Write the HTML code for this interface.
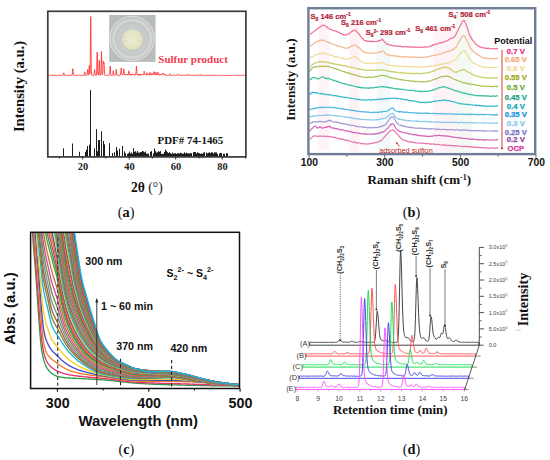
<!DOCTYPE html>
<html><head><meta charset="utf-8"><title>Figure</title>
<style>html,body{margin:0;padding:0;background:#fff;width:550px;height:460px;overflow:hidden;font-family:"Liberation Sans", sans-serif;}svg{display:block}</style>
</head><body>
<svg width="550" height="460" viewBox="0 0 550 460">
<path d="M48.3,75 48.5,75.3 48.7,75.3 48.9,75.2 49.1,75.1 49.3,75.3 49.5,75.4 49.7,75.2 49.9,75.2 50.1,75.1 50.3,75 50.5,75.1 50.7,75.2 50.9,75 51.1,75.3 51.3,75.1 51.5,75.1 51.7,75 51.9,75.4 52.1,75.3 52.3,75.4 52.5,75.3 52.7,75 52.9,75.1 53.1,75.2 53.3,75 53.5,75.4 53.7,75.1 53.9,75 54.1,75.4 54.3,75 54.5,75.4 54.7,75.2 54.9,75.2 55.1,75.1 55.3,75.2 55.5,75 55.7,75 55.9,75.4 56.1,75.1 56.3,75.3 56.5,75.1 56.7,75.4 56.9,75.4 57.1,75.3 57.3,75.3 57.5,75.2 57.7,75.3 57.9,75 58.1,75.2 58.3,75.4 58.5,75.1 58.7,75.4 58.9,75.4 59.1,75.2 59.3,75.1 59.5,75.2 59.7,75.1 59.9,75.4 60.1,75.1 60.3,75 60.5,75 60.7,75.3 60.9,75.4 61.1,75.2 61.3,75.2 61.5,75.2 61.7,75.3 61.9,75.1 62.1,75.3 62.3,75.2 62.5,75.3 62.7,75 62.9,75 63.1,75 63.3,75 63.5,73.8 63.7,72.9 63.9,72.8 64.1,73.7 64.3,74.5 64.5,75.3 64.7,75.3 64.9,75.1 65.1,75.3 65.3,75.3 65.5,75.4 65.7,75.4 65.9,75.2 66.1,75.4 66.3,75.4 66.5,75.2 66.7,75.4 66.9,75.2 67.1,75.1 67.3,75.1 67.5,75.4 67.7,75 67.9,75 68.1,75.4 68.3,75.3 68.5,75.2 68.7,75.4 68.9,75 69.1,75.1 69.3,75.1 69.5,75.2 69.7,75 69.9,75 70.1,75.1 70.3,75.4 70.5,75.4 70.7,75.3 70.9,75.2 71.1,75.1 71.3,75.4 71.5,75.2 71.7,75.3 71.9,74.9 72.1,74.8 72.3,74.1 72.5,71.6 72.7,68.9 72.9,68.7 73.1,71.4 73.3,74 73.5,75.1 73.7,75.1 73.9,75.2 74.1,75.1 74.3,75.3 74.5,75 74.7,75.3 74.9,75.4 75.1,75 75.3,75.2 75.5,75.3 75.7,75.4 75.9,75.2 76.1,75.1 76.3,75.2 76.5,75.4 76.7,75.4 76.9,75 77.1,75 77.3,75 77.5,75 77.7,75.2 77.9,75 78.1,75.4 78.3,75.3 78.5,75 78.7,75.2 78.9,75.1 79.1,75.2 79.3,75.1 79.5,75 79.7,75 79.9,75.1 80.1,75.3 80.3,75.2 80.5,75 80.7,75.3 80.9,75.4 81.1,75.3 81.3,75.3 81.5,75 81.7,75.2 81.9,75 82.1,75.3 82.3,75 82.5,75.3 82.7,75.1 82.9,75.3 83.1,75.1 83.3,75 83.5,75.1 83.7,75.1 83.9,75.4 84.1,74.8 84.3,74 84.5,72.6 84.7,71.9 84.9,72.3 85.1,74.1 85.3,74.9 85.5,75.3 85.7,75.4 85.9,75.1 86.1,75.3 86.3,75.2 86.5,75.2 86.7,75 86.9,75.2 87.1,74.4 87.3,71.9 87.5,69.5 87.7,69.8 87.9,71.8 88.1,73.9 88.3,74.8 88.5,75.2 88.7,74.5 88.9,72 89.1,68.1 89.3,65.5 89.5,68.1 89.7,72 89.9,73.7 90.1,70.2 90.3,55.8 90.5,30.7 90.7,16.5 90.9,30.8 91.1,55.8 91.3,70.5 91.5,74.7 91.7,75.3 91.9,75.2 92.1,75.1 92.3,75.1 92.5,75.2 92.7,75.3 92.9,75.4 93.1,75 93.3,75.2 93.5,75.2 93.7,75.3 93.9,75.2 94.1,74.3 94.3,72 94.5,69.7 94.7,69.7 94.9,72.2 95.1,74.2 95.3,75.1 95.5,75.1 95.7,75.4 95.9,75.1 96.1,75.3 96.3,75.3 96.5,74.6 96.7,71.1 96.9,61.8 97.1,52.2 97.3,52.2 97.5,62 97.7,70.7 97.9,74.4 98.1,74.9 98.3,75.1 98.5,75.2 98.7,74.1 98.9,70.2 99.1,63.6 99.3,60.4 99.5,63.9 99.7,70.1 99.9,73.9 100.1,75.1 100.3,75.3 100.5,75.1 100.7,75.1 100.9,73.2 101.1,67.3 101.3,57.6 101.5,51.5 101.7,57.5 101.9,67.3 102.1,73.3 102.3,74.8 102.5,75 102.7,74.3 102.9,70.7 103.1,64.9 103.3,61.3 103.5,62.6 103.7,63.9 103.9,62.4 104.1,63.3 104.3,68.3 104.5,73.2 104.7,74.5 104.9,75.3 105.1,75.4 105.3,75.3 105.5,75 105.7,75.2 105.9,75 106.1,75.3 106.3,75.3 106.5,75.1 106.7,75 106.9,75.2 107.1,75 107.3,75.1 107.5,75.2 107.7,75.4 107.9,75.1 108.1,75 108.3,75.3 108.5,75.4 108.7,75.2 108.9,75 109.1,75 109.3,75.1 109.5,74.9 109.7,73.3 109.9,70 110.1,66 110.3,66.1 110.5,70 110.7,73.2 110.9,74.9 111.1,75 111.3,75.4 111.5,75.3 111.7,75.3 111.9,75 112.1,75 112.3,75.4 112.5,75.2 112.7,74.9 112.9,73.7 113.1,71.9 113.3,70.6 113.5,71.7 113.7,73.6 113.9,74.7 114.1,75.2 114.3,75.4 114.5,75 114.7,75 114.9,75.2 115.1,75.3 115.3,75 115.5,75 115.7,74.5 115.9,73 116.1,70.6 116.3,69.3 116.5,70.7 116.7,73 116.9,74.5 117.1,75.3 117.3,75.2 117.5,75.2 117.7,75.3 117.9,75.3 118.1,75.2 118.3,75 118.5,75.4 118.7,75.1 118.9,75 119.1,75.1 119.3,75.2 119.5,75.3 119.7,75 119.9,75.3 120.1,75 120.3,74.5 120.5,74.5 120.7,73.1 120.9,71.4 121.1,68.4 121.3,68.1 121.5,71.1 121.7,73.5 121.9,74.4 122.1,74.7 122.3,74.1 122.5,74.3 122.7,74.1 122.9,74.4 123.1,74.2 123.3,74 123.5,71.8 123.7,68.8 123.9,69.4 124.1,71.3 124.3,74.2 124.5,74.9 124.7,74.1 124.9,74.3 125.1,75.1 125.3,74.6 125.5,74.5 125.7,74.7 125.9,74.6 126.1,74.6 126.3,74.5 126.5,75.1 126.7,74.8 126.9,74.6 127.1,74.3 127.3,74.7 127.5,74.3 127.7,74.7 127.9,75.2 128.1,74.3 128.3,74.5 128.5,73.3 128.7,71.8 128.9,70.8 129.1,71.6 129.3,73.1 129.5,74.6 129.7,74.2 129.9,74.4 130.1,74.2 130.3,75.3 130.5,74.5 130.7,74.2 130.9,74.4 131.1,74.9 131.3,74.6 131.5,75.1 131.7,75 131.9,74.9 132.1,74.9 132.3,74.3 132.5,75 132.7,74.7 132.9,74.2 133.1,74.8 133.3,74.2 133.5,74.5 133.7,74.9 133.9,74.4 134.1,74.8 134.3,75 134.5,75.3 134.7,74.8 134.9,74.5 135.1,75.2 135.3,75 135.5,75 135.7,74.8 135.9,74.1 136.1,71.6 136.3,68.7 136.5,66 136.7,68.2 136.9,72.3 137.1,74.1 137.3,74.6 137.5,75.1 137.7,74.5 137.9,74.8 138.1,75.3 138.3,74.8 138.5,75 138.7,75.3 138.9,74.3 139.1,74.8 139.3,74.1 139.5,74 139.7,74.6 139.9,75.1 140.1,74.5 140.3,74.9 140.5,75.3 140.7,75 140.9,74.3 141.1,75.2 141.3,75 141.5,74.8 141.7,74.7 141.9,75 142.1,74.7 142.3,74.6 142.5,74.9 142.7,74.9 142.9,74.9 143.1,75 143.3,75 143.5,74.1 143.7,73.8 143.9,72.5 144.1,71.2 144.3,71.6 144.5,72.6 144.7,74.1 144.9,74.7 145.1,74.5 145.3,74.3 145.5,74.7 145.7,74.6 145.9,74.1 146.1,74.7 146.3,75.2 146.5,74.2 146.7,73.7 146.9,72.9 147.1,72.7 147.3,73.4 147.5,74 147.7,74.4 147.9,74.2 148.1,74.8 148.3,75 148.5,74.6 148.7,75 148.9,74.5 149.1,75.3 149.3,75.1 149.5,74.5 149.7,73.1 149.9,72.4 150.1,72.9 150.3,73.1 150.5,73.9 150.7,74.4 150.9,74.4 151.1,75.2 151.3,74.1 151.5,74.1 151.7,74 151.9,73.5 152.1,73.1 152.3,73.8 152.5,73.8 152.7,74.4 152.9,74.4 153.1,74.7 153.3,74.2 153.5,73.5 153.7,73.2 153.9,71.9 154.1,71.7 154.3,73 154.5,74.2 154.7,74.6 154.9,74.4 155.1,74 155.3,74.9 155.5,74.1 155.7,73.1 155.9,72.2 156.1,73 156.3,73.5 156.5,74.8 156.7,75 156.9,74.6 157.1,74.6 157.3,74.3 157.5,74.8 157.7,73.1 157.9,72.3 158.1,72.2 158.3,73.4 158.5,74.7 158.7,74.3 158.9,75 159.1,75.2 159.3,74.8 159.5,74.7 159.7,75.1 159.9,75.2 160.1,74.8 160.3,74.7 160.5,74.3 160.7,74.8 160.9,74.6 161.1,74.5 161.3,74.8 161.5,74.7 161.7,75.1 161.9,74.3 162.1,74.3 162.3,74.2 162.5,74 162.7,73.6 162.9,73 163.1,72.9 163.3,74.1 163.5,73.8 163.7,74.4 163.9,74.8 164.1,74.3 164.3,75.1 164.5,74.7 164.7,74.6 164.9,74.4 165.1,75.2 165.3,75 165.5,75.1 165.7,75.1 165.9,75 166.1,75.3 166.3,75.4 166.5,75.4 166.7,75.3 166.9,75.4 167.1,75.2 167.3,75.2 167.5,75.4 167.7,75 167.9,75.1 168.1,75.1 168.3,75.1 168.5,75.2 168.7,75 168.9,75.3 169.1,75.4 169.3,75 169.5,74.8 169.7,74.3 169.9,73.9 170.1,73.7 170.3,74.5 170.5,74.8 170.7,75.2 170.9,75.3 171.1,75.3 171.3,75 171.5,75.4 171.7,75.4 171.9,75.2 172.1,75.4 172.3,75.3 172.5,75 172.7,75.1 172.9,75.4 173.1,75.2 173.3,75 173.5,75 173.7,75 173.9,75.2 174.1,75.3 174.3,75.2 174.5,75.2 174.7,75.4 174.9,75.1 175.1,75.3 175.3,75.1 175.5,75.2 175.7,75 175.9,75 176.1,75.1 176.3,75 176.5,75.1 176.7,75.3 176.9,75.2 177.1,75.3 177.3,75.1 177.5,74.8 177.7,74.7 177.9,74 178.1,74.2 178.3,74.8 178.5,75 178.7,75 178.9,75.1 179.1,75.2 179.3,75.1 179.5,75 179.7,75.1 179.9,75.3 180.1,75.4 180.3,75.3 180.5,75.4 180.7,75.4 180.9,75.2 181.1,75.3 181.3,75 181.5,75.3 181.7,75.3 181.9,75.1 182.1,75.2 182.3,75.1 182.5,75.3 182.7,75.2 182.9,75.3 183.1,75.4 183.3,75.3 183.5,75.1 183.7,75.1 183.9,75.4 184.1,75.4 184.3,75 184.5,75.1 184.7,75.3 184.9,75.3 185.1,75.1 185.3,75.2 185.5,75.4 185.7,75 185.9,75.1 186.1,75.3 186.3,75.4 186.5,75.4 186.7,75.2 186.9,75.3 187.1,75.4 187.3,75.1 187.5,74.9 187.7,74.5 187.9,74.4 188.1,74.1 188.3,74.7 188.5,75.2 188.7,75 188.9,75.3 189.1,75.2 189.3,75.4 189.5,75.2 189.7,75.2 189.9,75.4 190.1,75.3 190.3,75 190.5,75.4 190.7,75.1 190.9,75.4 191.1,75.4 191.3,75.2 191.5,75.2 191.7,75.1 191.9,75.1 192.1,75.1 192.3,75 192.5,75.3 192.7,75 192.9,75.2 193.1,75.2 193.3,75.3 193.5,75.2 193.7,75.4 193.9,75.1 194.1,75 194.3,75.2 194.5,75.1 194.7,75.4 194.9,75.4 195.1,75.3 195.3,75.4 195.5,75.1 195.7,75.2 195.9,75.1 196.1,75.1 196.3,75.1 196.5,75.2 196.7,75.3 196.9,75 197.1,75.2 197.3,75 197.5,75.4 197.7,75.2 197.9,75.2 198.1,75.1 198.3,75.3 198.5,75.3 198.7,75.4 198.9,75.2 199.1,75.1 199.3,75.2 199.5,74.8 199.7,74.9 199.9,74.4 200.1,74.6 200.3,74.6 200.5,75.1 200.7,75 200.9,75 201.1,75.1 201.3,75.4 201.5,75.1 201.7,75.2 201.9,75.3 202.1,75.4 202.3,75.1 202.5,75.3 202.7,75.3 202.9,75.3 203.1,75.1 203.3,75.2 203.5,75.3 203.7,75.1 203.9,75.2 204.1,75.3 204.3,75.4 204.5,75.1 204.7,75.3 204.9,75.1 205.1,75 205.3,75.2 205.5,75.3 205.7,75.3 205.9,75.4 206.1,75 206.3,75.2 206.5,75.2 206.7,75.1 206.9,75.4 207.1,75 207.3,75.1 207.5,75 207.7,75.3 207.9,75.3 208.1,75.1 208.3,75.4 208.5,75.3 208.7,75.1 208.9,75.4 209.1,75.4 209.3,75.1 209.5,75.4 209.7,75 209.9,75.1 210.1,75.2 210.3,75.4 210.5,75.1 210.7,75.1 210.9,75.1 211.1,75.4 211.3,75 211.5,75.4 211.7,75.1 211.9,75.2 212.1,75.4 212.3,75.1 212.5,75.2 212.7,75.3 212.9,75.2 213.1,75.2 213.3,75.3 213.5,75.1 213.7,75 213.9,75 214.1,75.3 214.3,75.2 214.5,75.3 214.7,75 214.9,75.3 215.1,75.2 215.3,75.2 215.5,75.4 215.7,75.2 215.9,75.2 216.1,75.3 216.3,75 216.5,75.4 216.7,75.2 216.9,75 217.1,75.2 217.3,75.4 217.5,75.4 217.7,75.2 217.9,75.1 218.1,75.4 218.3,75.1 218.5,75 218.7,75.1 218.9,75.2 219.1,75.3 219.3,75 219.5,75.1 219.7,75.3 219.9,75.1 220.1,75 220.3,75.3 220.5,75.2 220.7,75.3 220.9,75.2 221.1,75.4 221.3,75.2 221.5,75.4 221.7,75.4 221.9,75.3 222.1,75.2 222.3,75.3 222.5,75.1 222.7,75 222.9,75.4 223.1,75.4 223.3,75.3 223.5,75.4 223.7,75.2 223.9,75.4 224.1,75.2 224.3,75.4 224.5,75 224.7,75.1 224.9,75.2 225.1,75.4 225.3,75.2 225.5,75.3 225.7,75.1 225.9,75.3 226.1,75.3 226.3,75.3 226.5,75 226.7,75.3 226.9,75 227.1,75.1 227.3,75 227.5,75.3 227.7,75 227.9,75.3 228.1,75 228.3,75.1 228.5,75.3 228.7,75.4 228.9,75 229.1,75.3 229.3,75.1 229.5,75.3 229.7,75 229.9,75 230.1,75 230.3,75.4 230.5,75.2 230.7,75.3 230.9,75 231.1,75.3 231.3,75.4 231.5,75 231.7,75.3 231.9,75.4 232.1,75.4 232.3,75.2 232.5,75.3 232.7,75.1 232.9,75.3 233.1,75.1 233.3,75.3 233.5,75.3 233.7,75.4 233.9,75.3 234.1,75 234.3,75 234.5,75.1 234.7,75.1 234.9,75.3 235.1,75.1 235.3,75.2 235.5,75.2 235.7,75.1 235.9,75.3 236.1,75.2 236.3,75.4 236.5,75 236.7,75.4 236.9,75.3 237.1,75.2 237.3,75 237.5,75.3 237.7,75.4 237.9,75.1 238.1,75.3 238.3,75.2 238.5,75 238.7,75.4 238.9,75.1 239.1,75.2 239.3,75.3 239.5,75.4 239.7,75.4 239.9,75.1 240.1,75.4 240.3,75 240.5,75.2 240.7,75.2 240.9,75.4 241.1,75.3 241.3,75.3 241.5,75.4 241.7,75.1 241.9,75.2 242.1,75 242.3,75.1 242.5,75 242.7,75.3 242.9,75 243.1,75.4 243.3,75.3 243.5,75.2 243.7,75 243.9,75.2 244.1,75.2 244.3,75 244.5,75.4 244.7,75.1 244.9,75.2 245.1,75.1 245.3,75.1 245.5,75.1" fill="none" stroke="#ff3535" stroke-width="0.9"/>
<path d="M63.5,156.6V148.3M72.5,156.6V143.5M79.5,156.6V151.8M85.5,156.6V151.8M86.5,156.6V149.6M87.5,156.6V146M89.5,156.6V144.7M90.5,156.6V90.1M94.5,156.6V148.3M96.5,156.6V129.2M97.5,156.6V151.3M98.5,156.6V140M99.5,156.6V140M101.5,156.6V131.3M103.5,156.6V140.9M104.5,156.6V144.3M109.5,156.6V143.1M112.5,156.6V153M114.5,156.6V152.2M116.5,156.6V147M117.5,156.6V150.4M119.5,156.6V148.7M122.5,156.6V146M124.5,156.6V151.3M125.5,156.6V153.29M127.5,156.6V153.96M128.5,156.6V153.3M129.5,156.6V151.49M130.5,156.6V153.55M131.5,156.6V152.43M132.5,156.6V153.81M133.5,156.6V148.07M134.5,156.6V151.84M135.5,156.6V151.24M136.5,156.6V152.67M137.5,156.6V150.95M138.5,156.6V152.69M139.5,156.6V152.48M140.5,156.6V152.24M141.5,156.6V151.95M142.5,156.6V151.03M143.5,156.6V151.42M144.5,156.6V152.29M145.5,156.6V151.51M146.5,156.6V153.81M147.5,156.6V153.73M148.5,156.6V153.55M150.5,156.6V151.84M151.5,156.6V151.06M153.5,156.6V153.41M154.5,156.6V148.49M155.5,156.6V151.12M156.5,156.6V152.62M157.5,156.6V152.21M158.5,156.6V151.18M159.5,156.6V151.84M160.5,156.6V151.07M161.5,156.6V153.97M162.5,156.6V153.94M163.5,156.6V153.82M164.5,156.6V151.96M165.5,156.6V149.57M166.5,156.6V151.11M167.5,156.6V152.22M168.5,156.6V153.06M169.5,156.6V152.21M170.5,156.6V153.25M171.5,156.6V153.95M172.5,156.6V152.53M173.5,156.6V153.55M174.5,156.6V153.52M175.5,156.6V153.13M176.5,156.6V153.8M177.5,156.6V153.33M178.5,156.6V153.12M179.5,156.6V153.66M180.5,156.6V152.7M181.5,156.6V153.1M182.5,156.6V153.76M183.5,156.6V153.62M184.5,156.6V152.32M185.5,156.6V153.44M186.5,156.6V152.72M187.5,156.6V153.31M188.5,156.6V153.42M189.5,156.6V153.46M190.5,156.6V153.17M191.5,156.6V153.18M193.5,156.6V152.11M194.5,156.6V152.03M195.5,156.6V152.1M196.5,156.6V153.56M197.5,156.6V152.33M198.5,156.6V152.96M199.5,156.6V153.32M200.5,156.6V153.86M201.5,156.6V153.43M202.5,156.6V153.91M203.5,156.6V152.61M204.5,156.6V152.21M206.5,156.6V152.51M207.5,156.6V153.4M208.5,156.6V152.95M209.5,156.6V152.12M210.5,156.6V153.32M211.5,156.6V152.28M212.5,156.6V152.44M213.5,156.6V153.61M214.5,156.6V152.37M215.5,156.6V152.42M216.5,156.6V152.39M217.5,156.6V153.98M219.5,156.6V153.46M220.5,156.6V152.95M221.5,156.6V153.05M223.5,156.6V153.75M224.5,156.6V153.86M226.5,156.6V153M227.5,156.6V153.37" stroke="#111" stroke-width="0.95" fill="none"/>
<rect x="47.8" y="11.3" width="198.1" height="145.6" fill="none" stroke="#3a3a3a" stroke-width="1.7"/>
<line x1="59.45" y1="156.9" x2="59.45" y2="158.5" stroke="#2a2a2a" stroke-width="1"/>
<line x1="82.7" y1="156.9" x2="82.7" y2="159.5" stroke="#2a2a2a" stroke-width="1"/>
<line x1="105.95" y1="156.9" x2="105.95" y2="158.5" stroke="#2a2a2a" stroke-width="1"/>
<line x1="129.2" y1="156.9" x2="129.2" y2="159.5" stroke="#2a2a2a" stroke-width="1"/>
<line x1="152.45" y1="156.9" x2="152.45" y2="158.5" stroke="#2a2a2a" stroke-width="1"/>
<line x1="175.7" y1="156.9" x2="175.7" y2="159.5" stroke="#2a2a2a" stroke-width="1"/>
<line x1="198.95" y1="156.9" x2="198.95" y2="158.5" stroke="#2a2a2a" stroke-width="1"/>
<line x1="222.2" y1="156.9" x2="222.2" y2="159.5" stroke="#2a2a2a" stroke-width="1"/>
<line x1="245.45" y1="156.9" x2="245.45" y2="158.5" stroke="#2a2a2a" stroke-width="1"/>
<text x="83" y="170.3" font-family='"Liberation Serif", serif' font-size="10.4" font-weight="bold" fill="#222" text-anchor="middle" >20</text>
<text x="129.5" y="170.3" font-family='"Liberation Serif", serif' font-size="10.4" font-weight="bold" fill="#222" text-anchor="middle" >40</text>
<text x="176" y="170.3" font-family='"Liberation Serif", serif' font-size="10.4" font-weight="bold" fill="#222" text-anchor="middle" >60</text>
<text x="222.5" y="170.3" font-family='"Liberation Serif", serif' font-size="10.4" font-weight="bold" fill="#222" text-anchor="middle" >80</text>
<g><rect x="109.2" y="14.9" width="46.3" height="47" fill="#b8bcbb"/><circle cx="132.1" cy="38.5" r="22.2" fill="#c2c6c4" stroke="#dcdedc" stroke-width="1.1"/><circle cx="132.2" cy="38.8" r="18.6" fill="none" stroke="#d2d5d3" stroke-width="3"/><circle cx="132.3" cy="39.2" r="15.8" fill="#c7cbc9"/><circle cx="132.4" cy="39.5" r="10.2" fill="#dfdfbd"/><g stroke="#ececd2" stroke-width="1.1"><line x1="132.4" y1="39.5" x2="141.7" y2="39.5"/><line x1="132.4" y1="39.5" x2="141.14" y2="42.68"/><line x1="132.4" y1="39.5" x2="139.52" y2="45.48"/><line x1="132.4" y1="39.5" x2="137.05" y2="47.55"/><line x1="132.4" y1="39.5" x2="134.01" y2="48.66"/><line x1="132.4" y1="39.5" x2="130.79" y2="48.66"/><line x1="132.4" y1="39.5" x2="127.75" y2="47.55"/><line x1="132.4" y1="39.5" x2="125.28" y2="45.48"/><line x1="132.4" y1="39.5" x2="123.66" y2="42.68"/><line x1="132.4" y1="39.5" x2="123.1" y2="39.5"/><line x1="132.4" y1="39.5" x2="123.66" y2="36.32"/><line x1="132.4" y1="39.5" x2="125.28" y2="33.52"/><line x1="132.4" y1="39.5" x2="127.75" y2="31.45"/><line x1="132.4" y1="39.5" x2="130.79" y2="30.34"/><line x1="132.4" y1="39.5" x2="134.01" y2="30.34"/><line x1="132.4" y1="39.5" x2="137.05" y2="31.45"/><line x1="132.4" y1="39.5" x2="139.52" y2="33.52"/><line x1="132.4" y1="39.5" x2="141.14" y2="36.32"/></g><circle cx="132.4" cy="39.5" r="2" fill="#e8e8c8"/></g>
<text x="158.3" y="62.7" font-family='"Liberation Serif", serif' font-size="11" font-weight="bold" fill="#f4404f" text-anchor="start" >Sulfur product</text>
<text x="157.6" y="143.5" font-family='"Liberation Serif", serif' font-size="10.9" font-weight="bold" fill="#111" text-anchor="start" >PDF# 74-1465</text>
<text x="0" y="0" font-family='"Liberation Serif", serif' font-size="14.6" font-weight="bold" fill="#111" text-anchor="middle" transform="translate(24.4,86.5) rotate(-90)">Intensity (a.u.)</text>
<text x="131" y="191.5" font-family='"Liberation Serif", serif' font-size="13.6" font-weight="normal" fill="#111" text-anchor="start" ><tspan font-weight="bold">2&#952;</tspan> (&#176;)</text>
<text x="126.2" y="216.7" font-family='"Liberation Serif", serif' font-size="14.3" font-weight="normal" fill="#111" text-anchor="middle" >(<tspan font-weight="bold">a</tspan>)</text>
<rect x="318.5" y="20" width="11" height="130" fill="#fef3f6"/>
<rect x="349.5" y="24" width="10" height="128" fill="#fef2f5"/>
<rect x="376.5" y="32" width="13.5" height="118" fill="#f3f9fa"/>
<rect x="433.5" y="28" width="22.5" height="124" fill="#fef4f7"/>
<rect x="456" y="14" width="16.5" height="138" fill="#f4f9f3"/>
<path d="M310,34.5 310.4,34.3 310.8,34.2 311.3,33.5 311.9,33 312.6,32.6 313.2,31.8 313.9,31.5 314.6,31.1 315.3,30.7 316,29.7 316.6,29.4 317.2,28.8 317.8,28.8 318.5,28.2 319.1,27.2 319.8,27.3 320.4,26.9 321.1,26.3 321.7,25.9 322.4,25.4 323,25.2 323.6,25.5 324.3,25.3 324.9,25.7 325.5,26 326.1,26.2 326.8,27 327.4,27.4 328,28.1 328.7,28.3 329.3,28.8 330,29 330.6,29.4 331.2,29.5 331.8,29.6 332.4,30.3 333,30.5 333.7,30.7 334.3,30.8 335,30.7 335.6,30.9 336.2,31.2 336.8,31.2 337.4,32 338,31.9 338.7,32.5 339.4,32.5 340,33.3 340.7,33.5 341.4,33.3 342,33.8 342.6,34.6 343.3,34.5 343.9,35.1 344.4,34.8 345,34.7 345.7,35.1 346.4,35.1 347,34.5 347.7,34.1 348.2,33.9 348.8,34 349.4,33.5 350,32.7 350.7,32.4 351.4,31.8 352,31.3 352.7,31.3 353.3,30.4 353.9,30.4 354.5,30.2 355.2,30.1 355.8,30.9 356.4,31 357.1,32.2 358,32.7 358.5,33.5 359,34 359.6,34.7 360.2,36 360.8,36.7 361.4,37.1 362.1,38.3 362.8,38.6 363.5,39.4 364.2,40.3 365,40.6 365.6,40.5 366.1,41.3 366.8,40.9 367.4,41.1 368.1,41.6 368.8,41.3 369.4,41.4 370.1,41.2 370.8,41.3 371.5,41.6 372.1,41.4 372.8,41.6 373.4,41.4 374,41.5 374.5,41.8 375,41.5 375.9,41.5 376.7,41.7 377.3,41.1 378,40.9 378.5,41.3 379,41 379.5,40.5 380,40.3 380.8,40.3 381.5,39.9 382,39 382.6,39.5 383.3,40.3 384,41.4 385,42.4 385.5,42.6 386,42.9 386.5,43.9 387,43.7 387.6,44.3 388.3,44.3 389.1,45 390,45.1 390.5,45 390.9,45 391.4,45.5 391.8,45.2 392.3,45.4 392.7,45.7 393.2,46 393.8,46 394.3,45.8 394.9,46.3 395.6,45.9 396.3,45.9 397.1,46.1 398,46.3 399,46.1 400,46.3 400.4,46.4 400.9,46.6 401.4,46.3 401.9,46.5 402.4,46.9 403,47 403.6,46.8 404.2,46.8 404.8,46.8 405.4,46.5 406,46.5 406.7,46.5 407.3,47.1 408,47 408.7,47.2 409.4,46.6 410.1,47 410.8,46.9 411.4,47.1 412.1,46.9 412.9,47.4 413.6,46.7 414.2,47.1 414.9,47.2 415.6,47.3 416.3,47.2 417,47.2 417.7,47.3 418.3,47.4 419,47 419.6,47.2 420.2,47.4 420.8,47.4 421.4,47 422,47.3 422.6,47.3 423.1,47.1 423.6,47.1 424.1,47 424.6,47.1 425,47.1 426,46.6 427,46.9 427.8,47.1 428.6,46.9 429.2,46.6 429.8,46.2 430.4,46.3 430.9,46 431.4,45.7 431.9,45.8 432.4,45.1 432.9,45.4 433.3,44.7 433.9,44.9 434.4,44.7 435,44.3 435.6,44.5 436.3,44.1 436.9,44 437.6,44.1 438.3,43.4 439,43 439.6,43.1 440.3,43.1 441,42.6 441.6,42.4 442.2,42.7 442.9,42.3 443.4,42 444,42.1 444.5,41.6 445,41.6 445.9,41 446.6,40.8 447.2,40.8 447.8,40.5 448.3,40.2 448.9,39.6 449.4,39.4 450,38.9 450.6,38.4 451.3,38.4 451.9,38.4 452.6,38.1 453.2,37.7 453.8,37.4 454.4,36.5 455,35.8 455.7,34.9 456.4,33.5 457,32.1 457.7,30.7 458.3,29.4 459,28 459.6,26.7 460.3,25.7 461,24.4 461.7,22.7 462.4,21.4 463.1,20.6 463.7,20.9 464.5,20.6 465.1,22.2 465.8,23.6 466.4,25.2 467,27.2 467.6,28.3 468.1,30.3 468.7,32.4 469.3,34 470,36.2 470.5,36.8 471.1,37.7 471.7,38.6 472.4,39.9 473,40.6 473.7,41.6 474.4,42.4 475,43.2 475.6,44 476.1,44.4 476.7,44.6 477.2,45.3 477.8,45.6 478.4,45.9 479.1,46.6 480,47.1 480.5,46.9 481,47.2 481.6,47.3 482.2,47.7 482.8,47.7 483.5,47.9 484.1,48.1 484.8,47.9 485.5,48.3 486.2,48.4 486.9,47.9 487.5,48.6 488.2,48.5 488.8,48.1 489.4,48.4 490,48.6 490.7,48.8 491.4,48.5 492.1,48.7 492.9,48.9 493.6,48.8 494.3,48.9 495,48.6 495.6,48.7 496.2,48.3 496.7,48.7 497.2,48.7 497.7,48.6 498,48.7" fill="none" stroke="#f2709e" stroke-width="1.2" stroke-linejoin="round"/>
<path d="M310,45.8 310.4,46 310.8,45.8 311.3,45.4 311.9,44.6 312.6,44.3 313.2,43.5 313.9,43.5 314.6,43 315.3,42.2 316,41.7 316.6,41.7 317.2,41.5 317.8,41.4 318.5,41 319.1,40.4 319.8,40.8 320.4,40.1 321.1,40.5 321.7,40 322.4,40.1 323,40.4 323.6,40 324.2,40.2 324.7,40.6 325.2,40.9 325.7,41.3 326.3,41.5 326.9,41.9 327.5,41.9 328.2,42.6 329.1,42.4 330,42.8 330.5,43.2 331,43.2 331.5,43.7 332.1,43.8 332.6,44 333.3,44.4 333.9,44.5 334.6,44.5 335.2,44.8 335.9,45.4 336.6,45.7 337.3,45.4 338,46.1 338.7,46.4 339.3,46.3 340,46.6 340.7,46.6 341.3,47 341.9,47.2 342.5,47.4 343.1,47.2 343.6,48 344.1,47.8 344.6,47.8 345,48.2 346.1,48.2 347,48.2 347.6,48.3 348.2,47.6 348.6,47.8 349,47.4 349.5,47.5 350,47.3 350.7,46.5 351.4,46.3 352,45.6 352.7,45.5 353.3,45.4 353.9,45.2 354.5,44.8 355.2,44.8 355.8,45 356.4,45.8 357.1,46.6 358,46.7 358.5,47.6 359,47.5 359.6,48.2 360.2,48.8 360.8,49.7 361.4,50 362.1,50.6 362.8,51.4 363.5,51.5 364.2,52.3 365,52.2 365.5,52.7 366.1,52.6 366.7,52.7 367.3,53 368,53.1 368.6,53.1 369.3,53.1 369.9,53.2 370.6,53 371.3,53 371.9,53.3 372.6,53.2 373.2,53.1 373.8,53.3 374.4,53.1 375,53.2 375.7,52.7 376.4,53 377.1,52.9 377.7,52.8 378.4,52.2 379.1,52 379.7,52.2 380.3,51.5 380.9,51.9 381.5,51.7 382,51.1 382.5,51.1 383,51.5 383.8,51.4 384.3,51.8 384.7,52.9 385.1,53.3 385.9,54.2 387,54.2 387.4,54.6 387.8,54.9 388.3,54.5 388.7,54.8 389.2,55.2 389.7,55.5 390.2,55.6 390.8,55.1 391.3,55.5 391.9,55.8 392.5,55.7 393.1,55.9 393.8,55.7 394.4,55.7 395.1,55.8 395.9,55.8 396.6,56.3 397.4,56.3 398.3,56.4 399.1,56.2 400,56.3 400.5,56.3 401,56.8 401.5,56.9 402,56.9 402.5,56.4 403.1,56.4 403.6,57.1 404.2,56.7 404.8,57 405.4,56.7 406,56.9 406.6,56.9 407.2,56.9 407.8,57 408.5,56.7 409.1,57.2 409.8,57.3 410.4,56.9 411.1,57.1 411.7,57.3 412.4,57.1 413.1,57 413.7,57 414.4,57.2 415,56.9 415.7,57.5 416.4,57.5 417,57.4 417.7,57.5 418.3,57.4 419,57.2 419.6,57.3 420.3,57.3 420.9,57.6 421.5,57.4 422.1,57 422.7,57.4 423.3,57.3 423.9,57.3 424.4,57.3 425,56.9 425.7,57.2 426.4,57.1 427,56.9 427.7,56.9 428.4,56.8 429.1,56.4 429.7,56.5 430.4,55.9 431.1,56 431.7,56 432.4,55.5 433.1,55.6 433.7,55.6 434.4,55.5 435,55.1 435.6,55.4 436.2,55 436.9,54.7 437.5,54.7 438.1,54.5 438.7,54.3 439.3,54 439.8,54.3 440.4,53.9 441,53.8 441.5,53.6 442,53.6 442.6,52.8 443.1,53.1 443.6,53 444.1,52.5 444.5,52.5 445,52.1 445.9,51.9 446.8,51.8 447.6,51.3 448.3,51.2 449,51.4 449.7,50.9 450.3,50.7 450.9,50.7 451.5,50.2 452.1,50.3 452.6,49.7 453.1,49.6 453.6,48.7 454.1,48.8 454.5,48.6 455,47.7 455.9,47.4 456.6,45.9 457.3,45.1 457.9,43.8 458.4,42.9 459,41.9 459.5,40.5 460,40.3 460.7,38.9 461.3,37.9 462,37 462.5,36.1 463.1,35.6 463.7,35.7 464.4,36 465,36.7 465.6,38.3 466.2,39.4 467,40.7 467.5,41.8 468.1,42.7 468.6,44 469.2,45.6 469.8,46.6 470.5,48.2 471.2,49.2 472,49.7 472.5,50.9 473.1,51.4 473.7,51.4 474.3,52.5 475,52.6 475.7,53.2 476.3,54 477,53.9 477.7,54.5 478.3,55.2 478.9,55.5 479.5,55.6 480,56.3 480.7,56.7 481.3,57 481.7,57 482.2,57.6 482.7,57.7 483.3,57.8 484,57.8 485,58.3 485.5,58.1 486,58.4 486.6,58.6 487.2,58.4 487.8,58.3 488.5,58.6 489.2,58.5 490,58.7 490.7,58.6 491.4,58.9 492.2,58.9 492.9,58.7 493.6,58.3 494.3,58.3 495,58.8 495.6,58.7 496.2,58.6 496.8,58.4 497.2,58.3 497.7,58.6 498,58.5" fill="none" stroke="#f6b890" stroke-width="1.2" stroke-linejoin="round"/>
<path d="M310,57.9 310.4,57.7 310.8,57.6 311.3,56.9 311.9,56.7 312.6,56.8 313.2,56.5 313.9,56.1 314.6,55.2 315.3,54.9 316,54.8 316.6,54.7 317.2,54.6 317.8,54.1 318.5,54.1 319.1,53.6 319.8,53.4 320.4,53.7 321.1,53.4 321.7,53.4 322.4,53.1 323,53.2 323.6,53 324.2,53.2 324.7,53.5 325.2,53.7 325.7,53.4 326.3,53.6 326.9,54.2 327.5,54.3 328.2,54.7 329.1,54.5 330,54.9 330.5,55 331,55.5 331.5,55.3 332.1,55.7 332.6,56.1 333.3,55.8 333.9,56.1 334.6,56.4 335.2,56.8 335.9,56.6 336.6,56.8 337.3,56.8 338,57.5 338.7,57.1 339.3,57.3 340,57.8 340.7,58 341.3,58.3 341.9,58.2 342.5,58.6 343.1,58.3 343.6,58.5 344.1,58.9 344.6,58.6 345,58.9 346.1,59.3 347,59.4 347.6,59.1 348.2,58.9 348.6,58.9 349,59 349.5,58.6 350,58.2 350.7,58.4 351.4,58 352,57.8 352.7,57.4 353.3,57.1 353.9,56.5 354.5,56.7 355.2,56.6 355.8,57 356.4,57.6 357.1,58.6 358,59.3 358.5,59.1 359,59.6 359.4,60 360,60.4 360.5,60.9 361.1,61.3 361.7,61.6 362.4,62.2 363.2,62.7 364,62.8 365,63.2 365.5,63.1 366,62.9 366.5,63.4 367.1,63.5 367.7,63.1 368.3,63 369,63.3 369.6,63.3 370.3,63.4 371,63.6 371.7,63.4 372.4,63.5 373.1,63 373.8,63.3 374.5,63.4 375.2,62.9 375.8,62.9 376.4,63.3 377.1,63.4 377.6,62.8 378.2,63.2 378.7,62.8 379.2,63.2 379.6,63.1 380,62.8 381.4,62.7 382,62.9 382.3,62.6 382.5,62.6 383,62.4 383.5,62.6 383.9,63.3 384.4,63.5 385,63.8 385.8,64.2 387,64.7 387.4,64.7 387.8,65 388.3,64.7 388.7,65.1 389.2,65.1 389.7,65.3 390.2,65.4 390.8,65.5 391.3,65.6 391.9,65.8 392.5,65.6 393.1,65.7 393.8,65.9 394.4,66 395.1,65.8 395.9,65.9 396.6,65.8 397.4,66.3 398.3,66.5 399.1,66.2 400,66.1 400.5,66.1 401,66.3 401.5,66.2 402,66.7 402.5,66.1 403.1,66.3 403.6,66.2 404.2,66.6 404.8,66.7 405.4,66.4 406,66.3 406.6,66.6 407.2,66.7 407.8,67 408.5,66.4 409.1,66.5 409.8,66.5 410.4,66.6 411.1,66.6 411.7,67 412.4,66.9 413.1,66.6 413.7,66.6 414.4,66.7 415,66.6 415.7,67.1 416.4,66.8 417,66.9 417.7,67.1 418.3,66.9 419,66.7 419.6,67.2 420.3,67.2 420.9,66.7 421.5,66.9 422.1,67.1 422.7,66.8 423.3,66.6 423.9,66.4 424.4,67 425,66.9 425.7,66.6 426.4,66.6 427,66.6 427.7,66.3 428.4,66.8 429.1,66.5 429.7,66.1 430.4,65.8 431.1,66.1 431.7,65.9 432.4,66.1 433.1,66 433.7,65.8 434.4,65.4 435,65.3 435.6,65.3 436.2,65.1 436.9,65.4 437.5,65.1 438.1,65 438.7,65.2 439.3,64.6 439.8,64.6 440.4,64.2 441,64.6 441.5,63.9 442,64.4 442.6,64.3 443.1,64.2 443.6,63.5 444.1,63.5 444.5,63.8 445,63.2 445.9,63.3 446.8,63.1 447.6,63.2 448.3,62.8 449,62.8 449.7,62.2 450.3,62.3 450.9,61.9 451.5,62 452.1,61.2 452.6,61.5 453.1,60.9 453.6,60.8 454.1,60.6 454.5,60 455,60.2 455.9,59.2 456.6,58.5 457.3,57.5 457.9,56.9 458.4,56.2 459,55.5 459.5,54.6 460,54.1 460.7,52.9 461.3,52.2 462,51.5 462.5,51.2 463.1,50.7 463.7,50.5 464.4,50.4 465,51.4 465.6,52.7 466.2,53.6 467,55 467.5,55.8 468.1,56.3 468.6,57.9 469.2,58.7 469.8,59.3 470.5,60.5 471.2,61.1 472,61.9 472.5,62.4 473.1,62.7 473.7,63.1 474.3,63.5 475,64 475.7,64 476.3,64.3 477,64.9 477.7,64.9 478.3,65.6 478.9,65.6 479.5,65.9 480,65.9 480.7,66.5 481.3,66.3 481.7,66.5 482.2,66.7 482.7,67.2 483.3,67.3 484,67.1 485,67.3 485.5,67.7 486,67.5 486.6,67.2 487.2,67.3 487.8,67.3 488.5,67.3 489.2,67.5 490,67.2 490.7,67.8 491.4,67.5 492.2,67.5 492.9,67.6 493.6,67.7 494.3,67.7 495,67.4 495.6,67.4 496.2,67.4 496.8,67.2 497.2,67.4 497.7,67.6 498,67.8" fill="none" stroke="#f1dc98" stroke-width="1.2" stroke-linejoin="round"/>
<path d="M310,67.2 310.4,66.8 310.8,66.3 311.4,65.3 312,65 312.7,64.4 313.4,64 314.2,63.1 315,62.9 315.5,62.8 316,62.8 316.6,62.7 317.1,62.4 317.7,61.9 318.3,62.2 318.9,62.2 319.5,61.8 320.1,61.6 320.8,61.7 321.5,61.4 322.2,61.8 323,62 323.5,61.7 324,61.9 324.6,62.1 325.1,61.7 325.6,62.3 326.2,62.2 326.8,62 327.4,62 328,62.3 328.6,62.6 329.2,62.9 329.8,62.7 330.4,63.3 331.1,63 331.7,63.3 332.3,63.2 333,63.9 333.7,63.5 334.3,64.1 335,64 335.5,64.1 336.1,64.3 336.7,64.2 337.2,64.7 337.8,64.9 338.4,64.9 339,64.9 339.6,64.6 340.2,65.3 340.8,65 341.4,65.5 342,65.2 342.6,65.6 343.2,65.9 343.9,65.5 344.5,65.9 345.1,65.7 345.7,65.8 346.3,66 347,66.7 347.6,66.8 348.2,66.7 348.8,66.6 349.4,67 350,67.2 350.6,67 351.2,67.3 351.8,67.6 352.4,67.2 353,67.4 353.5,67.8 354.1,67.7 354.7,68 355.3,68.2 355.9,68.1 356.4,68.5 357,68.4 357.6,68.8 358.2,68.8 358.8,69.1 359.4,68.8 360,69.4 360.6,69.1 361.2,69.8 361.8,69.6 362.4,69.7 363.1,69.7 363.7,69.9 364.3,70.1 365,70.2 365.6,70.2 366.1,70.1 366.7,70.5 367.3,70.4 367.8,70.4 368.4,70.1 369,70.1 369.6,70.2 370.2,70.5 370.8,70.2 371.4,70.2 372,70.1 372.6,70.4 373.3,70 373.9,69.8 374.5,70.3 375.1,70.4 375.7,70.2 376.3,70.1 377,70.2 377.6,69.9 378.2,70.1 378.8,69.7 379.4,69.8 380,70 380.6,70.1 381.2,70 381.8,69.8 382.4,70.3 383,70.2 383.6,70.1 384.2,70.2 384.8,70.3 385.4,70.3 386,70.2 386.6,70.9 387.1,71.1 387.7,70.9 388.3,71.2 388.8,71 389.4,71.4 389.9,71.1 390.5,71.5 391.1,71.5 391.6,71.9 392.2,71.4 392.8,72 393.4,71.7 394,72.1 394.6,72.5 395.2,71.9 395.8,72.2 396.5,72.3 397.2,72.4 397.8,72.3 398.5,73 399.3,73 400,72.7 400.5,72.7 401.1,72.9 401.6,72.6 402.2,72.6 402.7,73.3 403.3,72.9 403.9,73.1 404.5,73.4 405.1,73.5 405.8,73.1 406.4,73 407,73.1 407.7,73.6 408.3,73.6 409,73.1 409.6,73.6 410.3,73.3 411,73.4 411.6,73.2 412.3,73.7 413,73.8 413.6,73.3 414.3,73.6 414.9,73.3 415.6,73.8 416.2,73.2 416.9,73.2 417.5,73.7 418.2,73.4 418.8,73.8 419.4,73.8 420,73.6 420.6,73.2 421.2,73.6 421.8,73.7 422.4,73.4 422.9,73.1 423.5,73.1 424,73.2 424.5,73.4 425,73 425.8,72.9 426.6,72.8 427.3,73 428.1,72.9 428.8,72.4 429.5,72.5 430.2,72.4 430.8,72 431.5,71.5 432.1,71.4 432.7,71.6 433.3,71.2 433.9,70.7 434.5,70.7 435.1,70.1 435.6,70.5 436.1,69.9 436.7,69.7 437.2,69.5 437.7,69 438.2,69.2 438.6,68.8 439.1,68.6 439.6,68.8 440,68.2 440.9,68.1 441.7,68.2 442.5,67.6 443.1,67.4 443.7,67.5 444.2,67.1 444.7,67.5 445.2,67.5 445.8,66.9 446.4,67.2 447,67.6 447.6,67.5 448.2,68.2 448.8,68.2 449.5,68.4 450.1,69.1 450.8,69.6 451.5,69.9 452.1,70.5 452.7,71 453.3,71.2 453.9,71.6 454.5,72.1 455,72.1 455.8,72.1 456.5,72.4 457.2,71.6 457.8,71.8 458.4,71 458.9,71 459.5,70.5 460,70.5 460.7,70.5 461.3,70.3 461.9,70.1 462.5,69.5 463.1,69.6 463.7,69.5 464.3,69.9 464.8,70.1 465.4,70.1 465.9,70.8 466.6,71.3 467.2,71.6 468,72.3 468.5,72.1 469.1,72.3 469.6,72.6 470.2,73.2 470.8,73.5 471.5,73.9 472.1,74.1 472.8,74.8 473.5,74.6 474.2,75.5 475,75.5 475.5,75.7 476.1,76.1 476.6,75.9 477.2,76 477.8,76.2 478.4,76.2 479,76.6 479.6,76.9 480.3,77 480.9,77 481.6,77.3 482.2,77.1 482.9,77.7 483.6,77.4 484.3,77.5 485,77.6 485.6,78 486.2,78.1 486.8,78.1 487.5,77.7 488.2,77.9 488.9,77.9 489.6,77.8 490.3,78.4 491,77.7 491.8,78 492.5,78.2 493.2,78.4 493.9,77.8 494.5,78 495.1,78.2 495.7,77.7 496.3,77.8 496.8,78.3 497.3,77.7 497.7,77.9 498,77.9" fill="none" stroke="#c9cf6a" stroke-width="1.2" stroke-linejoin="round"/>
<path d="M310,71.4 310.3,70.6 310.7,69.7 311.2,69.4 312,68.4 313,67.7 313.4,67.1 313.9,67 314.4,67.1 315,66.7 315.6,66.8 316.2,67 316.9,66.5 317.5,66.5 318.2,66.8 318.9,66.5 319.5,66.1 320.2,66.3 320.8,66.4 321.4,66 322,66.2 322.6,66.4 323.2,66.5 323.8,66.3 324.3,66.5 324.8,66.2 325.4,66.2 325.9,66.5 326.5,66.2 327.1,66.6 327.7,66.3 328.4,66.5 329.2,66.6 330,67 330.5,66.9 330.9,67 331.4,67.2 332,67.5 332.5,67.6 333,67.9 333.6,68.4 334.1,68.4 334.7,68.7 335.3,68.5 335.8,68.8 336.4,68.8 337.1,69.5 337.7,69.4 338.3,69.6 338.9,69.7 339.6,70 340.2,70.3 340.9,70.6 341.6,71.2 342.2,71.3 342.9,71.2 343.6,71.5 344.3,71.5 345,72.3 345.5,72.1 346.1,72.5 346.6,72.7 347.2,73 347.8,72.5 348.4,72.9 348.9,73.2 349.5,73.1 350.1,73.9 350.8,73.7 351.4,74.2 352,74.3 352.6,74.1 353.2,74.6 353.9,74.7 354.5,74.7 355.1,75 355.8,75.5 356.4,75.3 357,75.6 357.7,75.9 358.3,76.1 358.9,76 359.6,76.6 360.2,76.4 360.8,76.9 361.4,77 362,76.7 362.6,76.9 363.2,77 363.8,77.4 364.4,77.3 365,77.3 365.6,77.7 366.3,77.3 366.9,77.3 367.6,77.4 368.2,77.3 368.9,77.1 369.6,77.1 370.2,77.4 370.9,77.3 371.6,77.4 372.2,77.4 372.9,76.9 373.5,77 374.2,77.1 374.8,76.5 375.4,76.7 376.1,76.6 376.7,76.7 377.3,76.6 377.9,76 378.5,76.2 379,75.7 379.6,75.9 380.1,75.8 380.7,75.5 381.2,75.6 381.7,75.5 382.1,75.6 382.6,75.5 383,75.4 384,75.6 384.9,75.7 385.6,75.6 386.2,76.1 386.8,76 387.2,76.1 387.7,76.5 388.2,76.8 388.7,76.9 389.3,77.4 390,77.6 390.5,77.7 391,77.9 391.5,77.5 391.9,77.9 392.4,78 392.9,77.9 393.4,78.3 393.9,78.2 394.4,78.6 395,78.8 395.7,78.8 396.4,78.9 397.2,78.9 398,78.9 399,79.3 400,79.8 400.4,79.6 400.9,79.4 401.4,79.8 401.9,79.5 402.4,79.8 402.9,80 403.4,80.3 404,79.9 404.6,80.2 405.2,80.5 405.8,80.5 406.4,80.5 407,80.5 407.6,80.5 408.3,80.6 408.9,80.5 409.6,81 410.2,81.1 410.9,80.9 411.5,81.3 412.2,80.8 412.9,80.9 413.6,81.3 414.2,81.2 414.9,81.3 415.6,81.8 416.3,81.3 416.9,81.3 417.6,81.4 418.3,81.8 418.9,81.5 419.6,81.4 420.2,81.8 420.8,81.7 421.5,81.6 422.1,81.8 422.7,81.9 423.3,81.8 423.9,81.8 424.4,81.8 425,81.9 425.7,82 426.4,81.4 427,81.3 427.7,81.6 428.4,81.1 429.1,81.2 429.7,81 430.4,80.8 431.1,80.8 431.7,80.5 432.4,79.9 433.1,80 433.7,79.7 434.4,79.5 435,79.1 435.6,78.8 436.2,78.9 436.9,78.6 437.5,78.1 438.1,77.9 438.7,77.8 439.3,77.4 439.8,77.5 440.4,77 441,76.8 441.5,76.6 442,76.5 442.6,76.8 443.1,76.2 443.6,76.4 444.1,76.5 444.5,76.2 445,76 445.9,76.4 446.7,76.4 447.5,76 448.2,76.2 448.9,76.6 449.5,77 450.1,76.9 450.6,77.4 451.2,77.4 451.7,78 452.2,78 452.7,78.3 453.3,78.9 453.8,79.3 454.4,79.5 455,79.5 455.6,79.7 456.2,80.1 456.7,80.2 457.3,80.6 457.8,80.8 458.3,80.5 458.8,80.9 459.4,81.4 459.9,81.3 460.5,81.5 461.1,81.6 461.8,82.2 462.5,82.7 463.3,82.9 464.1,82.5 465,83.1 465.5,83 466,83.3 466.5,83.2 467,83.7 467.6,83.9 468.1,83.3 468.7,83.9 469.3,83.6 469.9,83.7 470.5,84 471.2,84.4 471.8,84.7 472.5,84.2 473.1,84.5 473.8,84.4 474.5,84.8 475.1,84.9 475.8,84.9 476.5,85 477.2,85.4 477.8,85.6 478.5,85.3 479.1,85.5 479.8,85.7 480.4,85.9 481,86.1 481.7,85.8 482.3,86.1 482.8,86.1 483.4,86.3 484,85.9 484.5,86 485,86 485.8,86.7 486.6,86.3 487.3,86.5 488.1,86.3 488.9,86.4 489.6,86.3 490.3,86.6 491,86.4 491.7,86.7 492.4,86.5 493.1,86.4 493.7,86.6 494.3,86.5 494.9,86.4 495.4,86.2 496,86.2 496.4,86.8 496.9,86.4 497.3,86.2 497.7,86.3 498,86.5" fill="none" stroke="#a9c45a" stroke-width="1.2" stroke-linejoin="round"/>
<path d="M310,80.3 310.4,79.4 310.9,79.3 311.5,78.4 312.2,77.8 313,77.7 313.5,77.4 314.1,77.2 314.8,77.8 315.4,78 316.1,78.2 316.8,78.2 317.4,78.8 318,78.8 318.7,78.7 319.4,78.1 320.1,78.1 320.7,77.7 321.3,77.1 322,76.9 322.7,77 323.3,77.2 324,77.4 324.7,77.9 325.3,78.5 326,78.4 326.5,78.6 326.9,78.2 327.3,78.3 327.9,78.9 328.7,78.3 330,79 330.4,79.3 330.8,79.5 331.3,79.6 331.7,79.5 332.2,79.9 332.7,80.1 333.3,80.3 333.8,80.6 334.4,80.2 335,81 335.6,80.9 336.2,81.3 336.8,81.2 337.5,81.9 338.1,81.5 338.8,82.1 339.4,82.1 340.1,82.5 340.8,82.7 341.5,83.1 342.2,83.4 342.9,83.3 343.6,83.7 344.3,83.7 345,83.8 345.5,84.4 346.1,84.2 346.6,84.1 347.2,84.5 347.8,84.9 348.4,84.7 348.9,85.2 349.5,85.2 350.1,85.4 350.8,85.2 351.4,85.3 352,85.5 352.6,85.8 353.2,86 353.9,85.8 354.5,86.3 355.1,86.4 355.8,86.5 356.4,86.8 357,87.2 357.7,86.8 358.3,87.4 358.9,87.1 359.6,87.5 360.2,87.1 360.8,87.9 361.4,87.6 362,88 362.6,87.6 363.2,87.8 363.8,88 364.4,87.7 365,87.8 365.6,88.2 366.3,88.4 366.9,87.9 367.5,87.8 368.2,88 368.8,88.4 369.5,87.7 370.1,88 370.7,87.8 371.4,87.9 372,87.6 372.6,87.8 373.3,87.9 373.9,87.8 374.5,87.6 375.1,87.4 375.7,87.4 376.3,87 376.9,87.4 377.5,87.2 378.1,87 378.7,87.1 379.3,86.8 379.8,86.8 380.4,86.6 380.9,86.8 381.5,86.8 382,86.7 382.5,86.4 383,86.8 383.7,86.7 384.4,86.8 385,86.9 385.5,87.1 386,86.7 386.5,87 386.9,87.4 387.4,87.3 387.8,87.1 388.2,87.5 388.7,87.8 389.2,87.5 389.7,87.9 390.3,87.5 390.9,88.2 391.5,88 392.3,87.9 393.1,88.5 394,88.5 395,88.8 395.4,88.8 395.9,88.8 396.3,88.7 396.8,89.1 397.3,88.5 397.9,89.1 398.4,89.1 398.9,88.8 399.5,89.3 400.1,89.1 400.7,89.2 401.3,89.5 401.9,89.2 402.5,89.3 403.1,89.6 403.8,89.3 404.4,89.7 405.1,90 405.8,89.9 406.4,89.8 407.1,90.2 407.8,90.4 408.4,90.4 409.1,90.3 409.8,90.6 410.5,90.7 411.2,90.3 411.9,90.5 412.5,90.4 413.2,90.4 413.9,90.7 414.6,91.1 415.2,91.2 415.9,90.7 416.5,90.9 417.2,91.1 417.8,91.4 418.4,91.3 419.1,91.6 419.7,91 420.3,91.7 420.9,91.2 421.4,91.5 422,91.7 422.5,91.6 423.1,91.3 423.6,91.6 424.1,91.5 424.5,91.2 425,91.4 425.9,91.3 426.7,91.5 427.6,91.2 428.4,91.3 429.1,91.2 429.9,90.7 430.6,90.5 431.3,90.8 431.9,90.4 432.6,90 433.2,89.8 433.8,90.1 434.3,89.7 434.9,89.3 435.4,89 436,89.3 436.5,88.9 436.9,88.7 437.4,88.3 437.9,88.1 438.3,88 438.8,87.6 439.2,87.8 439.6,87.5 440,87.7 441.1,87.2 441.8,87 442.4,86.9 442.8,87.1 443.2,86.6 443.6,86.9 444.2,86.7 445,87.1 445.5,87 446,87.5 446.5,87.3 447,87.8 447.6,87.9 448.2,88 448.8,88.5 449.4,88.4 450,88.9 450.7,89 451.3,89.2 452,89.2 452.7,89.7 453.5,89.9 454.2,90.2 455,90.8 455.5,90.5 456,90.9 456.6,91.1 457.1,91 457.7,91.2 458.3,91.2 458.8,91.9 459.4,91.7 460,92 460.6,92.1 461.3,92.6 461.9,92.8 462.5,92.8 463.1,92.9 463.8,92.8 464.4,93.5 465,93.1 465.7,93.5 466.3,93.6 466.9,94 467.5,94.1 468.2,94 468.8,94.5 469.4,94.7 470,94.2 470.6,94.7 471.2,94.7 471.8,94.7 472.4,94.9 473,94.9 473.6,95.2 474.3,95.2 474.9,95.5 475.5,95.6 476.1,95.7 476.7,95.3 477.3,95.7 477.9,95.6 478.5,95.7 479.1,96 479.7,95.4 480.3,95.7 480.9,95.7 481.5,95.9 482.1,95.6 482.7,96.2 483.3,95.7 483.9,95.8 484.4,95.7 485,95.9 485.7,96.2 486.4,95.8 487.1,95.8 487.8,96.2 488.5,96.2 489.2,96.3 490,95.9 490.7,96.3 491.4,96.3 492.1,96.3 492.8,95.8 493.4,96.1 494.1,95.7 494.7,96.3 495.3,96.4 495.8,96.3 496.4,95.7 496.8,95.9 497.3,96 497.7,96 498,95.7" fill="none" stroke="#3fc0a4" stroke-width="1.2" stroke-linejoin="round"/>
<path d="M310,95.2 310.3,94.1 310.8,93.2 312,92.3 312.4,92.6 312.8,92.3 313.2,92.3 313.6,92.6 314.1,92.5 314.6,92.9 315.2,92.6 315.8,92.8 316.5,92.6 317.2,92.9 318,93.2 319,93.4 320,93.5 320.4,93.8 320.9,93.3 321.3,93.9 321.8,93.5 322.3,94.2 322.8,93.9 323.4,93.9 323.9,94.1 324.5,94.4 325,94.6 325.6,94.3 326.2,94.1 326.8,94.3 327.4,94.8 328,94.9 328.6,94.9 329.3,94.6 329.9,95 330.5,94.8 331.2,94.9 331.9,95.1 332.5,95.7 333.2,95.6 333.9,95.8 334.5,95.4 335.2,95.7 335.9,95.6 336.6,95.8 337.3,95.8 337.9,96.5 338.6,96.2 339.3,96.4 340,96.6 340.6,96.9 341.1,97 341.7,96.8 342.2,96.8 342.8,97.2 343.4,97 343.9,97 344.5,97.4 345.1,97.2 345.7,97.3 346.3,97.5 346.9,97.6 347.5,97.7 348.1,97.8 348.7,97.9 349.3,97.8 349.9,98.4 350.5,98 351.1,98.4 351.7,98.5 352.3,98.5 352.9,98.5 353.5,98.5 354.2,98.8 354.8,98.9 355.4,99.1 356,99 356.7,99.4 357.3,99.3 357.9,99.1 358.6,99.4 359.2,99.9 359.9,99.3 360.5,99.8 361.1,100.1 361.8,99.7 362.4,99.9 363.1,99.8 363.7,99.8 364.4,100.1 365,100.1 365.6,99.9 366.2,100 366.8,100 367.4,100.2 368,99.7 368.6,99.7 369.2,99.8 369.8,99.8 370.5,100.1 371.1,99.9 371.7,100.1 372.4,99.8 373,99.6 373.7,99.9 374.3,99.4 375,100 375.6,99.8 376.3,99.4 376.9,99.3 377.6,99.6 378.2,99.6 378.9,99.4 379.5,98.9 380.1,99.4 380.8,98.8 381.4,99.1 382.1,99 382.7,99.2 383.3,99 384,98.5 384.6,99.1 385.2,98.9 385.8,98.7 386.4,98.3 387,98.7 387.6,98.4 388.2,98.6 388.7,98.8 389.3,98.7 389.9,98.1 390.4,98.5 391,98.3 391.5,98.5 392,98.2 392.5,98.3 393,98.3 393.8,98 394.6,98.2 395.3,98.5 396,98.1 396.7,98.2 397.4,98.8 398.1,98.7 398.7,98.7 399.3,98.5 400,98.5 400.6,98.8 401.2,99.3 401.7,99.1 402.3,99.5 402.9,99.1 403.4,99.3 404,99.5 404.5,99.8 405.1,99.4 405.6,100 406.1,99.9 406.7,99.6 407.2,100 407.8,100.1 408.3,100.4 408.9,100.6 409.4,100.4 410,100.6 410.6,100.5 411.3,100.9 411.9,100.5 412.5,101 413,100.7 413.6,101.1 414.2,101 414.8,101.2 415.3,101.2 415.9,101.4 416.5,101.7 417,101.7 417.6,101.8 418.2,102 418.7,102.3 419.3,102 419.9,102.2 420.5,102.2 421.1,102.7 421.7,102.3 422.3,102.6 423,102.3 423.6,102.3 424.3,102.7 425,102.6 425.5,102.3 426.1,102.2 426.6,102.7 427.2,102.3 427.8,102.5 428.4,102.2 429,102.3 429.6,102.2 430.2,102.4 430.9,102.2 431.5,101.8 432.1,101.7 432.8,101.5 433.4,101.7 434,101.2 434.7,101.2 435.3,101.5 436,100.8 436.6,101.1 437.2,101 437.9,100.8 438.5,100.6 439.1,100.4 439.8,100.9 440.4,100.6 441,100.6 441.6,100.1 442.2,100.5 442.8,100 443.4,100 443.9,100.2 444.5,100.3 445,99.9 445.7,100.4 446.3,100.3 447,100.6 447.6,100.7 448.2,100.6 448.7,100.5 449.3,101.1 449.8,101 450.4,100.9 450.9,101.4 451.4,101.5 451.9,101.3 452.5,101.5 453,101.5 453.5,102 454.1,102 454.6,102.2 455.2,102.3 455.8,102.4 456.4,102.8 457.1,102.8 457.8,103 458.5,103.1 459.2,103.4 460,103.8 460.5,103.3 461,103.9 461.5,104 462.1,103.9 462.7,103.9 463.2,104.1 463.8,104 464.4,104.2 465,104.4 465.7,104.4 466.3,104.1 466.9,104.1 467.6,104.7 468.3,104.4 468.9,104.8 469.6,104.5 470.3,104.7 470.9,104.7 471.6,105 472.3,105.2 473,105 473.6,105.1 474.3,105 475,105 475.7,105.6 476.3,105 477,105.7 477.6,105.5 478.3,105.2 478.9,105.8 479.5,105.3 480.1,105.7 480.7,105.4 481.3,106.1 481.9,105.6 482.5,106.1 483,105.6 483.5,106 484,105.6 484.5,105.6 485,106 485.9,106.4 486.8,106.2 487.6,106.4 488.4,106.4 489.2,106.2 490,105.9 490.7,106.2 491.4,106 492.1,106.2 492.7,106.1 493.4,106.1 494,105.9 494.5,106.3 495.1,106 495.6,106.1 496.1,105.8 496.5,106 496.9,106.1 497.3,106.3 497.7,106 498,105.7" fill="none" stroke="#3cb9cc" stroke-width="1.2" stroke-linejoin="round"/>
<path d="M310,109.9 309.9,109.5 310.1,109.3 312,109 312.3,109 312.7,108.9 313.1,108.8 313.5,108.7 313.9,108.7 314.3,108 314.7,108.3 315.2,108.3 315.7,108.3 316.2,108.1 316.7,108.1 317.2,108.2 317.8,107.5 318.4,107.8 318.9,108 319.5,107.3 320.2,107.3 320.8,107.8 321.5,107.8 322.1,107.1 322.8,107 323.6,107.6 324.3,107.4 325.1,107.3 325.8,107.3 326.6,107.5 327.4,107.5 328.3,107 329.1,107 330,107.6 330.5,107.8 330.9,107.7 331.4,107.4 331.9,107.4 332.5,107.5 333,107.3 333.5,107.9 334.1,107.6 334.6,107.9 335.2,107.9 335.8,107.9 336.4,108.2 337,108.1 337.6,108 338.2,108.6 338.8,108.2 339.5,108.2 340.1,108.4 340.7,108.6 341.4,108.9 342,108.7 342.7,108.8 343.4,109.1 344,109 344.7,109.3 345.4,109.2 346,109.7 346.7,109.3 347.4,109.5 348,109.6 348.7,109.7 349.4,110.1 350.1,110.2 350.7,110.4 351.4,110.3 352.1,110.1 352.7,110.6 353.4,110.4 354,110.5 354.7,110.7 355.3,111.2 356,110.8 356.6,110.9 357.2,111.4 357.8,111.5 358.4,111.2 359,111.1 359.6,111.6 360.2,111.7 360.8,111.5 361.4,111.8 361.9,111.6 362.5,111.6 363,111.9 363.5,112 364,111.9 364.5,112.2 365,111.7 365.8,112.1 366.6,112 367.4,111.9 368.2,112.5 369,112 369.7,112.1 370.5,112.5 371.2,112.6 371.9,112.6 372.6,112.2 373.2,112.6 373.9,112.1 374.6,112.5 375.2,112.6 375.8,112.1 376.4,112 377,112.4 377.6,112.5 378.2,112.3 378.7,112.5 379.3,112.1 379.8,112 380.3,111.8 380.9,111.8 381.4,112.3 381.9,111.6 382.3,111.6 382.8,111.7 383.3,111.4 383.7,111.5 384.2,111.4 384.6,111.3 385,111.5 386.1,111.3 387,111.1 387.8,110.9 388.5,110.3 389.1,110.2 389.6,109.2 390.1,108.9 390.5,108.5 391,108.3 391.4,108.4 391.9,108.4 392.4,108 393,107.9 393.4,108.2 393.6,108.8 393.8,109 394.1,109.9 394.6,110.5 395.4,110.7 396.4,111.2 398,111.7 398.4,111.5 398.7,111.4 399.1,112 399.5,112.1 399.9,111.4 400.3,112 400.7,111.8 401.1,111.6 401.5,111.7 401.9,111.8 402.4,112.2 402.8,111.9 403.3,111.8 403.7,112 404.2,112.5 404.7,112.3 405.2,112.4 405.7,112.3 406.2,112.2 406.7,112.1 407.3,112.3 407.8,112.2 408.4,112.4 409,112.7 409.6,112.5 410.2,112.6 410.8,112.8 411.4,112.6 412.1,112.7 412.8,113.1 413.5,112.9 414.2,112.8 414.9,112.9 415.6,112.9 416.4,112.8 417.1,113.3 417.9,112.8 418.8,113.4 419.6,113.3 420.4,113.4 421.3,112.9 422.2,113.2 423.1,113.6 424,113.1 425,113.1 425.4,113.5 425.9,113.1 426.4,113.4 426.8,113.1 427.3,113.7 427.8,113.2 428.3,113.1 428.8,113.6 429.3,113.3 429.9,113.5 430.4,113.5 431,113.8 431.5,113.5 432.1,113.4 432.7,113.2 433.2,113.5 433.8,113.4 434.4,113.6 435,113.7 435.6,113.6 436.3,113.3 436.9,113.6 437.5,113.6 438.1,113.8 438.8,114 439.4,113.5 440.1,113.7 440.7,113.4 441.4,114 442.1,113.6 442.7,114 443.4,114 444.1,113.6 444.7,114.1 445.4,113.8 446.1,113.8 446.8,113.9 447.5,114.2 448.2,113.9 448.9,113.9 449.6,113.8 450.3,114.2 451,114 451.7,113.9 452.4,113.8 453.1,113.8 453.8,114.2 454.5,114.2 455.2,114.4 455.9,114.3 456.6,114.2 457.3,114.3 458,114.2 458.7,114.3 459.4,114.3 460.1,113.9 460.7,114.4 461.4,114 462.1,114 462.8,114.5 463.5,113.9 464.2,114.2 464.8,114.1 465.5,114.4 466.2,114.3 466.8,114.5 467.5,114.6 468.1,114.4 468.8,114 469.4,114.4 470.1,114 470.7,114.7 471.3,114.6 471.9,114.2 472.5,114.1 473.1,114.5 473.7,114.6 474.3,114.7 474.9,114.5 475.5,114.2 476,114.6 476.6,114.1 477.2,114.7 477.7,114.6 478.2,114.7 478.8,114.7 479.3,114.5 479.8,114.8 480.3,114.6 480.8,114.5 481.2,114.4 481.7,114.4 482.1,114.2 482.6,114.3 483,114.8 483.4,114.4 483.8,114.7 484.2,114.8 484.6,114.7 485,114.6 486.6,114.5 488.1,114.5 489.4,114.5 490.6,114.8 491.6,114.9 492.5,115.1 493.3,114.6 494,115.1 494.5,115.1 495,114.6 495.5,115.1 495.8,114.9 496.1,115.1 496.4,115 496.6,114.7 496.8,114.6 497,114.8 497.2,114.8 497.5,114.5 497.7,115 498,114.8" fill="none" stroke="#52b8e2" stroke-width="1.2" stroke-linejoin="round"/>
<path d="M310,117.5 309.9,117.4 310.1,116.7 312,116.3 312.3,116.5 312.7,116.2 313.1,116.2 313.5,116 313.9,115.9 314.3,116.1 314.7,116.1 315.2,116.3 315.7,116.1 316.2,115.8 316.7,115.7 317.2,115.5 317.8,115.6 318.4,115.9 318.9,115.2 319.5,115.4 320.2,115.5 320.8,115.5 321.5,115.3 322.1,115.3 322.8,115.5 323.6,115.4 324.3,114.9 325.1,115.1 325.8,115.4 326.6,115.1 327.4,114.9 328.3,115.3 329.1,114.8 330,115 330.5,115.3 330.9,115.1 331.4,115.5 331.9,115.5 332.5,115.3 333,115.6 333.5,115.6 334.1,115.7 334.7,115.6 335.2,115.6 335.8,115.5 336.4,115.8 337,116.2 337.6,116.3 338.2,115.8 338.9,115.9 339.5,116.1 340.1,116.5 340.8,116.4 341.4,116.2 342.1,116.6 342.7,116.7 343.4,117 344.1,116.8 344.7,117.1 345.4,117.2 346.1,117.3 346.8,117 347.4,117.5 348.1,117.2 348.8,117.3 349.5,117.7 350.1,117.4 350.8,117.6 351.5,117.9 352.1,118.1 352.8,117.9 353.5,118.6 354.1,118.6 354.8,118.4 355.4,118.6 356,118.5 356.7,119.1 357.3,118.5 357.9,118.7 358.5,118.8 359.1,119.3 359.7,119.1 360.3,119.1 360.9,119.2 361.4,119.6 362,119.2 362.5,119.6 363,119.6 363.5,119.5 364,119.4 364.5,119.5 365,119.6 365.9,119.5 366.7,119.8 367.5,119.7 368.3,119.6 369.1,120 369.8,119.8 370.6,119.8 371.3,120.1 372,119.8 372.7,119.7 373.4,120.1 374,120.1 374.6,119.9 375.3,119.6 375.9,119.8 376.5,119.8 377,119.4 377.6,119.7 378.2,119.8 378.7,119.5 379.2,119.5 379.7,119.2 380.2,119.3 380.7,118.9 381.2,119.2 381.7,119 382.2,119.2 382.6,118.7 383.1,118.8 383.6,118.3 384,118.4 385,118.4 385.9,117.6 386.7,117.4 387.4,116.6 388.1,116.2 388.7,116.1 389.3,115 389.8,115 390.3,113.9 390.8,113.9 391.3,113.8 391.8,113.6 392.4,113.2 393,113.5 393.4,113.9 393.8,114.3 394.1,114.9 394.4,115.4 394.8,115.8 395.2,116.8 395.8,117.4 396.6,118 397.7,118.9 399,118.7 399.4,119.3 399.8,119.1 400.2,119.4 400.5,119.7 400.9,119.3 401.3,119.6 401.7,119.6 402.2,119.7 402.6,119.6 403,120 403.4,120.2 403.9,120.1 404.3,119.9 404.8,120.4 405.3,120.2 405.8,120 406.3,120.4 406.8,120.4 407.3,120.5 407.8,120.9 408.4,120.6 408.9,121 409.5,120.6 410.1,120.9 410.7,120.5 411.3,120.7 412,121.1 412.6,121.1 413.3,121.3 414,121 414.7,121 415.5,121.1 416.2,121.3 417,120.9 417.8,121.2 418.6,121.5 419.5,121.2 420.3,121.3 421.2,121.8 422.1,121.9 423.1,121.4 424,121.4 425,121.4 425.4,121.4 425.9,121.9 426.3,121.9 426.8,121.6 427.3,121.8 427.8,122 428.3,121.5 428.8,122.1 429.3,122.1 429.8,121.7 430.4,122.1 430.9,122.1 431.5,121.8 432,122.2 432.6,121.8 433.2,122 433.8,121.9 434.4,122 435,122.3 435.6,122.1 436.2,122.2 436.8,122.4 437.4,121.9 438.1,121.9 438.7,122.2 439.4,121.9 440,122.5 440.7,122.1 441.3,122.2 442,122.2 442.6,122.5 443.3,122.6 444,122.4 444.7,122.1 445.4,122.2 446,122.5 446.7,122.1 447.4,122.6 448.1,122.6 448.8,122.2 449.5,122.3 450.2,122.2 450.9,122.6 451.6,122.1 452.3,122.6 453,122.2 453.7,122.7 454.4,122.5 455.1,122.6 455.8,122.2 456.5,122.2 457.2,122.4 457.9,122.9 458.6,122.6 459.3,122.8 460,122.3 460.7,122.3 461.4,122.3 462.1,122.8 462.8,122.4 463.4,122.5 464.1,122.8 464.8,122.8 465.5,122.6 466.1,122.7 466.8,122.6 467.4,122.8 468.1,122.6 468.7,122.6 469.4,122.6 470,122.6 470.7,122.6 471.3,122.4 471.9,122.7 472.5,122.9 473.1,122.6 473.7,122.5 474.3,123.1 474.9,122.8 475.5,122.9 476,122.7 476.6,123.1 477.1,123 477.7,123 478.2,123 478.7,123 479.3,122.9 479.8,122.9 480.3,122.8 480.8,122.9 481.2,122.9 481.7,123 482.1,123 482.6,123.2 483,123.2 483.4,122.8 483.8,122.6 484.2,122.8 484.6,122.7 485,123.2 486.6,123.1 488.1,122.9 489.4,122.9 490.6,123.3 491.6,123.3 492.5,123.2 493.3,123.2 494,123.3 494.5,123.1 495,123 495.5,123.1 495.8,123.3 496.1,123.4 496.4,123.3 496.6,123.3 496.8,122.7 497,122.8 497.2,123.3 497.5,123 497.7,123 498,122.9" fill="none" stroke="#8ccbea" stroke-width="1.2" stroke-linejoin="round"/>
<path d="M310,123.8 310.3,123.2 310.8,123.1 312,122.1 312.4,122.7 312.9,121.9 313.5,121.9 314.1,122 314.8,122.1 315.5,121.6 316.2,121.9 316.9,122 317.6,121.6 318.2,121.8 318.9,121.6 319.5,121.6 320,121.3 320.8,121.5 321.5,121.9 322.1,121.8 322.7,121.6 323.3,121.9 323.8,122 324.4,121.9 325,122.1 325.6,122 326.2,121.3 326.9,121.2 327.5,121.2 328.1,120.7 328.8,120.3 329.4,120.6 330,120.3 330.5,120.7 330.7,120.5 330.8,120.3 330.9,120.9 331.3,120.8 332,121.5 333.2,121.8 335,122.2 335.4,121.8 335.7,121.8 336.2,122.4 336.6,122.1 337,122.2 337.5,122.2 338,122.4 338.5,122.7 339,123.2 339.6,122.8 340.2,122.9 340.7,123.4 341.3,123.1 341.9,123.5 342.5,123.6 343.2,124 343.8,123.5 344.5,124 345.1,124 345.8,124.4 346.4,124.2 347.1,124.6 347.8,124.4 348.5,124.7 349.2,125.2 349.9,124.8 350.6,125 351.3,125.6 352,125.5 352.7,125.2 353.4,125.5 354,125.6 354.7,125.8 355.4,126.3 356.1,126.3 356.8,126.6 357.4,126.5 358.1,126.6 358.7,126.5 359.4,126.8 360,126.8 360.6,126.6 361.2,127 361.8,127 362.4,127.1 362.9,126.9 363.5,126.9 364,127.6 364.5,127.3 365,127.3 365.8,127.2 366.6,127.6 367.3,127.9 368.1,127.4 368.8,127.6 369.5,127.7 370.2,127.9 370.9,127.8 371.6,127.5 372.2,127.5 372.8,127.9 373.5,127.4 374.1,127.9 374.7,127.3 375.3,127.4 375.9,127.5 376.4,127.7 377,127.5 377.5,127.5 378.1,127.5 378.6,127.3 379.1,126.8 379.6,127.2 380.1,126.6 380.6,126.5 381.1,126.3 381.6,126.1 382.1,126.6 382.5,126.1 383,125.7 383.9,125.3 384.7,125.3 385.5,124.5 386.2,124 386.8,122.6 387.5,121.9 388.1,121.2 388.6,120.3 389.2,119.5 389.7,118.8 390.2,118.5 390.8,117.6 391.3,117.2 391.8,117.1 392.4,116.9 393,116.8 393.6,117.4 394,117.9 394.4,118.5 394.8,119.3 395.2,119.9 395.7,121.2 396.2,121.8 396.9,122.8 397.7,123.4 398.8,124.7 400,125.1 400.4,125.1 400.8,125.3 401.2,125.7 401.6,125.3 402,125.6 402.4,125.9 402.8,125.8 403.2,126.1 403.7,126.4 404.1,125.9 404.5,126.2 405,126.3 405.4,126.7 405.9,126.8 406.4,126.8 406.9,127.1 407.4,126.7 407.9,126.9 408.4,127.3 408.9,127.3 409.5,126.9 410.1,127.6 410.7,127.5 411.3,127.7 411.9,127.4 412.5,127.6 413.2,128 413.9,128 414.6,127.8 415.3,128.1 416.1,128.3 416.8,128.2 417.6,128.2 418.5,128.4 419.3,127.9 420.2,128.2 421.1,128.4 422,128.1 423,128.7 424,128.2 425,128.7 425.4,128.5 425.9,128.5 426.3,128.8 426.8,128.5 427.3,128.7 427.8,129 428.2,129.1 428.8,128.7 429.3,128.8 429.8,129 430.3,128.7 430.9,129.2 431.4,128.8 432,129 432.6,128.9 433.1,128.7 433.7,128.7 434.3,128.8 434.9,129 435.5,129 436.1,129.6 436.7,129.3 437.4,129 438,129.4 438.6,129.1 439.3,129.3 439.9,129.5 440.6,129.7 441.2,129.7 441.9,129.4 442.6,129.4 443.2,129.4 443.9,129.4 444.6,129.7 445.3,129.6 446,129.7 446.7,129.4 447.3,129.9 448,130 448.7,129.5 449.4,129.8 450.1,129.5 450.8,129.5 451.5,129.8 452.2,129.6 452.9,130 453.6,129.9 454.3,130 455,130.3 455.8,129.7 456.5,129.7 457.2,129.7 457.9,130 458.6,130.3 459.2,130.2 459.9,130.1 460.6,130.4 461.3,130.1 462,129.9 462.7,130.3 463.4,129.9 464.1,130.1 464.7,129.9 465.4,130.1 466.1,130 466.7,130.4 467.4,130.1 468.1,130.4 468.7,130.6 469.4,130.3 470,130.2 470.6,130.6 471.2,130.6 471.9,130.8 472.5,130.5 473.1,130.6 473.7,130.8 474.3,130.7 474.9,130.9 475.4,130.5 476,130.8 476.6,130.7 477.1,130.6 477.7,130.3 478.2,130.7 478.7,130.5 479.3,130.8 479.8,130.7 480.3,130.8 480.7,130.5 481.2,130.5 481.7,130.9 482.1,130.9 482.6,131.2 483,131 483.4,130.7 483.8,130.8 484.2,130.9 484.6,131.1 485,130.8 486.6,131.2 488.1,131 489.4,131 490.6,131 491.6,131 492.5,131.4 493.3,130.8 494,131 494.5,130.8 495,131.2 495.5,130.8 495.8,130.8 496.1,131 496.4,131.1 496.6,131.2 496.8,131 497,130.9 497.2,130.9 497.5,131.3 497.7,130.8 498,130.7" fill="none" stroke="#a29bd4" stroke-width="1.2" stroke-linejoin="round"/>
<path d="M310,131.3 310.4,130.5 311,129.5 311.7,128.6 312.4,128.4 313,127.7 313.7,126.5 314.3,126.5 315,126.1 315.6,126.5 316.2,127 316.8,127.1 317.4,128.1 318,127.9 318.7,127.5 319.3,127.5 320,126.7 320.5,126.8 320.9,127.5 321.5,127.7 322.1,128.2 323,128.2 323.5,127.7 324.1,127.5 324.7,127.7 325.4,127.4 326.1,127.1 326.9,127.3 327.6,126.6 328.3,126.7 328.9,126.1 329.5,126.6 330,126.6 330.4,126.4 330.1,126.4 329.9,127 330.6,127.6 333,128.2 333.3,127.8 333.7,128.2 334.1,128 334.5,128.4 335,128.7 335.4,128.8 335.9,128.5 336.4,128.8 336.9,128.7 337.4,128.7 338,129.3 338.6,129.4 339.1,129.2 339.7,129.4 340.3,129.8 341,129.9 341.6,129.9 342.3,129.8 342.9,129.9 343.6,130.1 344.2,130.7 344.9,130.6 345.6,130.8 346.3,130.8 347,130.9 347.7,130.9 348.4,131.6 349.1,131.5 349.8,131.3 350.5,131.9 351.2,131.9 352,132.1 352.7,132.3 353.4,132.3 354.1,132.7 354.8,132.8 355.4,132.6 356.1,132.9 356.8,132.8 357.5,132.9 358.1,133 358.8,133.3 359.4,133.2 360,133.3 360.7,133.7 361.3,133.8 361.8,133.8 362.4,134 363,133.7 363.5,134 364,133.7 364.5,133.8 365,133.7 365.8,134.3 366.6,134.4 367.4,134 368.2,134.1 368.9,133.9 369.6,134 370.3,134.3 371,134.5 371.7,133.9 372.4,134 373,134.3 373.6,133.9 374.2,134.3 374.8,133.8 375.4,133.9 376,133.6 376.5,133.6 377.1,133.6 377.6,133.4 378.2,133.6 378.7,133 379.2,133.3 379.7,133.3 380.2,132.8 380.7,132.6 381.1,132.4 381.6,132.2 382.1,132.5 382.5,132.2 383,131.7 383.9,131.6 384.7,131.2 385.5,130.4 386.2,129.6 386.8,129.1 387.5,128.4 388.1,128.1 388.6,127 389.2,126.7 389.7,126 390.2,125.2 390.8,124.4 391.3,124.6 391.8,123.8 392.4,124 393,123.8 393.6,124.1 394,124.8 394.4,125.2 394.8,126.5 395.2,127 395.7,128.1 396.2,129 396.9,129.6 397.7,130.3 398.8,130.9 400,131.7 400.4,131.8 400.8,131.6 401.3,132 401.8,132 402.3,132.3 402.8,132.5 403.4,132.7 403.9,132.7 404.5,133 405.1,133.2 405.7,132.8 406.3,133 407,133.1 407.6,133.3 408.3,134 409,133.7 409.6,133.9 410.3,134 411,134.2 411.7,134.1 412.4,134.6 413.1,134.4 413.8,134.9 414.5,135 415.2,134.5 415.9,135 416.5,134.8 417.2,135.5 417.9,135 418.6,135.2 419.2,135.7 419.9,135.6 420.5,135.8 421.1,135.7 421.7,135.8 422.3,135.7 422.9,135.9 423.4,135.9 424,136.2 424.5,135.9 425,135.9 425.8,136.1 426.5,136.3 427.2,136.4 427.9,136 428.6,136.7 429.2,136.6 429.8,136.2 430.4,136 430.9,136.4 431.5,136.5 432,135.9 432.5,136.2 433.1,136.2 433.6,136.2 434.1,135.6 434.6,135.5 435.2,135.4 435.7,135.4 436.3,135.8 436.8,135.8 437.4,135.5 438,135.2 438.7,135.4 439.3,135.3 440,135.6 440.5,135.7 441.1,135.8 441.6,135.6 442.2,135.6 442.7,135.7 443.3,135.7 443.8,135.8 444.4,136 445,136.1 445.5,135.9 446.1,136.2 446.7,135.9 447.3,136 447.9,136.3 448.5,136.3 449.1,136.2 449.7,136.3 450.3,136.7 450.9,137.1 451.5,137.1 452.1,136.7 452.8,137 453.4,137.1 454,137.1 454.7,137.1 455.3,137.5 456,137.8 456.6,137.5 457.3,137.5 458,137.5 458.6,137.5 459.3,138.1 460,137.8 460.6,138.2 461.1,138.3 461.7,137.9 462.3,138 462.9,138.2 463.5,138.5 464.1,138.6 464.7,138.3 465.4,138.5 466,138.5 466.7,138.6 467.3,138.9 468,138.6 468.6,139 469.3,139.1 470,139 470.6,139.3 471.3,139.3 471.9,138.8 472.6,139.5 473.3,139 473.9,139.4 474.6,139 475.2,139.2 475.9,139.3 476.5,139.7 477.2,139.6 477.8,139.3 478.4,139.9 479,139.9 479.6,139.7 480.2,139.4 480.8,139.6 481.4,139.6 481.9,139.8 482.5,140.2 483,140 483.5,140.1 484,139.6 484.5,139.8 485,140.2 485.9,139.9 486.8,139.9 487.6,139.8 488.4,139.8 489.2,140.1 490,140.2 490.7,140.1 491.4,140.2 492.1,140 492.7,139.8 493.4,140.2 494,140 494.5,140.1 495.1,140 495.6,139.9 496.1,139.7 496.5,139.9 496.9,139.9 497.3,139.7 497.7,139.7 498,140" fill="none" stroke="#d266b4" stroke-width="1.2" stroke-linejoin="round"/>
<path d="M310,139.2 310.4,139.3 311,138.3 311.7,137.6 312.4,137 313,136.2 313.3,135.8 313.4,136.2 315,136 315.4,136 315.8,135.9 316.2,136.2 316.7,136 317.2,136.2 317.7,136.3 318.3,136.3 318.8,136.2 319.4,136.2 320.1,136 320.7,136.1 321.4,136.2 322,136.1 322.7,136.4 323.4,136.4 324.1,135.9 324.7,136.4 325.4,136.4 326.1,136.4 326.8,136.7 327.5,136.1 328.1,136.5 328.8,136.5 329.4,136.9 330,136.5 330.6,136.8 331.2,136.6 331.8,137.1 332.3,137.1 332.9,137.3 333.5,137.2 334.1,137.7 334.6,137.2 335.2,137.5 335.8,138 336.3,138.2 336.9,138.3 337.5,138.1 338.1,138.1 338.6,138.7 339.2,138.8 339.8,138.5 340.4,139.3 341.1,139.1 341.7,138.9 342.3,139.4 343,139.4 343.6,139.4 344.3,140.1 345,140.3 345.5,139.8 346.1,140.2 346.6,140.2 347.2,140.6 347.8,140.4 348.4,140.6 349,140.8 349.6,141 350.2,141.2 350.9,141.4 351.5,141.8 352.1,142 352.8,142.1 353.4,142.2 354,141.9 354.7,142.1 355.3,142.4 356,142.7 356.6,142.8 357.2,142.7 357.9,143.3 358.5,143 359.1,142.9 359.8,143 360.4,143.2 361,143.7 361.6,143.8 362.2,143.4 362.8,143.6 363.4,143.6 363.9,144 364.5,144.2 365,143.7 365.7,143.6 366.4,144.2 367.1,144.2 367.8,144 368.5,143.8 369.1,143.9 369.8,143.9 370.5,143.6 371.1,143.3 371.8,143.4 372.4,143.4 373.1,143 373.7,143.1 374.3,142.6 374.9,143 375.5,142.4 376,142.2 376.6,142.6 377.1,142.4 377.7,142.2 378.2,142 378.6,141.8 379.1,141.6 379.6,141.2 380,140.7 381,140.7 381.8,140.2 382.4,139.6 383,138.5 383.5,137.8 384,137.6 384.5,136.8 384.9,136.5 385.4,135.9 386,135 386.6,134.5 387.3,133.9 387.9,133.2 388.6,132.4 389.2,131.9 389.9,130.9 390.5,131 391.2,130.5 391.8,130.3 392.4,130 393,129.9 393.7,130.4 394.3,131 394.9,131.5 395.5,131.9 396.1,132.6 396.7,133.6 397.3,134.2 398,134.8 398.5,135.3 399,135.9 399.5,136.7 399.9,137.4 400.4,137.7 400.9,137.8 401.4,138.9 402.1,139.2 402.9,139.8 403.9,140.2 405,140.4 405.4,140.5 405.8,140.4 406.2,141 406.6,140.7 406.9,141.2 407.3,141.5 407.7,141.4 408.1,141.4 408.4,141.7 408.8,141.9 409.2,141.9 409.6,142.1 410.1,141.8 410.5,141.5 411,142 411.4,142.1 411.9,142.4 412.5,142.3 413,142.2 413.6,142 414.2,142.7 414.9,142.6 415.6,142.9 416.3,142.7 417.1,143 417.9,143 418.8,143.3 419.7,143 420.6,143.4 421.6,143.1 422.7,142.9 423.8,143.3 425,143.4 425.4,143.9 425.8,143.5 426.3,143.5 426.7,143.8 427.2,143.4 427.6,143.6 428.1,143.7 428.6,143.5 429.1,143.9 429.6,143.8 430.1,144.1 430.6,143.9 431.2,144.4 431.7,143.9 432.3,144.1 432.8,144 433.4,143.9 434,144.1 434.6,144.6 435.2,144.2 435.8,144.4 436.4,144.5 437,144.3 437.7,144.6 438.3,144.3 438.9,144.5 439.6,144.5 440.2,144.9 440.9,145 441.5,145 442.2,144.9 442.9,145.2 443.6,145.1 444.2,144.7 444.9,144.8 445.6,145.3 446.3,145.4 447,145.6 447.7,145.5 448.4,145.1 449.1,145.4 449.8,145.5 450.5,145.5 451.2,145.3 451.9,145.9 452.6,145.6 453.3,145.5 454,146.1 454.7,145.7 455.4,145.5 456.1,146 456.9,145.8 457.6,145.8 458.3,145.9 459,146.1 459.7,146 460.4,146.3 461.1,146.5 461.8,146.6 462.5,146.6 463.2,146.7 463.8,146.2 464.5,146.7 465.2,146.2 465.9,146.6 466.6,146.3 467.2,146.4 467.9,147 468.5,146.5 469.2,146.9 469.8,146.8 470.5,146.5 471.1,147.1 471.7,146.6 472.4,147.3 473,147.2 473.6,147.1 474.2,147.1 474.8,146.8 475.4,147.3 475.9,146.9 476.5,147.3 477.1,147.6 477.6,147.5 478.2,147.1 478.7,147.6 479.2,147.6 479.7,147.3 480.2,147.7 480.7,147.6 481.2,147.5 481.7,147.6 482.1,147.5 482.6,147.5 483,147.9 483.4,147.6 483.8,147.9 484.2,147.7 484.6,147.6 485,147.5 486.6,148.2 488.1,148.2 489.4,148.4 490.6,148.2 491.6,147.8 492.5,147.9 493.3,147.9 494,148.3 494.5,148.3 495,148.5 495.5,148 495.8,148 496.1,147.9 496.4,147.9 496.6,147.7 496.8,148.1 497,148 497.2,147.9 497.5,148.3 497.7,147.9 498,148.2" fill="none" stroke="#e778ae" stroke-width="1.2" stroke-linejoin="round"/>
<rect x="308.4" y="8.2" width="226.8" height="145.9" fill="none" stroke="#6f7d96" stroke-width="2.4"/>
<line x1="309" y1="155.1" x2="309" y2="157.6" stroke="#444" stroke-width="0.9"/>
<line x1="346.83" y1="155.1" x2="346.83" y2="156.6" stroke="#444" stroke-width="0.9"/>
<line x1="384.66" y1="155.1" x2="384.66" y2="157.6" stroke="#444" stroke-width="0.9"/>
<line x1="422.49" y1="155.1" x2="422.49" y2="156.6" stroke="#444" stroke-width="0.9"/>
<line x1="460.32" y1="155.1" x2="460.32" y2="157.6" stroke="#444" stroke-width="0.9"/>
<line x1="498.15" y1="155.1" x2="498.15" y2="156.6" stroke="#444" stroke-width="0.9"/>
<line x1="535.98" y1="155.1" x2="535.98" y2="157.6" stroke="#444" stroke-width="0.9"/>
<text x="309.3" y="166.4" font-family='"Liberation Sans", sans-serif' font-size="10.3" font-weight="bold" fill="#111" text-anchor="middle" >100</text>
<text x="384.96" y="166.4" font-family='"Liberation Sans", sans-serif' font-size="10.3" font-weight="bold" fill="#111" text-anchor="middle" >300</text>
<text x="460.62" y="166.4" font-family='"Liberation Sans", sans-serif' font-size="10.3" font-weight="bold" fill="#111" text-anchor="middle" >500</text>
<text x="536.28" y="166.4" font-family='"Liberation Sans", sans-serif' font-size="10.3" font-weight="bold" fill="#111" text-anchor="middle" >700</text>
<text x="419.3" y="184.2" font-family='"Liberation Serif", serif' font-size="13" font-weight="bold" fill="#111" text-anchor="middle" >Raman shift (cm<tspan font-size="8" dy="-4.5">-1</tspan><tspan dy="4.5">)</tspan></text>
<text x="0" y="0" font-family='"Liberation Serif", serif' font-size="13.2" font-weight="bold" fill="#111" text-anchor="middle" transform="translate(294.8,79.6) rotate(-90)">Intensity (a.u.)</text>
<text x="411.6" y="216.5" font-family='"Liberation Serif", serif' font-size="14.3" font-weight="normal" fill="#111" text-anchor="middle" >(<tspan font-weight="bold">b</tspan>)</text>
<text x="310.5" y="18.7" font-family='"Liberation Sans", sans-serif' font-size="7.6" font-weight="bold" fill="#b42338" text-anchor="start" stroke="#b42338" stroke-width="0.2">S<tspan font-size="5" dy="1.8">8</tspan><tspan dy="-1.8"> 146 cm</tspan><tspan font-size="5" dy="-3">-1</tspan></text>
<text x="341" y="25.3" font-family='"Liberation Sans", sans-serif' font-size="7.6" font-weight="bold" fill="#b42338" text-anchor="start" stroke="#b42338" stroke-width="0.2">S<tspan font-size="5" dy="1.8">8</tspan><tspan dy="-1.8"> 216 cm</tspan><tspan font-size="5" dy="-3">-1</tspan></text>
<text x="365.7" y="35.3" font-family='"Liberation Sans", sans-serif' font-size="7.6" font-weight="bold" fill="#b42338" text-anchor="start" stroke="#b42338" stroke-width="0.2">S<tspan font-size="5" dy="1.8">8</tspan><tspan font-size="5" dy="-4.6">2-</tspan><tspan dy="2.8"> 293 cm</tspan><tspan font-size="5" dy="-3">-1</tspan></text>
<text x="415.2" y="31.4" font-family='"Liberation Sans", sans-serif' font-size="7.6" font-weight="bold" fill="#b42338" text-anchor="start" stroke="#b42338" stroke-width="0.2">S<tspan font-size="5" dy="1.8">8</tspan><tspan dy="-1.8"> 461 cm</tspan><tspan font-size="5" dy="-3">-1</tspan></text>
<text x="448.5" y="17.2" font-family='"Liberation Sans", sans-serif' font-size="7.6" font-weight="bold" fill="#b42338" text-anchor="start" stroke="#b42338" stroke-width="0.2">S<tspan font-size="5" dy="1.8">4</tspan><tspan font-size="5" dy="-4.6">-</tspan><tspan dy="2.8"> 508 cm</tspan><tspan font-size="5" dy="-3">-1</tspan></text>
<text x="494.3" y="44.3" font-family='"Liberation Sans", sans-serif' font-size="9" font-weight="bold" fill="#111" text-anchor="start" >Potential</text>
<text x="515.8" y="53.7" font-family='"Liberation Sans", sans-serif' font-size="7.7" font-weight="bold" fill="#ee2d7c" text-anchor="middle" stroke="#ee2d7c" stroke-width="0.25">0.7 V</text>
<text x="515.8" y="62.1" font-family='"Liberation Sans", sans-serif' font-size="7.7" font-weight="bold" fill="#f6a878" text-anchor="middle" stroke="#f6a878" stroke-width="0.25">0.65 V</text>
<text x="515.8" y="71.3" font-family='"Liberation Sans", sans-serif' font-size="7.7" font-weight="bold" fill="#f0d88c" text-anchor="middle" stroke="#f0d88c" stroke-width="0.25">0.6 V</text>
<text x="515.8" y="80.4" font-family='"Liberation Sans", sans-serif' font-size="7.7" font-weight="bold" fill="#a3a823" text-anchor="middle" stroke="#a3a823" stroke-width="0.25">0.55 V</text>
<text x="515.8" y="90.4" font-family='"Liberation Sans", sans-serif' font-size="7.7" font-weight="bold" fill="#6fab2e" text-anchor="middle" stroke="#6fab2e" stroke-width="0.25">0.5 V</text>
<text x="515.8" y="100" font-family='"Liberation Sans", sans-serif' font-size="7.7" font-weight="bold" fill="#1fa585" text-anchor="middle" stroke="#1fa585" stroke-width="0.25">0.45 V</text>
<text x="515.8" y="108.7" font-family='"Liberation Sans", sans-serif' font-size="7.7" font-weight="bold" fill="#14a3b4" text-anchor="middle" stroke="#14a3b4" stroke-width="0.25">0.4 V</text>
<text x="515.8" y="117.4" font-family='"Liberation Sans", sans-serif' font-size="7.7" font-weight="bold" fill="#1296dc" text-anchor="middle" stroke="#1296dc" stroke-width="0.25">0.35 V</text>
<text x="515.8" y="125.7" font-family='"Liberation Sans", sans-serif' font-size="7.7" font-weight="bold" fill="#84c6ec" text-anchor="middle" stroke="#84c6ec" stroke-width="0.25">0.3 V</text>
<text x="515.8" y="134.6" font-family='"Liberation Sans", sans-serif' font-size="7.7" font-weight="bold" fill="#7474c4" text-anchor="middle" stroke="#7474c4" stroke-width="0.25">0.25 V</text>
<text x="515.8" y="142.2" font-family='"Liberation Sans", sans-serif' font-size="7.7" font-weight="bold" fill="#9a3ea4" text-anchor="middle" stroke="#9a3ea4" stroke-width="0.25">0.2 V</text>
<text x="515.8" y="150.5" font-family='"Liberation Sans", sans-serif' font-size="7.7" font-weight="bold" fill="#d8389a" text-anchor="middle" stroke="#d8389a" stroke-width="0.25">OCP</text>
<line x1="502" y1="49.6" x2="502" y2="148" stroke="#d2443f" stroke-width="1"/>
<circle cx="502" cy="148.3" r="1.1" fill="#c0302c"/>
<text x="379.2" y="153.4" font-family='"Liberation Sans", sans-serif' font-size="7.3" font-weight="normal" fill="#bf1820" text-anchor="start" >adsorbed sulfion</text>
<line x1="399.4" y1="146.6" x2="396.6" y2="142.9" stroke="#c42a2a" stroke-width="0.8"/><path d="M395.6,141.5 L398.3,143.2 L396.7,144.3 Z" fill="#c42a2a"/>
<defs><clipPath id="cc"><rect x="30.6" y="232.3" width="208.9" height="156.2"/></clipPath></defs>
<g clip-path="url(#cc)"><path d="M31,227.3 32.2,227.3 32.8,237.1 33.4,245.5 34,252.5 34.6,259.5 35.2,267.1 35.8,274.6 36.4,282.9 37,292.3 37.6,301.5 38.2,310.3 38.8,318.7 39.4,326.7 40,334.5 40.6,341 41.2,346.3 41.8,350.8 42.4,354.2 43,357 43.6,359.4 44.2,361.4 44.8,363.2 45.4,364.8 46,366.1 46.6,367.3 47.2,368.3 47.8,369.2 48.4,370 49,370.7 49.6,371.4 50.2,372 50.8,372.6 51.4,373.1 52,373.5 52.6,373.9 53.2,374.3 53.8,374.7 54.4,375 55,375.3 55.6,375.6 56.2,375.9 56.8,376.1 57.4,376.3 58,376.5 58.6,376.6 59.2,376.8 59.8,376.9 60.4,377 61,377.1 61.6,377.3 62.2,377.4 62.8,377.4 63.4,377.5 64,377.6 64.6,377.7 65.2,377.7 65.8,377.8 66.4,377.8 67,377.9 67.6,377.9 68.2,378 68.8,378 69.4,378 70,378.1 70.6,378.1 71.2,378.1 71.8,378.1 72.4,378.2 73,378.2 73.6,378.2 74.2,378.2 74.8,378.3 75.4,378.3 76,378.3 76.6,378.3 77.2,378.4 77.8,378.4 78.4,378.4 79,378.4 79.6,378.5 80.2,378.5 80.8,378.5 81.4,378.6 82,378.6 82.6,378.6 83.2,378.7 83.8,378.7 84.4,378.7 85,378.8 85.6,378.8 86.2,378.8 86.8,378.9 87.4,378.9 88,378.9 88.6,379 89.2,379 89.8,379 90.4,379.1 91,379.1 91.6,379.1 92.2,379.2 92.8,379.2 93.4,379.2 94,379.3 94.6,379.3 95.2,379.3 95.8,379.4 96.4,379.4 97,379.5 97.6,379.5 98.2,379.5 98.8,379.6 99.4,379.6 100,379.7 100.6,379.7 101.2,379.7 101.8,379.8 102.4,379.8 103,379.9 103.6,379.9 104.2,379.9 104.8,380 105.4,380 106,380.1 106.6,380.1 107.2,380.2 107.8,380.2 108.4,380.3 109,380.3 109.6,380.4 110.2,380.5 110.8,380.5 111.4,380.6 112,380.6 112.6,380.7 113.2,380.8 113.8,380.8 114.4,380.9 115,381 115.6,381 116.2,381.1 116.8,381.2 117.4,381.2 118,381.3 118.6,381.4 119.2,381.4 119.8,381.5 120.4,381.6 121,381.7 121.6,381.7 122.2,381.8 122.8,381.9 123.4,381.9 124,382 124.6,382.1 125.2,382.1 125.8,382.2 126.4,382.3 127,382.4 127.6,382.4 128.2,382.5 128.8,382.5 129.4,382.6 130,382.7 131.5,382.8 133,383 134.5,383.1 136,383.2 137.5,383.3 139,383.4 140.5,383.5 142,383.6 143.5,383.7 145,383.8 146.5,383.8 148,383.9 149.5,384 151,384 152.5,384.1 154,384.2 155.5,384.2 157,384.3 158.5,384.4 160,384.4 161.5,384.5 163,384.5 164.5,384.6 166,384.6 167.5,384.7 169,384.7 170.5,384.8 172,384.8 173.5,384.8 175,384.9 176.5,384.9 178,385 179.5,385 181,385 182.5,385.1 184,385.1 185.5,385.1 187,385.2 188.5,385.2 190,385.2 191.5,385.3 193,385.3 194.5,385.3 196,385.4 197.5,385.4 199,385.4 200.5,385.5 202,385.5 203.5,385.5 205,385.6 206.5,385.6 208,385.6 209.5,385.6 211,385.7 212.5,385.7 214,385.7 215.5,385.7 217,385.8 218.5,385.8 220,385.8 221.5,385.8 223,385.9 224.5,385.9 226,385.9 227.5,385.9 229,385.9 230.5,385.9 232,385.9 233.5,386 235,386 236.5,386 238,386 239.5,386 239.6,386" fill="none" stroke="#2e9e48" stroke-width="1.35"/><path d="M31,227.3 32.8,227.3 33.4,235 34,243.4 34.6,250.7 35.2,257.8 35.8,264.6 36.4,271.9 37,280.1 37.6,288.3 38.2,296.5 38.8,304.8 39.4,313.4 40,321.6 40.6,328.7 41.2,334.9 41.8,340.3 42.4,344.9 43,348.8 43.6,351.8 44.2,354.3 44.8,356.5 45.4,358.3 46,359.7 46.6,361 47.2,362.1 47.8,363.1 48.4,363.9 49,364.7 49.6,365.4 50.2,366.1 50.8,366.7 51.4,367.2 52,367.7 52.6,368.1 53.2,368.6 53.8,369 54.4,369.4 55,369.8 55.6,370.2 56.2,370.5 56.8,370.9 57.4,371.2 58,371.5 58.6,371.7 59.2,372 59.8,372.2 60.4,372.4 61,372.6 61.6,372.8 62.2,373 62.8,373.2 63.4,373.4 64,373.6 64.6,373.8 65.2,373.9 65.8,374.1 66.4,374.2 67,374.4 67.6,374.5 68.2,374.6 68.8,374.7 69.4,374.8 70,374.9 70.6,375 71.2,375.1 71.8,375.2 72.4,375.3 73,375.4 73.6,375.5 74.2,375.6 74.8,375.7 75.4,375.7 76,375.8 76.6,375.9 77.2,376 77.8,376 78.4,376.1 79,376.2 79.6,376.2 80.2,376.3 80.8,376.4 81.4,376.4 82,376.5 82.6,376.6 83.2,376.6 83.8,376.7 84.4,376.8 85,376.8 85.6,376.9 86.2,376.9 86.8,377 87.4,377 88,377.1 88.6,377.1 89.2,377.2 89.8,377.2 90.4,377.3 91,377.4 91.6,377.4 92.2,377.5 92.8,377.5 93.4,377.6 94,377.6 94.6,377.7 95.2,377.7 95.8,377.8 96.4,377.8 97,377.9 97.6,377.9 98.2,378 98.8,378 99.4,378.1 100,378.1 100.6,378.2 101.2,378.3 101.8,378.3 102.4,378.4 103,378.4 103.6,378.5 104.2,378.6 104.8,378.6 105.4,378.7 106,378.8 106.6,378.8 107.2,378.9 107.8,379 108.4,379 109,379.1 109.6,379.2 110.2,379.3 110.8,379.3 111.4,379.4 112,379.5 112.6,379.6 113.2,379.6 113.8,379.7 114.4,379.8 115,379.9 115.6,380 116.2,380 116.8,380.1 117.4,380.2 118,380.3 118.6,380.4 119.2,380.4 119.8,380.5 120.4,380.6 121,380.7 121.6,380.8 122.2,380.8 122.8,380.9 123.4,381 124,381.1 124.6,381.2 125.2,381.2 125.8,381.3 126.4,381.4 127,381.4 127.6,381.5 128.2,381.6 128.8,381.6 129.4,381.7 130,381.8 131.5,381.9 133,382.1 134.5,382.2 136,382.3 137.5,382.4 139,382.5 140.5,382.5 142,382.6 143.5,382.7 145,382.7 146.5,382.8 148,382.8 149.5,382.9 151,382.9 152.5,383 154,383 155.5,383.1 157,383.1 158.5,383.2 160,383.2 161.5,383.3 163,383.3 164.5,383.3 166,383.4 167.5,383.4 169,383.5 170.5,383.5 172,383.5 173.5,383.6 175,383.6 176.5,383.7 178,383.7 179.5,383.7 181,383.8 182.5,383.8 184,383.9 185.5,383.9 187,384 188.5,384 190,384.1 191.5,384.1 193,384.2 194.5,384.2 196,384.3 197.5,384.3 199,384.4 200.5,384.4 202,384.5 203.5,384.5 205,384.6 206.5,384.6 208,384.7 209.5,384.7 211,384.8 212.5,384.8 214,384.9 215.5,384.9 217,385 218.5,385 220,385.1 221.5,385.2 223,385.2 224.5,385.3 226,385.3 227.5,385.4 229,385.4 230.5,385.5 232,385.5 233.5,385.6 235,385.6 236.5,385.7 238,385.7 239.5,385.8 239.6,385.8" fill="none" stroke="#e2336e" stroke-width="1.35"/><path d="M31,227.3 33.4,227.3 34,233.5 34.6,241.3 35.2,247.8 35.8,253.7 36.4,259.7 37,266.4 37.6,273.1 38.2,280.2 38.8,288.2 39.4,297.1 40,305.4 40.6,313.2 41.2,320.3 41.8,326.7 42.4,332.9 43,338.3 43.6,342.2 44.2,345.2 44.8,347.8 45.4,349.9 46,351.4 46.6,352.7 47.2,353.8 47.8,354.8 48.4,355.6 49,356.4 49.6,357.1 50.2,357.7 50.8,358.3 51.4,358.8 52,359.3 52.6,359.8 53.2,360.2 53.8,360.7 54.4,361.1 55,361.5 55.6,362 56.2,362.5 56.8,363 57.4,363.4 58,363.9 58.6,364.3 59.2,364.8 59.8,365.2 60.4,365.6 61,366 61.6,366.3 62.2,366.7 62.8,367.1 63.4,367.5 64,367.8 64.6,368.2 65.2,368.5 65.8,368.8 66.4,369.1 67,369.4 67.6,369.7 68.2,369.9 68.8,370.2 69.4,370.4 70,370.6 70.6,370.8 71.2,371.1 71.8,371.3 72.4,371.5 73,371.7 73.6,371.8 74.2,372 74.8,372.2 75.4,372.4 76,372.5 76.6,372.7 77.2,372.9 77.8,373 78.4,373.1 79,373.3 79.6,373.4 80.2,373.5 80.8,373.6 81.4,373.8 82,373.9 82.6,374 83.2,374.1 83.8,374.2 84.4,374.3 85,374.4 85.6,374.4 86.2,374.5 86.8,374.6 87.4,374.7 88,374.8 88.6,374.9 89.2,375 89.8,375 90.4,375.1 91,375.2 91.6,375.3 92.2,375.3 92.8,375.4 93.4,375.5 94,375.6 94.6,375.6 95.2,375.7 95.8,375.8 96.4,375.9 97,375.9 97.6,376 98.2,376.1 98.8,376.2 99.4,376.2 100,376.3 100.6,376.4 101.2,376.5 101.8,376.6 102.4,376.6 103,376.7 103.6,376.8 104.2,376.9 104.8,377 105.4,377.1 106,377.2 106.6,377.3 107.2,377.4 107.8,377.4 108.4,377.5 109,377.6 109.6,377.7 110.2,377.8 110.8,377.9 111.4,378 112,378.1 112.6,378.2 113.2,378.3 113.8,378.4 114.4,378.5 115,378.6 115.6,378.7 116.2,378.8 116.8,378.9 117.4,379 118,379.1 118.6,379.2 119.2,379.3 119.8,379.4 120.4,379.4 121,379.5 121.6,379.6 122.2,379.7 122.8,379.8 123.4,379.9 124,380 124.6,380 125.2,380.1 125.8,380.2 126.4,380.3 127,380.3 127.6,380.4 128.2,380.5 128.8,380.5 129.4,380.6 130,380.7 131.5,380.8 133,380.9 134.5,381 136,381.1 137.5,381.2 139,381.2 140.5,381.2 142,381.2 143.5,381.2 145,381.3 146.5,381.3 148,381.3 149.5,381.3 151,381.3 152.5,381.3 154,381.3 155.5,381.3 157,381.3 158.5,381.3 160,381.4 161.5,381.4 163,381.4 164.5,381.4 166,381.4 167.5,381.4 169,381.4 170.5,381.4 172,381.4 173.5,381.4 175,381.5 176.5,381.5 178,381.5 179.5,381.5 181,381.6 182.5,381.6 184,381.7 185.5,381.7 187,381.8 188.5,381.8 190,381.9 191.5,381.9 193,382 194.5,382.1 196,382.2 197.5,382.2 199,382.3 200.5,382.4 202,382.5 203.5,382.6 205,382.7 206.5,382.8 208,382.9 209.5,383 211,383.1 212.5,383.2 214,383.3 215.5,383.4 217,383.5 218.5,383.6 220,383.8 221.5,383.9 223,384 224.5,384.1 226,384.3 227.5,384.4 229,384.5 230.5,384.7 232,384.8 233.5,384.9 235,385.1 236.5,385.2 238,385.4 239.5,385.5 239.6,385.5" fill="none" stroke="#ee7d22" stroke-width="1.35"/><path d="M31,227.3 34.6,227.3 35.2,233.1 35.8,240.2 36.4,247.2 37,254.3 37.6,261.1 38.2,267.9 38.8,275.4 39.4,283.5 40,291.3 40.6,298.8 41.2,306 41.8,312.8 42.4,319.4 43,325 43.6,329.2 44.2,332.5 44.8,335.3 45.4,337.7 46,339.5 46.6,341.1 47.2,342.5 47.8,343.7 48.4,344.9 49,346 49.6,347.1 50.2,348.2 50.8,349.1 51.4,349.9 52,350.6 52.6,351.3 53.2,351.9 53.8,352.4 54.4,353 55,353.6 55.6,354.2 56.2,354.8 56.8,355.4 57.4,356 58,356.5 58.6,357.1 59.2,357.7 59.8,358.3 60.4,358.8 61,359.4 61.6,359.9 62.2,360.4 62.8,361 63.4,361.5 64,362 64.6,362.5 65.2,362.9 65.8,363.4 66.4,363.8 67,364.3 67.6,364.6 68.2,365 68.8,365.4 69.4,365.7 70,366 70.6,366.4 71.2,366.7 71.8,367 72.4,367.3 73,367.6 73.6,367.9 74.2,368.1 74.8,368.4 75.4,368.7 76,368.9 76.6,369.2 77.2,369.4 77.8,369.6 78.4,369.8 79,370.1 79.6,370.3 80.2,370.5 80.8,370.7 81.4,370.8 82,371 82.6,371.2 83.2,371.4 83.8,371.6 84.4,371.7 85,371.9 85.6,372 86.2,372.2 86.8,372.3 87.4,372.5 88,372.6 88.6,372.8 89.2,372.9 89.8,373.1 90.4,373.2 91,373.4 91.6,373.5 92.2,373.7 92.8,373.8 93.4,373.9 94,374.1 94.6,374.2 95.2,374.3 95.8,374.5 96.4,374.6 97,374.7 97.6,374.8 98.2,374.9 98.8,375.1 99.4,375.2 100,375.3 100.6,375.4 101.2,375.5 101.8,375.6 102.4,375.7 103,375.8 103.6,375.9 104.2,376 104.8,376.1 105.4,376.2 106,376.3 106.6,376.4 107.2,376.5 107.8,376.6 108.4,376.7 109,376.8 109.6,376.9 110.2,377 110.8,377.1 111.4,377.2 112,377.3 112.6,377.4 113.2,377.5 113.8,377.6 114.4,377.7 115,377.8 115.6,377.9 116.2,378 116.8,378.1 117.4,378.2 118,378.3 118.6,378.4 119.2,378.5 119.8,378.6 120.4,378.7 121,378.8 121.6,378.9 122.2,379 122.8,379 123.4,379.1 124,379.2 124.6,379.3 125.2,379.4 125.8,379.4 126.4,379.5 127,379.6 127.6,379.6 128.2,379.7 128.8,379.8 129.4,379.8 130,379.9 131.5,380 133,380.1 134.5,380.2 136,380.3 137.5,380.4 139,380.4 140.5,380.4 142,380.4 143.5,380.4 145,380.4 146.5,380.4 148,380.3 149.5,380.3 151,380.3 152.5,380.3 154,380.3 155.5,380.3 157,380.3 158.5,380.2 160,380.2 161.5,380.2 163,380.2 164.5,380.2 166,380.2 167.5,380.2 169,380.2 170.5,380.2 172,380.2 173.5,380.2 175,380.2 176.5,380.3 178,380.3 179.5,380.4 181,380.5 182.5,380.6 184,380.7 185.5,380.8 187,380.9 188.5,381 190,381.1 191.5,381.2 193,381.4 194.5,381.5 196,381.6 197.5,381.8 199,381.9 200.5,382 202,382.1 203.5,382.2 205,382.3 206.5,382.5 208,382.6 209.5,382.7 211,382.9 212.5,383 214,383.1 215.5,383.3 217,383.4 218.5,383.5 220,383.7 221.5,383.8 223,383.9 224.5,384.1 226,384.2 227.5,384.3 229,384.5 230.5,384.6 232,384.8 233.5,384.9 235,385 236.5,385.2 238,385.3 239.5,385.5 239.6,385.5" fill="none" stroke="#4a4ac4" stroke-width="1.35"/><path d="M31,227.3 35.8,227.3 36.4,233.5 37,241.6 37.6,248.9 38.2,255.5 38.8,262.2 39.4,269.2 40,275.9 40.6,282.6 41.2,289.5 41.8,296.3 42.4,302.8 43,308.1 43.6,312.2 44.2,315.5 44.8,318.5 45.4,321.1 46,323.4 46.6,325.3 47.2,327.1 47.8,328.9 48.4,330.6 49,332.4 49.6,334.2 50.2,335.9 50.8,337.5 51.4,338.8 52,339.9 52.6,340.8 53.2,341.7 53.8,342.5 54.4,343.3 55,344 55.6,344.8 56.2,345.5 56.8,346.2 57.4,347 58,347.7 58.6,348.4 59.2,349.2 59.8,349.9 60.4,350.6 61,351.4 61.6,352.1 62.2,352.8 62.8,353.5 63.4,354.2 64,354.8 64.6,355.5 65.2,356.1 65.8,356.8 66.4,357.4 67,357.9 67.6,358.5 68.2,359 68.8,359.5 69.4,359.9 70,360.4 70.6,360.8 71.2,361.3 71.8,361.7 72.4,362.1 73,362.5 73.6,363 74.2,363.3 74.8,363.7 75.4,364.1 76,364.5 76.6,364.8 77.2,365.2 77.8,365.5 78.4,365.9 79,366.2 79.6,366.5 80.2,366.8 80.8,367.1 81.4,367.4 82,367.7 82.6,368 83.2,368.2 83.8,368.5 84.4,368.8 85,369 85.6,369.3 86.2,369.5 86.8,369.8 87.4,370 88,370.3 88.6,370.5 89.2,370.7 89.8,371 90.4,371.2 91,371.4 91.6,371.7 92.2,371.9 92.8,372.1 93.4,372.3 94,372.6 94.6,372.8 95.2,373 95.8,373.2 96.4,373.4 97,373.6 97.6,373.7 98.2,373.9 98.8,374.1 99.4,374.2 100,374.4 100.6,374.5 101.2,374.6 101.8,374.8 102.4,374.9 103,375 103.6,375.1 104.2,375.2 104.8,375.3 105.4,375.4 106,375.6 106.6,375.7 107.2,375.8 107.8,375.9 108.4,376 109,376.1 109.6,376.2 110.2,376.3 110.8,376.4 111.4,376.5 112,376.6 112.6,376.7 113.2,376.8 113.8,376.9 114.4,377.1 115,377.2 115.6,377.3 116.2,377.3 116.8,377.4 117.4,377.5 118,377.6 118.6,377.7 119.2,377.8 119.8,377.9 120.4,378 121,378.1 121.6,378.2 122.2,378.2 122.8,378.3 123.4,378.4 124,378.5 124.6,378.6 125.2,378.6 125.8,378.7 126.4,378.8 127,378.8 127.6,378.9 128.2,378.9 128.8,379 129.4,379.1 130,379.1 131.5,379.2 133,379.3 134.5,379.4 136,379.5 137.5,379.5 139,379.6 140.5,379.6 142,379.6 143.5,379.6 145,379.5 146.5,379.5 148,379.5 149.5,379.5 151,379.4 152.5,379.4 154,379.3 155.5,379.3 157,379.3 158.5,379.2 160,379.2 161.5,379.2 163,379.1 164.5,379.1 166,379.1 167.5,379.1 169,379.1 170.5,379.1 172,379.1 173.5,379.1 175,379.2 176.5,379.2 178,379.3 179.5,379.5 181,379.6 182.5,379.8 184,380 185.5,380.1 187,380.3 188.5,380.5 190,380.7 191.5,380.9 193,381.2 194.5,381.3 196,381.5 197.5,381.7 199,381.9 200.5,382 202,382.2 203.5,382.3 205,382.4 206.5,382.6 208,382.7 209.5,382.9 211,383 212.5,383.2 214,383.3 215.5,383.4 217,383.6 218.5,383.7 220,383.9 221.5,384 223,384.1 224.5,384.3 226,384.4 227.5,384.5 229,384.6 230.5,384.8 232,384.9 233.5,385 235,385.1 236.5,385.2 238,385.4 239.5,385.5 239.6,385.5" fill="none" stroke="#f4cf1e" stroke-width="1.35"/><path d="M31,227.3 36.4,227.3 37,227.7 37.6,235.4 38.2,241.9 38.8,247.5 39.4,252.9 40,258 40.6,263.5 41.2,269.6 41.8,276.2 42.4,282.2 43,286.6 43.6,290.2 44.2,293.3 44.8,296.2 45.4,299 46,301.6 46.6,304.1 47.2,306.5 47.8,308.9 48.4,311.5 49,314.2 49.6,317.1 50.2,319.8 50.8,322.3 51.4,324.4 52,326 52.6,327.3 53.2,328.6 53.8,329.7 54.4,330.8 55,331.7 55.6,332.7 56.2,333.5 56.8,334.4 57.4,335.3 58,336.2 58.6,337.2 59.2,338.1 59.8,339.1 60.4,340.1 61,341 61.6,342 62.2,342.9 62.8,343.8 63.4,344.7 64,345.6 64.6,346.5 65.2,347.4 65.8,348.2 66.4,349 67,349.8 67.6,350.5 68.2,351.3 68.8,351.9 69.4,352.6 70,353.2 70.6,353.8 71.2,354.4 71.8,355 72.4,355.6 73,356.2 73.6,356.8 74.2,357.3 74.8,357.9 75.4,358.4 76,358.9 76.6,359.4 77.2,359.9 77.8,360.4 78.4,360.9 79,361.4 79.6,361.9 80.2,362.3 80.8,362.8 81.4,363.2 82,363.6 82.6,364 83.2,364.4 83.8,364.8 84.4,365.2 85,365.6 85.6,366 86.2,366.4 86.8,366.7 87.4,367.1 88,367.4 88.6,367.8 89.2,368.2 89.8,368.5 90.4,368.9 91,369.2 91.6,369.6 92.2,369.9 92.8,370.2 93.4,370.6 94,370.9 94.6,371.2 95.2,371.5 95.8,371.8 96.4,372 97,372.3 97.6,372.6 98.2,372.8 98.8,373 99.4,373.2 100,373.4 100.6,373.6 101.2,373.7 101.8,373.9 102.4,374 103,374.1 103.6,374.3 104.2,374.4 104.8,374.5 105.4,374.6 106,374.7 106.6,374.9 107.2,375 107.8,375.1 108.4,375.2 109,375.3 109.6,375.5 110.2,375.6 110.8,375.7 111.4,375.8 112,375.9 112.6,376 113.2,376.1 113.8,376.2 114.4,376.3 115,376.4 115.6,376.5 116.2,376.6 116.8,376.7 117.4,376.8 118,376.9 118.6,377 119.2,377.1 119.8,377.1 120.4,377.2 121,377.3 121.6,377.4 122.2,377.5 122.8,377.5 123.4,377.6 124,377.7 124.6,377.7 125.2,377.8 125.8,377.9 126.4,377.9 127,378 127.6,378.1 128.2,378.1 128.8,378.2 129.4,378.2 130,378.3 131.5,378.4 133,378.5 134.5,378.5 136,378.6 137.5,378.6 139,378.7 140.5,378.7 142,378.6 143.5,378.6 145,378.6 146.5,378.6 148,378.5 149.5,378.4 151,378.4 152.5,378.3 154,378.3 155.5,378.2 157,378.1 158.5,378.1 160,378 161.5,377.9 163,377.9 164.5,377.8 166,377.8 167.5,377.8 169,377.7 170.5,377.7 172,377.7 173.5,377.8 175,377.9 176.5,378 178,378.2 179.5,378.4 181,378.6 182.5,378.9 184,379.2 185.5,379.5 187,379.7 188.5,380 190,380.3 191.5,380.6 193,380.9 194.5,381.2 196,381.4 197.5,381.7 199,381.9 200.5,382.1 202,382.2 203.5,382.4 205,382.5 206.5,382.7 208,382.9 209.5,383 211,383.2 212.5,383.3 214,383.5 215.5,383.6 217,383.8 218.5,383.9 220,384 221.5,384.2 223,384.3 224.5,384.4 226,384.6 227.5,384.7 229,384.8 230.5,384.9 232,385 233.5,385.1 235,385.2 236.5,385.3 238,385.4 239.5,385.5 239.6,385.5" fill="none" stroke="#16b4d6" stroke-width="1.35"/><path d="M31,227.3 37.6,227.3 38.2,232.5 38.8,238.1 39.4,243.3 40,248.3 40.6,253.6 41.2,259.6 41.8,266.1 42.4,271.9 43,276.2 43.6,279.8 44.2,282.9 44.8,285.9 45.4,288.8 46,291.5 46.6,294.1 47.2,296.7 47.8,299.3 48.4,302 49,305 49.6,308 50.2,311 50.8,313.7 51.4,316 52,317.7 52.6,319.3 53.2,320.7 53.8,321.9 54.4,323.1 55,324.2 55.6,325.3 56.2,326.3 56.8,327.4 57.4,328.4 58,329.5 58.6,330.7 59.2,331.9 59.8,333.1 60.4,334.3 61,335.5 61.6,336.6 62.2,337.8 62.8,338.9 63.4,340 64,341 64.6,342.1 65.2,343.1 65.8,344 66.4,344.9 67,345.8 67.6,346.7 68.2,347.5 68.8,348.3 69.4,349.1 70,349.8 70.6,350.5 71.2,351.2 71.8,351.9 72.4,352.6 73,353.2 73.6,353.9 74.2,354.5 74.8,355.1 75.4,355.7 76,356.3 76.6,356.9 77.2,357.4 77.8,358 78.4,358.5 79,359.1 79.6,359.6 80.2,360.1 80.8,360.6 81.4,361.1 82,361.6 82.6,362.1 83.2,362.5 83.8,363 84.4,363.4 85,363.9 85.6,364.3 86.2,364.7 86.8,365.1 87.4,365.5 88,365.9 88.6,366.3 89.2,366.7 89.8,367.1 90.4,367.5 91,367.8 91.6,368.2 92.2,368.6 92.8,368.9 93.4,369.3 94,369.6 94.6,369.9 95.2,370.3 95.8,370.6 96.4,370.9 97,371.2 97.6,371.4 98.2,371.7 98.8,371.9 99.4,372.2 100,372.4 100.6,372.5 101.2,372.7 101.8,372.9 102.4,373 103,373.2 103.6,373.3 104.2,373.4 104.8,373.6 105.4,373.7 106,373.8 106.6,374 107.2,374.1 107.8,374.2 108.4,374.4 109,374.5 109.6,374.6 110.2,374.7 110.8,374.8 111.4,375 112,375.1 112.6,375.2 113.2,375.3 113.8,375.4 114.4,375.5 115,375.6 115.6,375.7 116.2,375.8 116.8,375.9 117.4,376 118,376.1 118.6,376.2 119.2,376.3 119.8,376.4 120.4,376.5 121,376.6 121.6,376.7 122.2,376.8 122.8,376.9 123.4,376.9 124,377 124.6,377.1 125.2,377.2 125.8,377.2 126.4,377.3 127,377.4 127.6,377.4 128.2,377.5 128.8,377.6 129.4,377.6 130,377.7 131.5,377.8 133,377.9 134.5,378 136,378 137.5,378.1 139,378.1 140.5,378.1 142,378.1 143.5,378.1 145,378.1 146.5,378.1 148,378 149.5,378 151,377.9 152.5,377.9 154,377.8 155.5,377.7 157,377.7 158.5,377.6 160,377.5 161.5,377.5 163,377.4 164.5,377.4 166,377.4 167.5,377.3 169,377.3 170.5,377.3 172,377.3 173.5,377.4 175,377.5 176.5,377.7 178,377.9 179.5,378.1 181,378.3 182.5,378.6 184,378.9 185.5,379.2 187,379.5 188.5,379.8 190,380.1 191.5,380.5 193,380.8 194.5,381 196,381.3 197.5,381.6 199,381.8 200.5,381.9 202,382.1 203.5,382.3 205,382.5 206.5,382.6 208,382.8 209.5,383 211,383.1 212.5,383.3 214,383.4 215.5,383.6 217,383.7 218.5,383.9 220,384 221.5,384.2 223,384.3 224.5,384.4 226,384.5 227.5,384.7 229,384.8 230.5,384.9 232,385 233.5,385.1 235,385.2 236.5,385.3 238,385.4 239.5,385.5 239.6,385.5" fill="none" stroke="#8b7d3a" stroke-width="1.35"/><path d="M31,227.3 38.2,227.3 38.8,229.4 39.4,234.8 40,240 40.6,245.4 41.2,251.4 41.8,257.8 42.4,263.6 43,268 43.6,271.7 44.2,275 44.8,278.1 45.4,281.1 46,283.9 46.6,286.6 47.2,289.2 47.8,291.8 48.4,294.6 49,297.5 49.6,300.5 50.2,303.4 50.8,306.1 51.4,308.5 52,310.3 52.6,312 53.2,313.5 53.8,314.9 54.4,316.2 55,317.4 55.6,318.6 56.2,319.8 56.8,320.9 57.4,322.2 58,323.5 58.6,324.9 59.2,326.4 59.8,327.9 60.4,329.4 61,330.8 61.6,332.2 62.2,333.5 62.8,334.8 63.4,336 64,337.3 64.6,338.5 65.2,339.6 65.8,340.7 66.4,341.7 67,342.7 67.6,343.7 68.2,344.6 68.8,345.5 69.4,346.3 70,347.1 70.6,347.9 71.2,348.7 71.8,349.4 72.4,350.2 73,350.9 73.6,351.6 74.2,352.3 74.8,353 75.4,353.6 76,354.2 76.6,354.9 77.2,355.5 77.8,356.1 78.4,356.7 79,357.3 79.6,357.8 80.2,358.4 80.8,358.9 81.4,359.5 82,360 82.6,360.5 83.2,361 83.8,361.5 84.4,361.9 85,362.4 85.6,362.9 86.2,363.3 86.8,363.7 87.4,364.1 88,364.6 88.6,365 89.2,365.4 89.8,365.8 90.4,366.2 91,366.6 91.6,366.9 92.2,367.3 92.8,367.7 93.4,368 94,368.4 94.6,368.7 95.2,369.1 95.8,369.4 96.4,369.7 97,370 97.6,370.2 98.2,370.5 98.8,370.8 99.4,371 100,371.2 100.6,371.4 101.2,371.6 101.8,371.8 102.4,371.9 103,372.1 103.6,372.3 104.2,372.4 104.8,372.6 105.4,372.7 106,372.9 106.6,373 107.2,373.1 107.8,373.3 108.4,373.4 109,373.6 109.6,373.7 110.2,373.8 110.8,373.9 111.4,374.1 112,374.2 112.6,374.3 113.2,374.4 113.8,374.6 114.4,374.7 115,374.8 115.6,374.9 116.2,375 116.8,375.2 117.4,375.3 118,375.4 118.6,375.5 119.2,375.6 119.8,375.7 120.4,375.8 121,375.9 121.6,376 122.2,376.1 122.8,376.2 123.4,376.3 124,376.4 124.6,376.4 125.2,376.5 125.8,376.6 126.4,376.7 127,376.8 127.6,376.8 128.2,376.9 128.8,377 129.4,377 130,377.1 131.5,377.2 133,377.4 134.5,377.5 136,377.6 137.5,377.6 139,377.7 140.5,377.7 142,377.7 143.5,377.7 145,377.7 146.5,377.7 148,377.6 149.5,377.6 151,377.5 152.5,377.5 154,377.4 155.5,377.4 157,377.3 158.5,377.3 160,377.3 161.5,377.2 163,377.2 164.5,377.1 166,377.1 167.5,377.1 169,377.1 170.5,377.1 172,377.1 173.5,377.2 175,377.3 176.5,377.5 178,377.7 179.5,377.9 181,378.2 182.5,378.5 184,378.7 185.5,379 187,379.4 188.5,379.7 190,380 191.5,380.3 193,380.6 194.5,380.9 196,381.2 197.5,381.4 199,381.6 200.5,381.8 202,382 203.5,382.2 205,382.3 206.5,382.5 208,382.7 209.5,382.9 211,383 212.5,383.2 214,383.3 215.5,383.5 217,383.6 218.5,383.8 220,383.9 221.5,384.1 223,384.2 224.5,384.4 226,384.5 227.5,384.6 229,384.7 230.5,384.9 232,385 233.5,385.1 235,385.2 236.5,385.3 238,385.4 239.5,385.5 239.6,385.5" fill="none" stroke="#a0643a" stroke-width="1.35"/><path d="M31,227.3 39.4,227.3 40,231.2 40.6,236.7 41.2,242.7 41.8,249 42.4,254.7 43,259.2 43.6,263 44.2,266.4 44.8,269.7 45.4,272.8 46,275.7 46.6,278.4 47.2,281.1 47.8,283.7 48.4,286.4 49,289.3 49.6,292.3 50.2,295.1 50.8,297.8 51.4,300.1 52,302.1 52.6,303.9 53.2,305.5 53.8,307 54.4,308.4 55,309.8 55.6,311.1 56.2,312.5 56.8,313.9 57.4,315.3 58,316.8 58.6,318.6 59.2,320.4 59.8,322.3 60.4,324.1 61,325.7 61.6,327.3 62.2,328.9 62.8,330.4 63.4,331.8 64,333.2 64.6,334.6 65.2,335.9 65.8,337.1 66.4,338.2 67,339.3 67.6,340.4 68.2,341.4 68.8,342.4 69.4,343.3 70,344.3 70.6,345.1 71.2,346 71.8,346.8 72.4,347.6 73,348.4 73.6,349.2 74.2,349.9 74.8,350.7 75.4,351.4 76,352.1 76.6,352.7 77.2,353.4 77.8,354 78.4,354.7 79,355.3 79.6,355.9 80.2,356.5 80.8,357.1 81.4,357.7 82,358.2 82.6,358.8 83.2,359.3 83.8,359.9 84.4,360.4 85,360.9 85.6,361.3 86.2,361.8 86.8,362.3 87.4,362.7 88,363.1 88.6,363.6 89.2,364 89.8,364.4 90.4,364.8 91,365.2 91.6,365.6 92.2,366 92.8,366.3 93.4,366.7 94,367.1 94.6,367.4 95.2,367.7 95.8,368.1 96.4,368.4 97,368.7 97.6,369 98.2,369.3 98.8,369.5 99.4,369.8 100,370 100.6,370.2 101.2,370.4 101.8,370.6 102.4,370.8 103,371 103.6,371.1 104.2,371.3 104.8,371.5 105.4,371.6 106,371.8 106.6,371.9 107.2,372.1 107.8,372.3 108.4,372.4 109,372.6 109.6,372.7 110.2,372.8 110.8,373 111.4,373.1 112,373.3 112.6,373.4 113.2,373.5 113.8,373.7 114.4,373.8 115,373.9 115.6,374.1 116.2,374.2 116.8,374.3 117.4,374.4 118,374.5 118.6,374.7 119.2,374.8 119.8,374.9 120.4,375 121,375.1 121.6,375.2 122.2,375.3 122.8,375.4 123.4,375.5 124,375.6 124.6,375.7 125.2,375.8 125.8,375.9 126.4,376 127,376.1 127.6,376.2 128.2,376.3 128.8,376.4 129.4,376.4 130,376.5 131.5,376.7 133,376.8 134.5,376.9 136,377 137.5,377.1 139,377.2 140.5,377.2 142,377.2 143.5,377.2 145,377.2 146.5,377.2 148,377.2 149.5,377.2 151,377.2 152.5,377.1 154,377.1 155.5,377 157,377 158.5,377 160,376.9 161.5,376.9 163,376.9 164.5,376.9 166,376.9 167.5,376.9 169,376.9 170.5,376.9 172,376.9 173.5,377 175,377.2 176.5,377.3 178,377.5 179.5,377.8 181,378 182.5,378.3 184,378.6 185.5,378.9 187,379.2 188.5,379.5 190,379.8 191.5,380.1 193,380.5 194.5,380.7 196,381 197.5,381.3 199,381.5 200.5,381.7 202,381.9 203.5,382 205,382.2 206.5,382.4 208,382.6 209.5,382.7 211,382.9 212.5,383.1 214,383.2 215.5,383.4 217,383.6 218.5,383.7 220,383.9 221.5,384 223,384.2 224.5,384.3 226,384.4 227.5,384.6 229,384.7 230.5,384.8 232,384.9 233.5,385.1 235,385.2 236.5,385.3 238,385.4 239.5,385.5 239.6,385.5" fill="none" stroke="#7d8fa6" stroke-width="1.35"/><path d="M31,227.3 40,227.3 40.6,227.5 41.2,233.4 41.8,239.6 42.4,245.2 43,249.7 43.6,253.7 44.2,257.3 44.8,260.6 45.4,263.8 46,266.8 46.6,269.6 47.2,272.2 47.8,274.9 48.4,277.6 49,280.4 49.6,283.2 50.2,286 50.8,288.6 51.4,291 52,293 52.6,294.9 53.2,296.6 53.8,298.3 54.4,299.9 55,301.4 55.6,302.9 56.2,304.4 56.8,306 57.4,307.7 58,309.5 58.6,311.6 59.2,313.8 59.8,316 60.4,318.2 61,320.2 61.6,322 62.2,323.8 62.8,325.5 63.4,327.2 64,328.8 64.6,330.4 65.2,331.8 65.8,333.2 66.4,334.5 67,335.7 67.6,336.9 68.2,338 68.8,339.1 69.4,340.2 70,341.2 70.6,342.2 71.2,343.1 71.8,344 72.4,344.9 73,345.8 73.6,346.6 74.2,347.4 74.8,348.2 75.4,349 76,349.7 76.6,350.4 77.2,351.2 77.8,351.9 78.4,352.6 79,353.2 79.6,353.9 80.2,354.5 80.8,355.2 81.4,355.8 82,356.4 82.6,357 83.2,357.6 83.8,358.1 84.4,358.7 85,359.2 85.6,359.7 86.2,360.2 86.8,360.7 87.4,361.2 88,361.6 88.6,362.1 89.2,362.5 89.8,362.9 90.4,363.3 91,363.7 91.6,364.1 92.2,364.5 92.8,364.9 93.4,365.3 94,365.6 94.6,366 95.2,366.3 95.8,366.7 96.4,367 97,367.3 97.6,367.6 98.2,367.9 98.8,368.2 99.4,368.4 100,368.7 100.6,368.9 101.2,369.1 101.8,369.3 102.4,369.5 103,369.7 103.6,369.9 104.2,370.1 104.8,370.3 105.4,370.5 106,370.6 106.6,370.8 107.2,371 107.8,371.2 108.4,371.3 109,371.5 109.6,371.6 110.2,371.8 110.8,371.9 111.4,372.1 112,372.2 112.6,372.4 113.2,372.5 113.8,372.7 114.4,372.8 115,373 115.6,373.1 116.2,373.3 116.8,373.4 117.4,373.5 118,373.7 118.6,373.8 119.2,373.9 119.8,374.1 120.4,374.2 121,374.3 121.6,374.4 122.2,374.5 122.8,374.7 123.4,374.8 124,374.9 124.6,375 125.2,375.1 125.8,375.2 126.4,375.3 127,375.4 127.6,375.5 128.2,375.6 128.8,375.7 129.4,375.8 130,375.9 131.5,376.1 133,376.2 134.5,376.4 136,376.5 137.5,376.6 139,376.7 140.5,376.7 142,376.7 143.5,376.8 145,376.8 146.5,376.8 148,376.8 149.5,376.8 151,376.7 152.5,376.7 154,376.7 155.5,376.7 157,376.7 158.5,376.6 160,376.6 161.5,376.6 163,376.6 164.5,376.6 166,376.6 167.5,376.6 169,376.6 170.5,376.7 172,376.7 173.5,376.8 175,377 176.5,377.1 178,377.3 179.5,377.6 181,377.8 182.5,378.1 184,378.4 185.5,378.7 187,379 188.5,379.4 190,379.7 191.5,380 193,380.3 194.5,380.6 196,380.9 197.5,381.1 199,381.3 200.5,381.5 202,381.7 203.5,381.9 205,382.1 206.5,382.3 208,382.5 209.5,382.6 211,382.8 212.5,383 214,383.1 215.5,383.3 217,383.5 218.5,383.6 220,383.8 221.5,383.9 223,384.1 224.5,384.2 226,384.4 227.5,384.5 229,384.7 230.5,384.8 232,384.9 233.5,385 235,385.1 236.5,385.3 238,385.4 239.5,385.5 239.6,385.5" fill="none" stroke="#6f8f3a" stroke-width="1.35"/><path d="M31,227.3 41.2,227.3 41.8,229.5 42.4,234.9 43,239.6 43.6,243.7 44.2,247.4 44.8,250.9 45.4,254.1 46,257.2 46.6,260 47.2,262.7 47.8,265.3 48.4,267.9 49,270.6 49.6,273.3 50.2,275.9 50.8,278.5 51.4,280.8 52,282.9 52.6,284.9 53.2,286.8 53.8,288.6 54.4,290.3 55,292 55.6,293.7 56.2,295.5 56.8,297.3 57.4,299.2 58,301.4 58.6,303.8 59.2,306.5 59.8,309.2 60.4,311.8 61,314.1 61.6,316.3 62.2,318.3 62.8,320.3 63.4,322.2 64,324.1 64.6,325.8 65.2,327.5 65.8,329 66.4,330.4 67,331.8 67.6,333.1 68.2,334.4 68.8,335.6 69.4,336.8 70,337.9 70.6,339 71.2,340 71.8,341 72.4,342 73,343 73.6,343.9 74.2,344.7 74.8,345.6 75.4,346.4 76,347.2 76.6,348 77.2,348.8 77.8,349.5 78.4,350.3 79,351 79.6,351.7 80.2,352.4 80.8,353.1 81.4,353.8 82,354.4 82.6,355.1 83.2,355.7 83.8,356.3 84.4,356.9 85,357.4 85.6,358 86.2,358.5 86.8,359 87.4,359.5 88,360 88.6,360.5 89.2,360.9 89.8,361.4 90.4,361.8 91,362.2 91.6,362.6 92.2,363 92.8,363.4 93.4,363.8 94,364.1 94.6,364.5 95.2,364.8 95.8,365.2 96.4,365.5 97,365.8 97.6,366.1 98.2,366.4 98.8,366.7 99.4,367 100,367.3 100.6,367.5 101.2,367.7 101.8,368 102.4,368.2 103,368.4 103.6,368.6 104.2,368.8 104.8,369 105.4,369.2 106,369.4 106.6,369.6 107.2,369.8 107.8,370 108.4,370.1 109,370.3 109.6,370.5 110.2,370.7 110.8,370.8 111.4,371 112,371.1 112.6,371.3 113.2,371.5 113.8,371.6 114.4,371.8 115,371.9 115.6,372.1 116.2,372.3 116.8,372.4 117.4,372.6 118,372.7 118.6,372.9 119.2,373 119.8,373.1 120.4,373.3 121,373.4 121.6,373.6 122.2,373.7 122.8,373.8 123.4,374 124,374.1 124.6,374.2 125.2,374.3 125.8,374.4 126.4,374.6 127,374.7 127.6,374.8 128.2,374.9 128.8,375 129.4,375.1 130,375.2 131.5,375.4 133,375.6 134.5,375.8 136,375.9 137.5,376 139,376.1 140.5,376.2 142,376.2 143.5,376.3 145,376.3 146.5,376.3 148,376.3 149.5,376.3 151,376.3 152.5,376.3 154,376.3 155.5,376.3 157,376.3 158.5,376.3 160,376.3 161.5,376.3 163,376.3 164.5,376.3 166,376.3 167.5,376.4 169,376.4 170.5,376.5 172,376.5 173.5,376.6 175,376.8 176.5,376.9 178,377.2 179.5,377.4 181,377.7 182.5,377.9 184,378.2 185.5,378.6 187,378.9 188.5,379.2 190,379.5 191.5,379.8 193,380.1 194.5,380.4 196,380.7 197.5,381 199,381.2 200.5,381.4 202,381.6 203.5,381.8 205,382 206.5,382.1 208,382.3 209.5,382.5 211,382.7 212.5,382.9 214,383 215.5,383.2 217,383.4 218.5,383.6 220,383.7 221.5,383.9 223,384 224.5,384.2 226,384.3 227.5,384.5 229,384.6 230.5,384.7 232,384.9 233.5,385 235,385.1 236.5,385.2 238,385.4 239.5,385.5 239.6,385.5" fill="none" stroke="#d44aa6" stroke-width="1.35"/><path d="M31,227.3 42.4,227.3 43,228.6 43.6,232.9 44.2,236.8 44.8,240.4 45.4,243.7 46,246.8 46.6,249.7 47.2,252.4 47.8,254.9 48.4,257.5 49,260 49.6,262.5 50.2,264.9 50.8,267.3 51.4,269.6 52,271.7 52.6,273.9 53.2,275.9 53.8,277.9 54.4,279.8 55,281.7 55.6,283.6 56.2,285.5 56.8,287.6 57.4,289.9 58,292.4 58.6,295.3 59.2,298.5 59.8,301.7 60.4,304.8 61,307.5 61.6,310 62.2,312.4 62.8,314.7 63.4,316.9 64,318.9 64.6,320.9 65.2,322.8 65.8,324.5 66.4,326.1 67,327.6 67.6,329 68.2,330.4 68.8,331.8 69.4,333.1 70,334.3 70.6,335.5 71.2,336.7 71.8,337.8 72.4,338.9 73,339.9 73.6,340.9 74.2,341.9 74.8,342.8 75.4,343.7 76,344.5 76.6,345.4 77.2,346.2 77.8,347.1 78.4,347.9 79,348.7 79.6,349.4 80.2,350.2 80.8,350.9 81.4,351.6 82,352.3 82.6,353 83.2,353.7 83.8,354.3 84.4,355 85,355.6 85.6,356.2 86.2,356.7 86.8,357.3 87.4,357.8 88,358.3 88.6,358.8 89.2,359.3 89.8,359.7 90.4,360.1 91,360.5 91.6,361 92.2,361.4 92.8,361.7 93.4,362.1 94,362.5 94.6,362.9 95.2,363.2 95.8,363.6 96.4,363.9 97,364.2 97.6,364.5 98.2,364.8 98.8,365.1 99.4,365.4 100,365.7 100.6,366 101.2,366.2 101.8,366.5 102.4,366.7 103,367 103.6,367.2 104.2,367.4 104.8,367.7 105.4,367.9 106,368.1 106.6,368.3 107.2,368.5 107.8,368.7 108.4,368.9 109,369.1 109.6,369.3 110.2,369.4 110.8,369.6 111.4,369.8 112,370 112.6,370.1 113.2,370.3 113.8,370.5 114.4,370.7 115,370.8 115.6,371 116.2,371.2 116.8,371.4 117.4,371.5 118,371.7 118.6,371.8 119.2,372 119.8,372.2 120.4,372.3 121,372.5 121.6,372.6 122.2,372.8 122.8,372.9 123.4,373.1 124,373.2 124.6,373.4 125.2,373.5 125.8,373.6 126.4,373.8 127,373.9 127.6,374 128.2,374.1 128.8,374.2 129.4,374.3 130,374.5 131.5,374.7 133,374.9 134.5,375.1 136,375.3 137.5,375.5 139,375.6 140.5,375.6 142,375.7 143.5,375.7 145,375.8 146.5,375.8 148,375.8 149.5,375.9 151,375.9 152.5,375.9 154,375.9 155.5,375.9 157,375.9 158.5,376 160,376 161.5,376 163,376 164.5,376 166,376.1 167.5,376.1 169,376.2 170.5,376.2 172,376.3 173.5,376.4 175,376.6 176.5,376.8 178,377 179.5,377.2 181,377.5 182.5,377.8 184,378.1 185.5,378.4 187,378.7 188.5,379 190,379.3 191.5,379.7 193,380 194.5,380.3 196,380.5 197.5,380.8 199,381 200.5,381.2 202,381.4 203.5,381.6 205,381.8 206.5,382 208,382.2 209.5,382.4 211,382.6 212.5,382.8 214,382.9 215.5,383.1 217,383.3 218.5,383.5 220,383.6 221.5,383.8 223,384 224.5,384.1 226,384.3 227.5,384.4 229,384.6 230.5,384.7 232,384.8 233.5,385 235,385.1 236.5,385.2 238,385.3 239.5,385.5 239.6,385.5" fill="none" stroke="#c07a38" stroke-width="1.35"/><path d="M31,227.3 44.2,227.3 44.8,229.1 45.4,232.5 46,235.6 46.6,238.5 47.2,241.1 47.8,243.7 48.4,246.1 49,248.3 49.6,250.6 50.2,252.7 50.8,254.9 51.4,257.1 52,259.4 52.6,261.7 53.2,263.9 53.8,266 54.4,268.1 55,270.2 55.6,272.3 56.2,274.5 56.8,276.9 57.4,279.5 58,282.4 58.6,285.9 59.2,289.7 59.8,293.5 60.4,297.1 61,300.3 61.6,303.1 62.2,305.9 62.8,308.5 63.4,311 64,313.4 64.6,315.6 65.2,317.7 65.8,319.6 66.4,321.4 67,323 67.6,324.7 68.2,326.2 68.8,327.7 69.4,329.2 70,330.5 70.6,331.9 71.2,333.2 71.8,334.4 72.4,335.6 73,336.7 73.6,337.8 74.2,338.8 74.8,339.8 75.4,340.8 76,341.7 76.6,342.6 77.2,343.5 77.8,344.4 78.4,345.3 79,346.1 79.6,347 80.2,347.8 80.8,348.6 81.4,349.4 82,350.1 82.6,350.9 83.2,351.6 83.8,352.3 84.4,352.9 85,353.6 85.6,354.2 86.2,354.8 86.8,355.4 87.4,356 88,356.5 88.6,357 89.2,357.5 89.8,357.9 90.4,358.4 91,358.8 91.6,359.2 92.2,359.6 92.8,360 93.4,360.4 94,360.7 94.6,361.1 95.2,361.5 95.8,361.8 96.4,362.2 97,362.5 97.6,362.8 98.2,363.1 98.8,363.5 99.4,363.8 100,364.1 100.6,364.3 101.2,364.6 101.8,364.9 102.4,365.2 103,365.4 103.6,365.7 104.2,365.9 104.8,366.2 105.4,366.4 106,366.6 106.6,366.9 107.2,367.1 107.8,367.3 108.4,367.5 109,367.7 109.6,367.9 110.2,368.1 110.8,368.3 111.4,368.5 112,368.7 112.6,368.9 113.2,369.1 113.8,369.3 114.4,369.5 115,369.7 115.6,369.8 116.2,370 116.8,370.2 117.4,370.4 118,370.6 118.6,370.8 119.2,370.9 119.8,371.1 120.4,371.3 121,371.5 121.6,371.6 122.2,371.8 122.8,372 123.4,372.1 124,372.3 124.6,372.4 125.2,372.6 125.8,372.7 126.4,372.9 127,373 127.6,373.2 128.2,373.3 128.8,373.4 129.4,373.6 130,373.7 131.5,374 133,374.2 134.5,374.5 136,374.7 137.5,374.8 139,375 140.5,375.1 142,375.1 143.5,375.2 145,375.3 146.5,375.3 148,375.4 149.5,375.4 151,375.4 152.5,375.5 154,375.5 155.5,375.5 157,375.6 158.5,375.6 160,375.6 161.5,375.7 163,375.7 164.5,375.7 166,375.8 167.5,375.8 169,375.9 170.5,376 172,376.1 173.5,376.2 175,376.4 176.5,376.6 178,376.8 179.5,377 181,377.3 182.5,377.6 184,377.9 185.5,378.2 187,378.5 188.5,378.8 190,379.2 191.5,379.5 193,379.8 194.5,380.1 196,380.4 197.5,380.6 199,380.9 200.5,381.1 202,381.3 203.5,381.5 205,381.7 206.5,381.9 208,382.1 209.5,382.3 211,382.5 212.5,382.7 214,382.8 215.5,383 217,383.2 218.5,383.4 220,383.6 221.5,383.7 223,383.9 224.5,384.1 226,384.2 227.5,384.4 229,384.5 230.5,384.7 232,384.8 233.5,385 235,385.1 236.5,385.2 238,385.3 239.5,385.5 239.6,385.5" fill="none" stroke="#5a9a40" stroke-width="1.35"/><path d="M31,227.3 45.4,227.3 46,227.7 46.6,230.7 47.2,233.5 47.8,236.2 48.4,238.7 49,241.1 49.6,243.5 50.2,245.8 50.8,248.1 51.4,250.4 52,252.8 52.6,255.3 53.2,257.7 53.8,259.9 54.4,262.2 55,264.4 55.6,266.8 56.2,269.2 56.8,271.8 57.4,274.6 58,277.6 58.6,281.2 59.2,285.1 59.8,289.1 60.4,292.8 61,296.1 61.6,299.1 62.2,302 62.8,304.7 63.4,307.4 64,309.9 64.6,312.2 65.2,314.4 65.8,316.4 66.4,318.3 67,320.1 67.6,321.8 68.2,323.4 68.8,325 69.4,326.5 70,328 70.6,329.3 71.2,330.7 71.8,331.9 72.4,333.2 73,334.3 73.6,335.5 74.2,336.6 74.8,337.6 75.4,338.6 76,339.6 76.6,340.6 77.2,341.5 77.8,342.4 78.4,343.4 79,344.2 79.6,345.1 80.2,346 80.8,346.8 81.4,347.6 82,348.4 82.6,349.2 83.2,349.9 83.8,350.7 84.4,351.4 85,352.1 85.6,352.7 86.2,353.3 86.8,354 87.4,354.5 88,355.1 88.6,355.6 89.2,356.2 89.8,356.6 90.4,357.1 91,357.5 91.6,358 92.2,358.4 92.8,358.8 93.4,359.2 94,359.6 94.6,360 95.2,360.4 95.8,360.8 96.4,361.1 97,361.5 97.6,361.9 98.2,362.2 98.8,362.5 99.4,362.8 100,363.2 100.6,363.5 101.2,363.8 101.8,364.1 102.4,364.4 103,364.6 103.6,364.9 104.2,365.2 104.8,365.4 105.4,365.7 106,365.9 106.6,366.2 107.2,366.4 107.8,366.7 108.4,366.9 109,367.1 109.6,367.3 110.2,367.5 110.8,367.7 111.4,367.9 112,368.1 112.6,368.3 113.2,368.5 113.8,368.7 114.4,368.9 115,369.1 115.6,369.3 116.2,369.5 116.8,369.7 117.4,369.9 118,370.1 118.6,370.3 119.2,370.5 119.8,370.6 120.4,370.8 121,371 121.6,371.2 122.2,371.3 122.8,371.5 123.4,371.7 124,371.8 124.6,372 125.2,372.2 125.8,372.3 126.4,372.5 127,372.6 127.6,372.7 128.2,372.9 128.8,373 129.4,373.1 130,373.3 131.5,373.6 133,373.8 134.5,374.1 136,374.3 137.5,374.4 139,374.6 140.5,374.7 142,374.7 143.5,374.8 145,374.9 146.5,374.9 148,375 149.5,375 151,375.1 152.5,375.1 154,375.2 155.5,375.2 157,375.2 158.5,375.3 160,375.3 161.5,375.4 163,375.4 164.5,375.5 166,375.5 167.5,375.6 169,375.7 170.5,375.7 172,375.8 173.5,376 175,376.2 176.5,376.4 178,376.6 179.5,376.8 181,377.1 182.5,377.4 184,377.7 185.5,378 187,378.4 188.5,378.7 190,379 191.5,379.3 193,379.6 194.5,379.9 196,380.2 197.5,380.5 199,380.7 200.5,380.9 202,381.1 203.5,381.3 205,381.5 206.5,381.8 208,382 209.5,382.2 211,382.3 212.5,382.5 214,382.7 215.5,382.9 217,383.1 218.5,383.3 220,383.5 221.5,383.6 223,383.8 224.5,384 226,384.1 227.5,384.3 229,384.5 230.5,384.6 232,384.8 233.5,384.9 235,385 236.5,385.2 238,385.3 239.5,385.4 239.6,385.4" fill="none" stroke="#2e9e48" stroke-width="1.35"/><path d="M31,227.3 47.2,227.3 47.8,228.5 48.4,231.2 49,233.8 49.6,236.3 50.2,238.7 50.8,241.2 51.4,243.7 52,246.3 52.6,248.9 53.2,251.4 53.8,253.9 54.4,256.3 55,258.8 55.6,261.3 56.2,263.9 56.8,266.7 57.4,269.6 58,272.9 58.6,276.6 59.2,280.6 59.8,284.7 60.4,288.5 61,291.9 61.6,295 62.2,298 62.8,300.9 63.4,303.7 64,306.3 64.6,308.8 65.2,311.1 65.8,313.2 66.4,315.2 67,317.1 67.6,318.9 68.2,320.6 68.8,322.2 69.4,323.8 70,325.3 70.6,326.7 71.2,328.1 71.8,329.4 72.4,330.7 73,331.9 73.6,333.1 74.2,334.2 74.8,335.3 75.4,336.4 76,337.4 76.6,338.4 77.2,339.4 77.8,340.4 78.4,341.4 79,342.3 79.6,343.2 80.2,344.1 80.8,345 81.4,345.8 82,346.7 82.6,347.5 83.2,348.2 83.8,349 84.4,349.7 85,350.5 85.6,351.2 86.2,351.8 86.8,352.5 87.4,353.1 88,353.7 88.6,354.3 89.2,354.8 89.8,355.3 90.4,355.8 91,356.3 91.6,356.8 92.2,357.2 92.8,357.7 93.4,358.1 94,358.5 94.6,358.9 95.2,359.3 95.8,359.7 96.4,360.1 97,360.5 97.6,360.9 98.2,361.2 98.8,361.6 99.4,361.9 100,362.3 100.6,362.6 101.2,362.9 101.8,363.2 102.4,363.6 103,363.9 103.6,364.2 104.2,364.4 104.8,364.7 105.4,365 106,365.3 106.6,365.5 107.2,365.8 107.8,366 108.4,366.2 109,366.5 109.6,366.7 110.2,366.9 110.8,367.1 111.4,367.3 112,367.6 112.6,367.8 113.2,368 113.8,368.2 114.4,368.4 115,368.6 115.6,368.8 116.2,369 116.8,369.2 117.4,369.4 118,369.6 118.6,369.8 119.2,370 119.8,370.2 120.4,370.4 121,370.5 121.6,370.7 122.2,370.9 122.8,371.1 123.4,371.2 124,371.4 124.6,371.6 125.2,371.7 125.8,371.9 126.4,372 127,372.2 127.6,372.3 128.2,372.5 128.8,372.6 129.4,372.7 130,372.8 131.5,373.1 133,373.4 134.5,373.6 136,373.8 137.5,374 139,374.2 140.5,374.3 142,374.3 143.5,374.4 145,374.5 146.5,374.6 148,374.6 149.5,374.7 151,374.7 152.5,374.8 154,374.8 155.5,374.9 157,374.9 158.5,375 160,375 161.5,375.1 163,375.1 164.5,375.2 166,375.3 167.5,375.3 169,375.4 170.5,375.5 172,375.6 173.5,375.8 175,375.9 176.5,376.2 178,376.4 179.5,376.7 181,376.9 182.5,377.2 184,377.5 185.5,377.9 187,378.2 188.5,378.5 190,378.8 191.5,379.1 193,379.5 194.5,379.8 196,380 197.5,380.3 199,380.6 200.5,380.8 202,381 203.5,381.2 205,381.4 206.5,381.6 208,381.8 209.5,382 211,382.2 212.5,382.4 214,382.6 215.5,382.8 217,383 218.5,383.2 220,383.4 221.5,383.5 223,383.7 224.5,383.9 226,384.1 227.5,384.2 229,384.4 230.5,384.5 232,384.7 233.5,384.8 235,385 236.5,385.1 238,385.3 239.5,385.4 239.6,385.4" fill="none" stroke="#e2336e" stroke-width="1.35"/><path d="M31,227.3 49,227.3 49.6,228.7 50.2,231.4 50.8,234 51.4,236.7 52,239.4 52.6,242.2 53.2,244.9 53.8,247.5 54.4,250.2 55,252.8 55.6,255.5 56.2,258.4 56.8,261.4 57.4,264.5 58,267.9 58.6,271.8 59.2,275.9 59.8,280.1 60.4,284 61,287.6 61.6,290.8 62.2,293.9 62.8,296.9 63.4,299.8 64,302.6 64.6,305.1 65.2,307.6 65.8,309.8 66.4,312 67,314 67.6,315.9 68.2,317.6 68.8,319.4 69.4,321 70,322.5 70.6,324 71.2,325.5 71.8,326.8 72.4,328.1 73,329.4 73.6,330.6 74.2,331.8 74.8,333 75.4,334.1 76,335.1 76.6,336.2 77.2,337.3 77.8,338.3 78.4,339.3 79,340.3 79.6,341.2 80.2,342.2 80.8,343.1 81.4,344 82,344.8 82.6,345.7 83.2,346.5 83.8,347.3 84.4,348.1 85,348.8 85.6,349.5 86.2,350.2 86.8,350.9 87.4,351.6 88,352.2 88.6,352.8 89.2,353.4 89.8,353.9 90.4,354.5 91,355 91.6,355.5 92.2,356 92.8,356.4 93.4,356.9 94,357.4 94.6,357.8 95.2,358.2 95.8,358.6 96.4,359.1 97,359.5 97.6,359.9 98.2,360.2 98.8,360.6 99.4,361 100,361.4 100.6,361.7 101.2,362.1 101.8,362.4 102.4,362.7 103,363 103.6,363.4 104.2,363.7 104.8,364 105.4,364.3 106,364.5 106.6,364.8 107.2,365.1 107.8,365.3 108.4,365.6 109,365.8 109.6,366.1 110.2,366.3 110.8,366.5 111.4,366.7 112,367 112.6,367.2 113.2,367.4 113.8,367.6 114.4,367.8 115,368.1 115.6,368.3 116.2,368.5 116.8,368.7 117.4,368.9 118,369.1 118.6,369.3 119.2,369.5 119.8,369.7 120.4,369.9 121,370.1 121.6,370.2 122.2,370.4 122.8,370.6 123.4,370.8 124,370.9 124.6,371.1 125.2,371.3 125.8,371.4 126.4,371.6 127,371.7 127.6,371.9 128.2,372 128.8,372.1 129.4,372.3 130,372.4 131.5,372.7 133,373 134.5,373.2 136,373.4 137.5,373.6 139,373.7 140.5,373.8 142,373.9 143.5,374 145,374.1 146.5,374.2 148,374.3 149.5,374.3 151,374.4 152.5,374.4 154,374.5 155.5,374.5 157,374.6 158.5,374.6 160,374.7 161.5,374.8 163,374.8 164.5,374.9 166,375 167.5,375.1 169,375.2 170.5,375.3 172,375.4 173.5,375.5 175,375.7 176.5,376 178,376.2 179.5,376.5 181,376.7 182.5,377 184,377.4 185.5,377.7 187,378 188.5,378.3 190,378.6 191.5,379 193,379.3 194.5,379.6 196,379.9 197.5,380.1 199,380.4 200.5,380.6 202,380.8 203.5,381.1 205,381.3 206.5,381.5 208,381.7 209.5,381.9 211,382.1 212.5,382.3 214,382.5 215.5,382.7 217,382.9 218.5,383.1 220,383.3 221.5,383.5 223,383.6 224.5,383.8 226,384 227.5,384.1 229,384.3 230.5,384.5 232,384.6 233.5,384.8 235,384.9 236.5,385.1 238,385.2 239.5,385.3 239.6,385.4" fill="none" stroke="#ee7d22" stroke-width="1.35"/><path d="M31,227.3 50.8,227.3 51.4,229.3 52,232.2 52.6,235.2 53.2,238.1 53.8,240.9 54.4,243.7 55,246.6 55.6,249.5 56.2,252.6 56.8,255.8 57.4,259.2 58,262.8 58.6,266.8 59.2,271 59.8,275.2 60.4,279.3 61,283 61.6,286.3 62.2,289.6 62.8,292.8 63.4,295.8 64,298.6 64.6,301.4 65.2,303.9 65.8,306.3 66.4,308.6 67,310.7 67.6,312.7 68.2,314.6 68.8,316.3 69.4,318 70,319.6 70.6,321.2 71.2,322.7 71.8,324.1 72.4,325.5 73,326.8 73.6,328 74.2,329.3 74.8,330.5 75.4,331.6 76,332.8 76.6,333.9 77.2,335 77.8,336.1 78.4,337.1 79,338.1 79.6,339.2 80.2,340.1 80.8,341.1 81.4,342 82,342.9 82.6,343.8 83.2,344.6 83.8,345.5 84.4,346.3 85,347.1 85.6,347.8 86.2,348.6 86.8,349.3 87.4,350 88,350.6 88.6,351.3 89.2,351.9 89.8,352.5 90.4,353.1 91,353.6 91.6,354.1 92.2,354.7 92.8,355.2 93.4,355.7 94,356.1 94.6,356.6 95.2,357.1 95.8,357.5 96.4,357.9 97,358.4 97.6,358.8 98.2,359.2 98.8,359.6 99.4,360 100,360.4 100.6,360.8 101.2,361.2 101.8,361.5 102.4,361.9 103,362.2 103.6,362.5 104.2,362.9 104.8,363.2 105.4,363.5 106,363.8 106.6,364.1 107.2,364.4 107.8,364.7 108.4,364.9 109,365.2 109.6,365.4 110.2,365.7 110.8,365.9 111.4,366.1 112,366.4 112.6,366.6 113.2,366.8 113.8,367.1 114.4,367.3 115,367.5 115.6,367.7 116.2,367.9 116.8,368.2 117.4,368.4 118,368.6 118.6,368.8 119.2,369 119.8,369.2 120.4,369.4 121,369.6 121.6,369.8 122.2,369.9 122.8,370.1 123.4,370.3 124,370.5 124.6,370.6 125.2,370.8 125.8,371 126.4,371.1 127,371.3 127.6,371.4 128.2,371.6 128.8,371.7 129.4,371.8 130,372 131.5,372.2 133,372.5 134.5,372.8 136,373 137.5,373.1 139,373.3 140.5,373.4 142,373.5 143.5,373.6 145,373.7 146.5,373.8 148,373.9 149.5,373.9 151,374 152.5,374.1 154,374.1 155.5,374.2 157,374.3 158.5,374.3 160,374.4 161.5,374.5 163,374.5 164.5,374.6 166,374.7 167.5,374.8 169,374.9 170.5,375 172,375.2 173.5,375.3 175,375.5 176.5,375.7 178,376 179.5,376.3 181,376.5 182.5,376.8 184,377.2 185.5,377.5 187,377.8 188.5,378.1 190,378.5 191.5,378.8 193,379.1 194.5,379.4 196,379.7 197.5,380 199,380.2 200.5,380.5 202,380.7 203.5,380.9 205,381.1 206.5,381.3 208,381.6 209.5,381.8 211,382 212.5,382.2 214,382.4 215.5,382.6 217,382.8 218.5,383 220,383.2 221.5,383.4 223,383.5 224.5,383.7 226,383.9 227.5,384.1 229,384.2 230.5,384.4 232,384.6 233.5,384.7 235,384.9 236.5,385 238,385.2 239.5,385.3 239.6,385.3" fill="none" stroke="#4a4ac4" stroke-width="1.35"/><path d="M31,227.3 52,227.3 52.6,227.8 53.2,230.9 53.8,233.9 54.4,237 55,240.1 55.6,243.3 56.2,246.6 56.8,250 57.4,253.6 58,257.4 58.6,261.5 59.2,265.9 59.8,270.2 60.4,274.3 61,278.2 61.6,281.7 62.2,285.1 62.8,288.4 63.4,291.6 64,294.6 64.6,297.4 65.2,300.1 65.8,302.6 66.4,305 67,307.3 67.6,309.4 68.2,311.3 68.8,313.2 69.4,314.9 70,316.6 70.6,318.2 71.2,319.8 71.8,321.2 72.4,322.6 73,324 73.6,325.3 74.2,326.6 74.8,327.9 75.4,329.1 76,330.3 76.6,331.5 77.2,332.6 77.8,333.7 78.4,334.8 79,335.9 79.6,337 80.2,338 80.8,339 81.4,340 82,340.9 82.6,341.8 83.2,342.7 83.8,343.6 84.4,344.4 85,345.3 85.6,346.1 86.2,346.8 86.8,347.6 87.4,348.3 88,349 88.6,349.7 89.2,350.4 89.8,351 90.4,351.6 91,352.2 91.6,352.7 92.2,353.3 92.8,353.8 93.4,354.4 94,354.9 94.6,355.4 95.2,355.8 95.8,356.3 96.4,356.8 97,357.3 97.6,357.7 98.2,358.1 98.8,358.6 99.4,359 100,359.4 100.6,359.8 101.2,360.2 101.8,360.6 102.4,361 103,361.3 103.6,361.7 104.2,362.1 104.8,362.4 105.4,362.7 106,363 106.6,363.4 107.2,363.7 107.8,363.9 108.4,364.2 109,364.5 109.6,364.8 110.2,365 110.8,365.3 111.4,365.5 112,365.7 112.6,366 113.2,366.2 113.8,366.5 114.4,366.7 115,366.9 115.6,367.2 116.2,367.4 116.8,367.6 117.4,367.8 118,368 118.6,368.3 119.2,368.5 119.8,368.7 120.4,368.9 121,369.1 121.6,369.3 122.2,369.5 122.8,369.6 123.4,369.8 124,370 124.6,370.2 125.2,370.3 125.8,370.5 126.4,370.7 127,370.8 127.6,371 128.2,371.1 128.8,371.2 129.4,371.4 130,371.5 131.5,371.8 133,372.1 134.5,372.3 136,372.5 137.5,372.7 139,372.9 140.5,373 142,373.1 143.5,373.2 145,373.3 146.5,373.4 148,373.5 149.5,373.5 151,373.6 152.5,373.7 154,373.8 155.5,373.8 157,373.9 158.5,374 160,374.1 161.5,374.1 163,374.2 164.5,374.3 166,374.4 167.5,374.5 169,374.6 170.5,374.8 172,374.9 173.5,375.1 175,375.3 176.5,375.5 178,375.8 179.5,376.1 181,376.3 182.5,376.7 184,377 185.5,377.3 187,377.6 188.5,378 190,378.3 191.5,378.6 193,378.9 194.5,379.2 196,379.5 197.5,379.8 199,380.1 200.5,380.3 202,380.5 203.5,380.7 205,381 206.5,381.2 208,381.4 209.5,381.6 211,381.8 212.5,382.1 214,382.3 215.5,382.5 217,382.7 218.5,382.9 220,383.1 221.5,383.3 223,383.4 224.5,383.6 226,383.8 227.5,384 229,384.2 230.5,384.3 232,384.5 233.5,384.7 235,384.8 236.5,385 238,385.1 239.5,385.3 239.6,385.3" fill="none" stroke="#f4cf1e" stroke-width="1.35"/><path d="M31,227.3 53.8,227.3 54.4,229.9 55,233.3 55.6,236.7 56.2,240.2 56.8,243.9 57.4,247.7 58,251.7 58.6,256.1 59.2,260.5 59.8,264.9 60.4,269.2 61,273.1 61.6,276.8 62.2,280.4 62.8,283.8 63.4,287.1 64,290.3 64.6,293.2 65.2,296.1 65.8,298.8 66.4,301.3 67,303.7 67.6,305.9 68.2,308 68.8,309.9 69.4,311.7 70,313.5 70.6,315.1 71.2,316.7 71.8,318.2 72.4,319.7 73,321.1 73.6,322.5 74.2,323.9 74.8,325.2 75.4,326.4 76,327.7 76.6,328.9 77.2,330.1 77.8,331.3 78.4,332.5 79,333.6 79.6,334.7 80.2,335.8 80.8,336.8 81.4,337.8 82,338.8 82.6,339.8 83.2,340.7 83.8,341.6 84.4,342.5 85,343.4 85.6,344.2 86.2,345 86.8,345.8 87.4,346.6 88,347.3 88.6,348.1 89.2,348.7 89.8,349.4 90.4,350.1 91,350.7 91.6,351.3 92.2,351.9 92.8,352.5 93.4,353 94,353.6 94.6,354.1 95.2,354.6 95.8,355.1 96.4,355.6 97,356.1 97.6,356.6 98.2,357 98.8,357.5 99.4,357.9 100,358.4 100.6,358.8 101.2,359.2 101.8,359.6 102.4,360.1 103,360.4 103.6,360.8 104.2,361.2 104.8,361.6 105.4,361.9 106,362.3 106.6,362.6 107.2,362.9 107.8,363.2 108.4,363.5 109,363.8 109.6,364.1 110.2,364.3 110.8,364.6 111.4,364.9 112,365.1 112.6,365.4 113.2,365.6 113.8,365.9 114.4,366.1 115,366.3 115.6,366.6 116.2,366.8 116.8,367 117.4,367.3 118,367.5 118.6,367.7 119.2,367.9 119.8,368.1 120.4,368.3 121,368.6 121.6,368.7 122.2,368.9 122.8,369.1 123.4,369.3 124,369.5 124.6,369.7 125.2,369.8 125.8,370 126.4,370.2 127,370.3 127.6,370.5 128.2,370.6 128.8,370.8 129.4,370.9 130,371 131.5,371.3 133,371.6 134.5,371.8 136,372 137.5,372.2 139,372.4 140.5,372.5 142,372.7 143.5,372.8 145,372.9 146.5,373 148,373.1 149.5,373.1 151,373.2 152.5,373.3 154,373.4 155.5,373.5 157,373.5 158.5,373.6 160,373.7 161.5,373.8 163,373.9 164.5,374 166,374.1 167.5,374.2 169,374.4 170.5,374.5 172,374.7 173.5,374.8 175,375.1 176.5,375.3 178,375.6 179.5,375.8 181,376.1 182.5,376.5 184,376.8 185.5,377.1 187,377.4 188.5,377.8 190,378.1 191.5,378.4 193,378.7 194.5,379.1 196,379.3 197.5,379.6 199,379.9 200.5,380.1 202,380.4 203.5,380.6 205,380.8 206.5,381 208,381.3 209.5,381.5 211,381.7 212.5,381.9 214,382.1 215.5,382.3 217,382.6 218.5,382.8 220,383 221.5,383.2 223,383.3 224.5,383.5 226,383.7 227.5,383.9 229,384.1 230.5,384.3 232,384.4 233.5,384.6 235,384.8 236.5,384.9 238,385.1 239.5,385.2 239.6,385.2" fill="none" stroke="#16b4d6" stroke-width="1.35"/><path d="M31,227.3 55,227.3 55.6,229.8 56.2,233.6 56.8,237.6 57.4,241.6 58,245.9 58.6,250.3 59.2,254.9 59.8,259.4 60.4,263.8 61,267.9 61.6,271.7 62.2,275.4 62.8,279.1 63.4,282.5 64,285.8 64.6,288.9 65.2,291.9 65.8,294.7 66.4,297.4 67,299.9 67.6,302.3 68.2,304.4 68.8,306.4 69.4,308.3 70,310.2 70.6,311.9 71.2,313.5 71.8,315.1 72.4,316.6 73,318.1 73.6,319.5 74.2,320.9 74.8,322.3 75.4,323.7 76,325 76.6,326.3 77.2,327.5 77.8,328.8 78.4,330 79,331.2 79.6,332.3 80.2,333.4 80.8,334.5 81.4,335.6 82,336.6 82.6,337.6 83.2,338.6 83.8,339.5 84.4,340.5 85,341.4 85.6,342.3 86.2,343.1 86.8,344 87.4,344.8 88,345.6 88.6,346.3 89.2,347.1 89.8,347.8 90.4,348.5 91,349.1 91.6,349.8 92.2,350.4 92.8,351 93.4,351.6 94,352.2 94.6,352.7 95.2,353.3 95.8,353.8 96.4,354.3 97,354.9 97.6,355.4 98.2,355.9 98.8,356.4 99.4,356.8 100,357.3 100.6,357.8 101.2,358.2 101.8,358.7 102.4,359.1 103,359.5 103.6,359.9 104.2,360.3 104.8,360.7 105.4,361.1 106,361.4 106.6,361.8 107.2,362.1 107.8,362.5 108.4,362.8 109,363.1 109.6,363.4 110.2,363.6 110.8,363.9 111.4,364.2 112,364.5 112.6,364.7 113.2,365 113.8,365.2 114.4,365.5 115,365.7 115.6,366 116.2,366.2 116.8,366.5 117.4,366.7 118,366.9 118.6,367.2 119.2,367.4 119.8,367.6 120.4,367.8 121,368 121.6,368.2 122.2,368.4 122.8,368.6 123.4,368.8 124,369 124.6,369.2 125.2,369.3 125.8,369.5 126.4,369.7 127,369.8 127.6,370 128.2,370.1 128.8,370.3 129.4,370.4 130,370.5 131.5,370.8 133,371.1 134.5,371.3 136,371.5 137.5,371.7 139,371.9 140.5,372.1 142,372.2 143.5,372.3 145,372.4 146.5,372.5 148,372.6 149.5,372.7 151,372.8 152.5,372.9 154,373 155.5,373.1 157,373.2 158.5,373.3 160,373.4 161.5,373.5 163,373.6 164.5,373.7 166,373.8 167.5,373.9 169,374.1 170.5,374.2 172,374.4 173.5,374.6 175,374.8 176.5,375.1 178,375.4 179.5,375.6 181,375.9 182.5,376.3 184,376.6 185.5,376.9 187,377.2 188.5,377.6 190,377.9 191.5,378.2 193,378.6 194.5,378.9 196,379.2 197.5,379.4 199,379.7 200.5,380 202,380.2 203.5,380.4 205,380.7 206.5,380.9 208,381.1 209.5,381.3 211,381.6 212.5,381.8 214,382 215.5,382.2 217,382.4 218.5,382.6 220,382.8 221.5,383.1 223,383.2 224.5,383.4 226,383.6 227.5,383.8 229,384 230.5,384.2 232,384.4 233.5,384.5 235,384.7 236.5,384.9 238,385 239.5,385.2 239.6,385.2" fill="none" stroke="#8b7d3a" stroke-width="1.35"/><path d="M31,227.3 56.2,227.3 56.8,231 57.4,235.3 58,239.7 58.6,244.4 59.2,249.1 59.8,253.7 60.4,258.1 61,262.3 61.6,266.4 62.2,270.3 62.8,274 63.4,277.7 64,281.1 64.6,284.4 65.2,287.5 65.8,290.5 66.4,293.4 67,296 67.6,298.5 68.2,300.7 68.8,302.8 69.4,304.8 70,306.7 70.6,308.5 71.2,310.2 71.8,311.8 72.4,313.4 73,314.9 73.6,316.4 74.2,317.9 74.8,319.3 75.4,320.8 76,322.1 76.6,323.5 77.2,324.8 77.8,326.1 78.4,327.4 79,328.6 79.6,329.8 80.2,331 80.8,332.1 81.4,333.2 82,334.3 82.6,335.3 83.2,336.4 83.8,337.4 84.4,338.3 85,339.3 85.6,340.2 86.2,341.1 86.8,342 87.4,342.9 88,343.7 88.6,344.5 89.2,345.3 89.8,346.1 90.4,346.8 91,347.5 91.6,348.2 92.2,348.9 92.8,349.5 93.4,350.1 94,350.7 94.6,351.3 95.2,351.9 95.8,352.5 96.4,353 97,353.6 97.6,354.1 98.2,354.7 98.8,355.2 99.4,355.7 100,356.2 100.6,356.7 101.2,357.2 101.8,357.6 102.4,358.1 103,358.6 103.6,359 104.2,359.4 104.8,359.8 105.4,360.2 106,360.6 106.6,361 107.2,361.3 107.8,361.7 108.4,362 109,362.3 109.6,362.6 110.2,362.9 110.8,363.2 111.4,363.5 112,363.8 112.6,364 113.2,364.3 113.8,364.6 114.4,364.8 115,365.1 115.6,365.4 116.2,365.6 116.8,365.9 117.4,366.1 118,366.3 118.6,366.6 119.2,366.8 119.8,367 120.4,367.3 121,367.5 121.6,367.7 122.2,367.9 122.8,368.1 123.4,368.3 124,368.5 124.6,368.6 125.2,368.8 125.8,369 126.4,369.2 127,369.3 127.6,369.5 128.2,369.6 128.8,369.7 129.4,369.9 130,370 131.5,370.3 133,370.6 134.5,370.8 136,371 137.5,371.2 139,371.4 140.5,371.6 142,371.7 143.5,371.8 145,372 146.5,372.1 148,372.2 149.5,372.3 151,372.4 152.5,372.5 154,372.6 155.5,372.7 157,372.8 158.5,372.9 160,373 161.5,373.1 163,373.2 164.5,373.4 166,373.5 167.5,373.6 169,373.8 170.5,374 172,374.2 173.5,374.4 175,374.6 176.5,374.9 178,375.1 179.5,375.4 181,375.7 182.5,376 184,376.4 185.5,376.7 187,377 188.5,377.4 190,377.7 191.5,378 193,378.4 194.5,378.7 196,379 197.5,379.3 199,379.5 200.5,379.8 202,380 203.5,380.3 205,380.5 206.5,380.7 208,381 209.5,381.2 211,381.4 212.5,381.7 214,381.9 215.5,382.1 217,382.3 218.5,382.5 220,382.7 221.5,382.9 223,383.1 224.5,383.3 226,383.5 227.5,383.7 229,383.9 230.5,384.1 232,384.3 233.5,384.5 235,384.6 236.5,384.8 238,385 239.5,385.1 239.6,385.1" fill="none" stroke="#a0643a" stroke-width="1.35"/><path d="M31,227.3 56.8,227.3 57.4,228.6 58,233.3 58.6,238.1 59.2,242.9 59.8,247.7 60.4,252.2 61,256.6 61.6,260.8 62.2,264.9 62.8,268.8 63.4,272.6 64,276.2 64.6,279.6 65.2,282.9 65.8,286.1 66.4,289.1 67,291.9 67.6,294.5 68.2,296.9 68.8,299.1 69.4,301.1 70,303.1 70.6,304.9 71.2,306.7 71.8,308.4 72.4,310 73,311.6 73.6,313.2 74.2,314.7 74.8,316.2 75.4,317.7 76,319.2 76.6,320.6 77.2,322 77.8,323.3 78.4,324.7 79,326 79.6,327.2 80.2,328.5 80.8,329.7 81.4,330.8 82,331.9 82.6,333 83.2,334.1 83.8,335.1 84.4,336.1 85,337.1 85.6,338.1 86.2,339 86.8,340 87.4,340.9 88,341.8 88.6,342.6 89.2,343.5 89.8,344.3 90.4,345.1 91,345.8 91.6,346.5 92.2,347.3 92.8,348 93.4,348.6 94,349.3 94.6,349.9 95.2,350.5 95.8,351.1 96.4,351.7 97,352.3 97.6,352.9 98.2,353.4 98.8,354 99.4,354.5 100,355.1 100.6,355.6 101.2,356.1 101.8,356.6 102.4,357.1 103,357.6 103.6,358 104.2,358.5 104.8,358.9 105.4,359.3 106,359.7 106.6,360.1 107.2,360.5 107.8,360.9 108.4,361.2 109,361.6 109.6,361.9 110.2,362.2 110.8,362.5 111.4,362.8 112,363.1 112.6,363.4 113.2,363.6 113.8,363.9 114.4,364.2 115,364.5 115.6,364.7 116.2,365 116.8,365.2 117.4,365.5 118,365.7 118.6,366 119.2,366.2 119.8,366.5 120.4,366.7 121,366.9 121.6,367.1 122.2,367.3 122.8,367.5 123.4,367.7 124,367.9 124.6,368.1 125.2,368.3 125.8,368.5 126.4,368.6 127,368.8 127.6,368.9 128.2,369.1 128.8,369.2 129.4,369.4 130,369.5 131.5,369.8 133,370 134.5,370.3 136,370.5 137.5,370.7 139,370.9 140.5,371.1 142,371.2 143.5,371.4 145,371.5 146.5,371.6 148,371.7 149.5,371.9 151,372 152.5,372.1 154,372.2 155.5,372.3 157,372.4 158.5,372.5 160,372.6 161.5,372.8 163,372.9 164.5,373 166,373.2 167.5,373.3 169,373.5 170.5,373.7 172,373.9 173.5,374.1 175,374.4 176.5,374.6 178,374.9 179.5,375.2 181,375.5 182.5,375.8 184,376.2 185.5,376.5 187,376.8 188.5,377.2 190,377.5 191.5,377.8 193,378.2 194.5,378.5 196,378.8 197.5,379.1 199,379.3 200.5,379.6 202,379.8 203.5,380.1 205,380.3 206.5,380.6 208,380.8 209.5,381 211,381.3 212.5,381.5 214,381.7 215.5,382 217,382.2 218.5,382.4 220,382.6 221.5,382.8 223,383 224.5,383.2 226,383.4 227.5,383.6 229,383.8 230.5,384 232,384.2 233.5,384.4 235,384.6 236.5,384.7 238,384.9 239.5,385.1 239.6,385.1" fill="none" stroke="#7d8fa6" stroke-width="1.35"/><path d="M31,227.3 58,227.3 58.6,231.6 59.2,236.6 59.8,241.4 60.4,246 61,250.5 61.6,254.9 62.2,259.2 62.8,263.3 63.4,267.3 64,271 64.6,274.6 65.2,278.1 65.8,281.5 66.4,284.7 67,287.7 67.6,290.4 68.2,292.9 68.8,295.2 69.4,297.3 70,299.3 70.6,301.2 71.2,303.1 71.8,304.8 72.4,306.5 73,308.2 73.6,309.8 74.2,311.4 74.8,313 75.4,314.5 76,316.1 76.6,317.5 77.2,319 77.8,320.4 78.4,321.8 79,323.2 79.6,324.5 80.2,325.8 80.8,327 81.4,328.2 82,329.4 82.6,330.5 83.2,331.6 83.8,332.7 84.4,333.8 85,334.8 85.6,335.9 86.2,336.9 86.8,337.9 87.4,338.8 88,339.8 88.6,340.7 89.2,341.5 89.8,342.4 90.4,343.2 91,344 91.6,344.8 92.2,345.6 92.8,346.3 93.4,347 94,347.7 94.6,348.4 95.2,349 95.8,349.7 96.4,350.3 97,350.9 97.6,351.5 98.2,352.1 98.8,352.7 99.4,353.3 100,353.9 100.6,354.4 101.2,355 101.8,355.5 102.4,356 103,356.5 103.6,357 104.2,357.5 104.8,358 105.4,358.4 106,358.8 106.6,359.3 107.2,359.7 107.8,360 108.4,360.4 109,360.8 109.6,361.1 110.2,361.4 110.8,361.7 111.4,362 112,362.3 112.6,362.6 113.2,362.9 113.8,363.2 114.4,363.5 115,363.8 115.6,364.1 116.2,364.3 116.8,364.6 117.4,364.9 118,365.1 118.6,365.4 119.2,365.6 119.8,365.9 120.4,366.1 121,366.3 121.6,366.5 122.2,366.8 122.8,367 123.4,367.2 124,367.4 124.6,367.6 125.2,367.7 125.8,367.9 126.4,368.1 127,368.2 127.6,368.4 128.2,368.5 128.8,368.7 129.4,368.8 130,368.9 131.5,369.2 133,369.5 134.5,369.7 136,370 137.5,370.2 139,370.4 140.5,370.6 142,370.7 143.5,370.9 145,371 146.5,371.2 148,371.3 149.5,371.4 151,371.5 152.5,371.7 154,371.8 155.5,371.9 157,372 158.5,372.1 160,372.3 161.5,372.4 163,372.5 164.5,372.7 166,372.9 167.5,373 169,373.2 170.5,373.4 172,373.6 173.5,373.9 175,374.1 176.5,374.4 178,374.7 179.5,375 181,375.3 182.5,375.6 184,375.9 185.5,376.3 187,376.6 188.5,377 190,377.3 191.5,377.6 193,378 194.5,378.3 196,378.6 197.5,378.9 199,379.1 200.5,379.4 202,379.7 203.5,379.9 205,380.2 206.5,380.4 208,380.6 209.5,380.9 211,381.1 212.5,381.4 214,381.6 215.5,381.8 217,382.1 218.5,382.3 220,382.5 221.5,382.7 223,382.9 224.5,383.1 226,383.3 227.5,383.5 229,383.7 230.5,383.9 232,384.1 233.5,384.3 235,384.5 236.5,384.7 238,384.9 239.5,385 239.6,385" fill="none" stroke="#6f8f3a" stroke-width="1.35"/><path d="M31,227.3 58.6,227.3 59.2,229.9 59.8,234.8 60.4,239.6 61,244.2 61.6,248.8 62.2,253.3 62.8,257.6 63.4,261.7 64,265.6 64.6,269.4 65.2,273.1 65.8,276.7 66.4,280.1 67,283.2 67.6,286.1 68.2,288.7 68.8,291.1 69.4,293.3 70,295.4 70.6,297.4 71.2,299.3 71.8,301.1 72.4,302.8 73,304.6 73.6,306.2 74.2,307.9 74.8,309.6 75.4,311.2 76,312.8 76.6,314.4 77.2,315.9 77.8,317.4 78.4,318.9 79,320.3 79.6,321.7 80.2,323 80.8,324.3 81.4,325.6 82,326.8 82.6,327.9 83.2,329.1 83.8,330.2 84.4,331.4 85,332.5 85.6,333.5 86.2,334.6 86.8,335.6 87.4,336.7 88,337.6 88.6,338.6 89.2,339.5 89.8,340.5 90.4,341.3 91,342.2 91.6,343 92.2,343.8 92.8,344.6 93.4,345.4 94,346.1 94.6,346.8 95.2,347.5 95.8,348.2 96.4,348.8 97,349.5 97.6,350.1 98.2,350.8 98.8,351.4 99.4,352 100,352.6 100.6,353.2 101.2,353.8 101.8,354.4 102.4,354.9 103,355.4 103.6,356 104.2,356.5 104.8,357 105.4,357.4 106,357.9 106.6,358.4 107.2,358.8 107.8,359.2 108.4,359.6 109,359.9 109.6,360.3 110.2,360.6 110.8,361 111.4,361.3 112,361.6 112.6,361.9 113.2,362.2 113.8,362.5 114.4,362.8 115,363.1 115.6,363.4 116.2,363.7 116.8,364 117.4,364.2 118,364.5 118.6,364.8 119.2,365 119.8,365.3 120.4,365.5 121,365.7 121.6,365.9 122.2,366.2 122.8,366.4 123.4,366.6 124,366.8 124.6,367 125.2,367.2 125.8,367.3 126.4,367.5 127,367.7 127.6,367.8 128.2,368 128.8,368.1 129.4,368.2 130,368.4 131.5,368.7 133,368.9 134.5,369.2 136,369.4 137.5,369.6 139,369.8 140.5,370 142,370.2 143.5,370.4 145,370.5 146.5,370.7 148,370.8 149.5,370.9 151,371.1 152.5,371.2 154,371.3 155.5,371.5 157,371.6 158.5,371.7 160,371.9 161.5,372 163,372.2 164.5,372.3 166,372.5 167.5,372.7 169,372.9 170.5,373.1 172,373.3 173.5,373.6 175,373.9 176.5,374.1 178,374.4 179.5,374.7 181,375.1 182.5,375.4 184,375.7 185.5,376.1 187,376.4 188.5,376.8 190,377.1 191.5,377.4 193,377.8 194.5,378.1 196,378.4 197.5,378.7 199,379 200.5,379.2 202,379.5 203.5,379.7 205,380 206.5,380.2 208,380.5 209.5,380.7 211,381 212.5,381.2 214,381.5 215.5,381.7 217,381.9 218.5,382.1 220,382.4 221.5,382.6 223,382.8 224.5,383 226,383.2 227.5,383.5 229,383.7 230.5,383.9 232,384.1 233.5,384.2 235,384.4 236.5,384.6 238,384.8 239.5,385 239.6,385" fill="none" stroke="#d44aa6" stroke-width="1.35"/><path d="M31,227.3 59.2,227.3 59.8,228.6 60.4,233.4 61,238.2 61.6,242.9 62.2,247.5 62.8,252 63.4,256.2 64,260.3 64.6,264.2 65.2,268.1 65.8,271.8 66.4,275.3 67,278.7 67.6,281.7 68.2,284.4 68.8,286.8 69.4,289.1 70,291.3 70.6,293.4 71.2,295.4 71.8,297.3 72.4,299.2 73,301 73.6,302.8 74.2,304.6 74.8,306.3 75.4,308 76,309.7 76.6,311.4 77.2,313 77.8,314.5 78.4,316.1 79,317.6 79.6,319 80.2,320.4 80.8,321.8 81.4,323.1 82,324.4 82.6,325.6 83.2,326.8 83.8,328 84.4,329.2 85,330.3 85.6,331.4 86.2,332.5 86.8,333.6 87.4,334.7 88,335.7 88.6,336.8 89.2,337.7 89.8,338.7 90.4,339.6 91,340.6 91.6,341.4 92.2,342.3 92.8,343.1 93.4,343.9 94,344.7 94.6,345.4 95.2,346.1 95.8,346.9 96.4,347.6 97,348.3 97.6,349 98.2,349.6 98.8,350.3 99.4,351 100,351.6 100.6,352.2 101.2,352.8 101.8,353.4 102.4,354 103,354.6 103.6,355.1 104.2,355.7 104.8,356.2 105.4,356.7 106,357.1 106.6,357.6 107.2,358.1 107.8,358.5 108.4,358.9 109,359.3 109.6,359.7 110.2,360 110.8,360.3 111.4,360.7 112,361 112.6,361.3 113.2,361.7 113.8,362 114.4,362.3 115,362.6 115.6,362.9 116.2,363.2 116.8,363.5 117.4,363.7 118,364 118.6,364.3 119.2,364.5 119.8,364.8 120.4,365 121,365.3 121.6,365.5 122.2,365.7 122.8,365.9 123.4,366.2 124,366.4 124.6,366.6 125.2,366.7 125.8,366.9 126.4,367.1 127,367.3 127.6,367.4 128.2,367.6 128.8,367.7 129.4,367.8 130,368 131.5,368.3 133,368.5 134.5,368.8 136,369 137.5,369.3 139,369.5 140.5,369.7 142,369.9 143.5,370 145,370.2 146.5,370.4 148,370.5 149.5,370.6 151,370.8 152.5,370.9 154,371.1 155.5,371.2 157,371.3 158.5,371.5 160,371.6 161.5,371.8 163,371.9 164.5,372.1 166,372.3 167.5,372.5 169,372.7 170.5,372.9 172,373.1 173.5,373.4 175,373.7 176.5,373.9 178,374.3 179.5,374.6 181,374.9 182.5,375.2 184,375.6 185.5,375.9 187,376.2 188.5,376.6 190,376.9 191.5,377.3 193,377.6 194.5,377.9 196,378.2 197.5,378.5 199,378.8 200.5,379.1 202,379.3 203.5,379.6 205,379.9 206.5,380.1 208,380.4 209.5,380.6 211,380.9 212.5,381.1 214,381.4 215.5,381.6 217,381.8 218.5,382.1 220,382.3 221.5,382.5 223,382.7 224.5,383 226,383.2 227.5,383.4 229,383.6 230.5,383.8 232,384 233.5,384.2 235,384.4 236.5,384.6 238,384.8 239.5,384.9 239.6,384.9" fill="none" stroke="#c07a38" stroke-width="1.35"/><path d="M31,227.3 59.8,227.3 60.4,228.1 61,232.9 61.6,237.7 62.2,242.3 62.8,246.9 63.4,251.2 64,255.3 64.6,259.3 65.2,263.2 65.8,267 66.4,270.7 67,274.1 67.6,277.2 68.2,280 68.8,282.5 69.4,285 70,287.2 70.6,289.5 71.2,291.6 71.8,293.7 72.4,295.8 73,297.8 73.6,299.8 74.2,301.7 74.8,303.6 75.4,305.4 76,307.1 76.6,308.8 77.2,310.5 77.8,312.2 78.4,313.8 79,315.4 79.6,316.9 80.2,318.4 80.8,319.9 81.4,321.3 82,322.6 82.6,323.9 83.2,325.1 83.8,326.3 84.4,327.6 85,328.7 85.6,329.9 86.2,331 86.8,332.2 87.4,333.3 88,334.3 88.6,335.4 89.2,336.4 89.8,337.4 90.4,338.4 91,339.4 91.6,340.3 92.2,341.2 92.8,342 93.4,342.9 94,343.7 94.6,344.5 95.2,345.2 95.8,346 96.4,346.8 97,347.5 97.6,348.3 98.2,349 98.8,349.7 99.4,350.4 100,351 100.6,351.7 101.2,352.3 101.8,352.9 102.4,353.5 103,354.1 103.6,354.7 104.2,355.2 104.8,355.7 105.4,356.3 106,356.7 106.6,357.2 107.2,357.7 107.8,358.1 108.4,358.5 109,359 109.6,359.3 110.2,359.7 110.8,360.1 111.4,360.4 112,360.8 112.6,361.1 113.2,361.4 113.8,361.8 114.4,362.1 115,362.4 115.6,362.7 116.2,363 116.8,363.3 117.4,363.6 118,363.8 118.6,364.1 119.2,364.4 119.8,364.6 120.4,364.9 121,365.1 121.6,365.4 122.2,365.6 122.8,365.8 123.4,366 124,366.2 124.6,366.4 125.2,366.6 125.8,366.8 126.4,367 127,367.2 127.6,367.3 128.2,367.5 128.8,367.6 129.4,367.8 130,367.9 131.5,368.2 133,368.5 134.5,368.8 136,369 137.5,369.3 139,369.5 140.5,369.7 142,369.9 143.5,370.1 145,370.2 146.5,370.4 148,370.6 149.5,370.7 151,370.8 152.5,371 154,371.1 155.5,371.2 157,371.4 158.5,371.5 160,371.6 161.5,371.8 163,371.9 164.5,372.1 166,372.2 167.5,372.4 169,372.6 170.5,372.8 172,373 173.5,373.3 175,373.6 176.5,373.9 178,374.2 179.5,374.5 181,374.8 182.5,375.1 184,375.5 185.5,375.8 187,376.2 188.5,376.5 190,376.8 191.5,377.2 193,377.5 194.5,377.8 196,378.2 197.5,378.5 199,378.8 200.5,379 202,379.3 203.5,379.6 205,379.8 206.5,380.1 208,380.4 209.5,380.6 211,380.9 212.5,381.1 214,381.4 215.5,381.6 217,381.9 218.5,382.1 220,382.3 221.5,382.5 223,382.8 224.5,383 226,383.2 227.5,383.4 229,383.6 230.5,383.8 232,384 233.5,384.2 235,384.4 236.5,384.6 238,384.7 239.5,384.9 239.6,384.9" fill="none" stroke="#5a9a40" stroke-width="1.35"/><path d="M31,227.3 60.4,227.3 61,227.4 61.6,232.2 62.2,237 62.8,241.5 63.4,246 64,250.2 64.6,254.2 65.2,258.2 65.8,262.1 66.4,265.8 67,269.3 67.6,272.5 68.2,275.4 68.8,278.1 69.4,280.6 70,283 70.6,285.3 71.2,287.6 71.8,289.9 72.4,292.2 73,294.4 73.6,296.6 74.2,298.7 74.8,300.7 75.4,302.6 76,304.4 76.6,306.2 77.2,308 77.8,309.8 78.4,311.5 79,313.1 79.6,314.8 80.2,316.4 80.8,317.9 81.4,319.3 82,320.7 82.6,322.1 83.2,323.4 83.8,324.6 84.4,325.9 85,327.1 85.6,328.3 86.2,329.5 86.8,330.6 87.4,331.8 88,332.9 88.6,334 89.2,335.1 89.8,336.1 90.4,337.1 91,338.1 91.6,339.1 92.2,340 92.8,341 93.4,341.8 94,342.7 94.6,343.5 95.2,344.3 95.8,345.2 96.4,346 97,346.8 97.6,347.6 98.2,348.3 98.8,349.1 99.4,349.8 100,350.5 100.6,351.2 101.2,351.8 101.8,352.4 102.4,353 103,353.6 103.6,354.2 104.2,354.8 104.8,355.3 105.4,355.8 106,356.3 106.6,356.8 107.2,357.3 107.8,357.8 108.4,358.2 109,358.6 109.6,359 110.2,359.4 110.8,359.8 111.4,360.1 112,360.5 112.6,360.8 113.2,361.2 113.8,361.5 114.4,361.9 115,362.2 115.6,362.5 116.2,362.8 116.8,363.1 117.4,363.4 118,363.7 118.6,364 119.2,364.2 119.8,364.5 120.4,364.7 121,365 121.6,365.2 122.2,365.4 122.8,365.7 123.4,365.9 124,366.1 124.6,366.3 125.2,366.5 125.8,366.7 126.4,366.9 127,367 127.6,367.2 128.2,367.4 128.8,367.5 129.4,367.7 130,367.8 131.5,368.2 133,368.5 134.5,368.8 136,369 137.5,369.3 139,369.5 140.5,369.7 142,369.9 143.5,370.1 145,370.3 146.5,370.4 148,370.6 149.5,370.8 151,370.9 152.5,371 154,371.1 155.5,371.3 157,371.4 158.5,371.5 160,371.6 161.5,371.7 163,371.9 164.5,372 166,372.2 167.5,372.3 169,372.5 170.5,372.7 172,373 173.5,373.2 175,373.5 176.5,373.8 178,374.1 179.5,374.4 181,374.7 182.5,375 184,375.4 185.5,375.7 187,376.1 188.5,376.4 190,376.8 191.5,377.1 193,377.4 194.5,377.8 196,378.1 197.5,378.4 199,378.7 200.5,379 202,379.3 203.5,379.5 205,379.8 206.5,380.1 208,380.3 209.5,380.6 211,380.9 212.5,381.1 214,381.4 215.5,381.6 217,381.9 218.5,382.1 220,382.3 221.5,382.6 223,382.8 224.5,383 226,383.2 227.5,383.4 229,383.6 230.5,383.8 232,384 233.5,384.2 235,384.4 236.5,384.6 238,384.7 239.5,384.9 239.6,384.9" fill="none" stroke="#2e9e48" stroke-width="1.35"/><path d="M31,227.3 61.6,227.3 62.2,231.4 62.8,236 63.4,240.5 64,244.8 64.6,248.9 65.2,253 65.8,257 66.4,260.8 67,264.3 67.6,267.6 68.2,270.6 68.8,273.4 69.4,276 70,278.5 70.6,281 71.2,283.5 71.8,286 72.4,288.5 73,290.9 73.6,293.3 74.2,295.6 74.8,297.7 75.4,299.7 76,301.7 76.6,303.6 77.2,305.4 77.8,307.3 78.4,309.1 79,310.8 79.6,312.5 80.2,314.2 80.8,315.8 81.4,317.4 82,318.8 82.6,320.2 83.2,321.6 83.8,322.9 84.4,324.2 85,325.4 85.6,326.7 86.2,327.9 86.8,329.1 87.4,330.3 88,331.4 88.6,332.6 89.2,333.7 89.8,334.8 90.4,335.8 91,336.9 91.6,337.9 92.2,338.9 92.8,339.8 93.4,340.8 94,341.7 94.6,342.5 95.2,343.4 95.8,344.3 96.4,345.1 97,346 97.6,346.8 98.2,347.6 98.8,348.4 99.4,349.2 100,349.9 100.6,350.6 101.2,351.3 101.8,351.9 102.4,352.6 103,353.2 103.6,353.8 104.2,354.3 104.8,354.9 105.4,355.4 106,355.9 106.6,356.4 107.2,356.9 107.8,357.4 108.4,357.8 109,358.3 109.6,358.7 110.2,359.1 110.8,359.5 111.4,359.8 112,360.2 112.6,360.6 113.2,361 113.8,361.3 114.4,361.6 115,362 115.6,362.3 116.2,362.6 116.8,362.9 117.4,363.2 118,363.5 118.6,363.8 119.2,364.1 119.8,364.3 120.4,364.6 121,364.8 121.6,365.1 122.2,365.3 122.8,365.5 123.4,365.8 124,366 124.6,366.2 125.2,366.4 125.8,366.6 126.4,366.8 127,366.9 127.6,367.1 128.2,367.3 128.8,367.4 129.4,367.6 130,367.8 131.5,368.1 133,368.4 134.5,368.7 136,369 137.5,369.2 139,369.5 140.5,369.7 142,369.9 143.5,370.1 145,370.3 146.5,370.5 148,370.7 149.5,370.8 151,370.9 152.5,371.1 154,371.2 155.5,371.3 157,371.4 158.5,371.5 160,371.6 161.5,371.7 163,371.8 164.5,372 166,372.1 167.5,372.3 169,372.5 170.5,372.7 172,372.9 173.5,373.1 175,373.4 176.5,373.7 178,374 179.5,374.3 181,374.6 182.5,375 184,375.3 185.5,375.6 187,376 188.5,376.3 190,376.7 191.5,377 193,377.4 194.5,377.7 196,378 197.5,378.3 199,378.6 200.5,378.9 202,379.2 203.5,379.5 205,379.8 206.5,380 208,380.3 209.5,380.6 211,380.9 212.5,381.1 214,381.4 215.5,381.6 217,381.9 218.5,382.1 220,382.3 221.5,382.6 223,382.8 224.5,383 226,383.2 227.5,383.4 229,383.6 230.5,383.8 232,384 233.5,384.2 235,384.4 236.5,384.6 238,384.7 239.5,384.9 239.6,384.9" fill="none" stroke="#e2336e" stroke-width="1.35"/><path d="M31,227.3 62.2,227.3 62.8,230.3 63.4,234.9 64,239.2 64.6,243.4 65.2,247.6 65.8,251.6 66.4,255.5 67,259.2 67.6,262.6 68.2,265.6 68.8,268.5 69.4,271.3 70,273.9 70.6,276.5 71.2,279.2 71.8,281.9 72.4,284.6 73,287.3 73.6,289.9 74.2,292.4 74.8,294.7 75.4,296.8 76,298.8 76.6,300.8 77.2,302.7 77.8,304.7 78.4,306.6 79,308.4 79.6,310.2 80.2,312 80.8,313.7 81.4,315.3 82,316.8 82.6,318.3 83.2,319.7 83.8,321.1 84.4,322.4 85,323.7 85.6,325 86.2,326.2 86.8,327.5 87.4,328.7 88,329.9 88.6,331.1 89.2,332.3 89.8,333.4 90.4,334.5 91,335.6 91.6,336.7 92.2,337.7 92.8,338.7 93.4,339.7 94,340.6 94.6,341.5 95.2,342.5 95.8,343.4 96.4,344.3 97,345.2 97.6,346.1 98.2,346.9 98.8,347.8 99.4,348.6 100,349.3 100.6,350 101.2,350.7 101.8,351.4 102.4,352.1 103,352.7 103.6,353.3 104.2,353.9 104.8,354.4 105.4,355 106,355.5 106.6,356 107.2,356.5 107.8,357 108.4,357.5 109,357.9 109.6,358.3 110.2,358.8 110.8,359.2 111.4,359.6 112,360 112.6,360.3 113.2,360.7 113.8,361.1 114.4,361.4 115,361.8 115.6,362.1 116.2,362.4 116.8,362.8 117.4,363.1 118,363.3 118.6,363.6 119.2,363.9 119.8,364.2 120.4,364.4 121,364.7 121.6,364.9 122.2,365.2 122.8,365.4 123.4,365.6 124,365.8 124.6,366 125.2,366.2 125.8,366.4 126.4,366.6 127,366.8 127.6,367 128.2,367.2 128.8,367.4 129.4,367.5 130,367.7 131.5,368.1 133,368.4 134.5,368.7 136,369 137.5,369.2 139,369.5 140.5,369.7 142,370 143.5,370.2 145,370.4 146.5,370.5 148,370.7 149.5,370.9 151,371 152.5,371.1 154,371.2 155.5,371.3 157,371.4 158.5,371.5 160,371.6 161.5,371.7 163,371.8 164.5,371.9 166,372.1 167.5,372.2 169,372.4 170.5,372.6 172,372.8 173.5,373 175,373.3 176.5,373.6 178,373.9 179.5,374.2 181,374.5 182.5,374.9 184,375.2 185.5,375.5 187,375.9 188.5,376.2 190,376.6 191.5,376.9 193,377.3 194.5,377.6 196,378 197.5,378.3 199,378.6 200.5,378.9 202,379.2 203.5,379.5 205,379.7 206.5,380 208,380.3 209.5,380.6 211,380.9 212.5,381.1 214,381.4 215.5,381.6 217,381.9 218.5,382.1 220,382.4 221.5,382.6 223,382.8 224.5,383 226,383.2 227.5,383.4 229,383.6 230.5,383.8 232,384 233.5,384.2 235,384.4 236.5,384.5 238,384.7 239.5,384.9 239.6,384.9" fill="none" stroke="#ee7d22" stroke-width="1.35"/><path d="M31,227.3 62.8,227.3 63.4,229 64,233.4 64.6,237.7 65.2,241.9 65.8,246 66.4,250 67,253.7 67.6,257.2 68.2,260.4 68.8,263.5 69.4,266.3 70,269.1 70.6,271.8 71.2,274.7 71.8,277.7 72.4,280.6 73,283.6 73.6,286.4 74.2,289.1 74.8,291.5 75.4,293.7 76,295.9 76.6,297.9 77.2,300 77.8,302 78.4,304 79,306 79.6,307.9 80.2,309.7 80.8,311.5 81.4,313.2 82,314.8 82.6,316.3 83.2,317.8 83.8,319.2 84.4,320.6 85,321.9 85.6,323.3 86.2,324.5 86.8,325.8 87.4,327.1 88,328.3 88.6,329.6 89.2,330.8 89.8,332 90.4,333.1 91,334.3 91.6,335.4 92.2,336.5 92.8,337.5 93.4,338.5 94,339.5 94.6,340.5 95.2,341.5 95.8,342.5 96.4,343.5 97,344.4 97.6,345.3 98.2,346.2 98.8,347.1 99.4,347.9 100,348.7 100.6,349.5 101.2,350.2 101.8,350.9 102.4,351.6 103,352.2 103.6,352.8 104.2,353.4 104.8,354 105.4,354.6 106,355.1 106.6,355.6 107.2,356.1 107.8,356.6 108.4,357.1 109,357.6 109.6,358 110.2,358.4 110.8,358.9 111.4,359.3 112,359.7 112.6,360.1 113.2,360.5 113.8,360.8 114.4,361.2 115,361.6 115.6,361.9 116.2,362.2 116.8,362.6 117.4,362.9 118,363.2 118.6,363.5 119.2,363.7 119.8,364 120.4,364.3 121,364.5 121.6,364.8 122.2,365 122.8,365.3 123.4,365.5 124,365.7 124.6,365.9 125.2,366.1 125.8,366.3 126.4,366.5 127,366.7 127.6,366.9 128.2,367.1 128.8,367.3 129.4,367.4 130,367.6 131.5,368 133,368.4 134.5,368.7 136,369 137.5,369.2 139,369.5 140.5,369.8 142,370 143.5,370.2 145,370.4 146.5,370.6 148,370.8 149.5,370.9 151,371.1 152.5,371.2 154,371.3 155.5,371.3 157,371.4 158.5,371.5 160,371.6 161.5,371.7 163,371.8 164.5,371.9 166,372 167.5,372.1 169,372.3 170.5,372.5 172,372.7 173.5,372.9 175,373.2 176.5,373.5 178,373.8 179.5,374.1 181,374.5 182.5,374.8 184,375.1 185.5,375.5 187,375.8 188.5,376.1 190,376.5 191.5,376.9 193,377.2 194.5,377.6 196,377.9 197.5,378.2 199,378.5 200.5,378.8 202,379.1 203.5,379.4 205,379.7 206.5,380 208,380.3 209.5,380.6 211,380.9 212.5,381.1 214,381.4 215.5,381.7 217,381.9 218.5,382.2 220,382.4 221.5,382.6 223,382.8 224.5,383 226,383.2 227.5,383.4 229,383.6 230.5,383.8 232,384 233.5,384.2 235,384.4 236.5,384.5 238,384.7 239.5,384.8 239.6,384.9" fill="none" stroke="#4a4ac4" stroke-width="1.35"/><path d="M31,227.3 63.4,227.3 64,227.3 64.6,231.7 65.2,236 65.8,240.2 66.4,244.3 67,248.1 67.6,251.7 68.2,255 68.8,258.2 69.4,261.2 70,264 70.6,267 71.2,270.1 71.8,273.2 72.4,276.5 73,279.7 73.6,282.7 74.2,285.6 74.8,288.2 75.4,290.6 76,292.8 76.6,295 77.2,297.1 77.8,299.2 78.4,301.3 79,303.4 79.6,305.4 80.2,307.4 80.8,309.3 81.4,311.1 82,312.7 82.6,314.3 83.2,315.8 83.8,317.3 84.4,318.7 85,320.1 85.6,321.5 86.2,322.8 86.8,324.1 87.4,325.4 88,326.7 88.6,328 89.2,329.3 89.8,330.5 90.4,331.7 91,332.9 91.6,334.1 92.2,335.2 92.8,336.3 93.4,337.4 94,338.4 94.6,339.5 95.2,340.5 95.8,341.6 96.4,342.6 97,343.6 97.6,344.6 98.2,345.5 98.8,346.4 99.4,347.3 100,348.1 100.6,348.9 101.2,349.6 101.8,350.4 102.4,351 103,351.7 103.6,352.3 104.2,352.9 104.8,353.5 105.4,354.1 106,354.7 106.6,355.2 107.2,355.7 107.8,356.2 108.4,356.7 109,357.2 109.6,357.7 110.2,358.1 110.8,358.6 111.4,359 112,359.4 112.6,359.8 113.2,360.2 113.8,360.6 114.4,361 115,361.4 115.6,361.7 116.2,362.1 116.8,362.4 117.4,362.7 118,363 118.6,363.3 119.2,363.6 119.8,363.9 120.4,364.1 121,364.4 121.6,364.6 122.2,364.9 122.8,365.1 123.4,365.3 124,365.6 124.6,365.8 125.2,366 125.8,366.2 126.4,366.4 127,366.6 127.6,366.8 128.2,367 128.8,367.2 129.4,367.4 130,367.5 131.5,367.9 133,368.3 134.5,368.7 136,369 137.5,369.2 139,369.5 140.5,369.8 142,370 143.5,370.2 145,370.5 146.5,370.6 148,370.8 149.5,371 151,371.1 152.5,371.2 154,371.3 155.5,371.4 157,371.4 158.5,371.5 160,371.6 161.5,371.7 163,371.8 164.5,371.8 166,372 167.5,372.1 169,372.2 170.5,372.4 172,372.6 173.5,372.9 175,373.1 176.5,373.4 178,373.7 179.5,374 181,374.4 182.5,374.7 184,375 185.5,375.4 187,375.7 188.5,376.1 190,376.4 191.5,376.8 193,377.1 194.5,377.5 196,377.8 197.5,378.2 199,378.5 200.5,378.8 202,379.1 203.5,379.4 205,379.7 206.5,380 208,380.3 209.5,380.6 211,380.9 212.5,381.1 214,381.4 215.5,381.7 217,381.9 218.5,382.2 220,382.4 221.5,382.6 223,382.8 224.5,383 226,383.3 227.5,383.5 229,383.6 230.5,383.8 232,384 233.5,384.2 235,384.4 236.5,384.5 238,384.7 239.5,384.8 239.6,384.8" fill="none" stroke="#f4cf1e" stroke-width="1.35"/><path d="M31,227.3 64.6,227.3 65.2,229.9 65.8,234.2 66.4,238.3 67,242.2 67.6,246 68.2,249.4 68.8,252.6 69.4,255.8 70,258.8 70.6,261.9 71.2,265.2 71.8,268.6 72.4,272.2 73,275.6 73.6,279 74.2,282.1 74.8,284.8 75.4,287.3 76,289.7 76.6,291.9 77.2,294.1 77.8,296.4 78.4,298.6 79,300.8 79.6,302.9 80.2,305 80.8,307 81.4,308.9 82,310.6 82.6,312.3 83.2,313.8 83.8,315.4 84.4,316.8 85,318.3 85.6,319.6 86.2,321 86.8,322.4 87.4,323.7 88,325.1 88.6,326.4 89.2,327.7 89.8,329 90.4,330.3 91,331.5 91.6,332.8 92.2,333.9 92.8,335.1 93.4,336.2 94,337.3 94.6,338.4 95.2,339.5 95.8,340.6 96.4,341.7 97,342.7 97.6,343.8 98.2,344.8 98.8,345.7 99.4,346.7 100,347.5 100.6,348.3 101.2,349.1 101.8,349.8 102.4,350.5 103,351.2 103.6,351.8 104.2,352.5 104.8,353.1 105.4,353.7 106,354.2 106.6,354.8 107.2,355.3 107.8,355.8 108.4,356.4 109,356.8 109.6,357.3 110.2,357.8 110.8,358.2 111.4,358.7 112,359.1 112.6,359.6 113.2,360 113.8,360.4 114.4,360.8 115,361.1 115.6,361.5 116.2,361.9 116.8,362.2 117.4,362.5 118,362.8 118.6,363.1 119.2,363.4 119.8,363.7 120.4,364 121,364.2 121.6,364.5 122.2,364.7 122.8,365 123.4,365.2 124,365.4 124.6,365.7 125.2,365.9 125.8,366.1 126.4,366.3 127,366.5 127.6,366.7 128.2,366.9 128.8,367.1 129.4,367.3 130,367.5 131.5,367.9 133,368.3 134.5,368.6 136,368.9 137.5,369.2 139,369.5 140.5,369.8 142,370 143.5,370.3 145,370.5 146.5,370.7 148,370.9 149.5,371 151,371.2 152.5,371.3 154,371.3 155.5,371.4 157,371.5 158.5,371.5 160,371.6 161.5,371.6 163,371.7 164.5,371.8 166,371.9 167.5,372 169,372.2 170.5,372.3 172,372.5 173.5,372.8 175,373 176.5,373.3 178,373.6 179.5,373.9 181,374.3 182.5,374.6 184,374.9 185.5,375.3 187,375.6 188.5,376 190,376.3 191.5,376.7 193,377.1 194.5,377.4 196,377.8 197.5,378.1 199,378.4 200.5,378.7 202,379 203.5,379.3 205,379.7 206.5,380 208,380.3 209.5,380.6 211,380.8 212.5,381.1 214,381.4 215.5,381.7 217,381.9 218.5,382.2 220,382.4 221.5,382.6 223,382.8 224.5,383.1 226,383.3 227.5,383.5 229,383.7 230.5,383.8 232,384 233.5,384.2 235,384.4 236.5,384.5 238,384.7 239.5,384.8 239.6,384.8" fill="none" stroke="#16b4d6" stroke-width="1.35"/><path d="M31,227.3 65.2,227.3 65.8,227.8 66.4,232.1 67,236.1 67.6,239.9 68.2,243.5 68.8,246.9 69.4,250.1 70,253.3 70.6,256.6 71.2,260.1 71.8,263.9 72.4,267.7 73,271.4 73.6,275 74.2,278.4 74.8,281.3 75.4,283.9 76,286.4 76.6,288.7 77.2,291.1 77.8,293.4 78.4,295.8 79,298.1 79.6,300.3 80.2,302.5 80.8,304.6 81.4,306.6 82,308.4 82.6,310.1 83.2,311.8 83.8,313.3 84.4,314.9 85,316.3 85.6,317.8 86.2,319.2 86.8,320.6 87.4,322 88,323.4 88.6,324.8 89.2,326.2 89.8,327.5 90.4,328.8 91,330.1 91.6,331.4 92.2,332.6 92.8,333.8 93.4,335 94,336.2 94.6,337.3 95.2,338.5 95.8,339.6 96.4,340.8 97,341.9 97.6,343 98.2,344 98.8,345.1 99.4,346 100,346.9 100.6,347.7 101.2,348.5 101.8,349.3 102.4,350 103,350.7 103.6,351.4 104.2,352 104.8,352.6 105.4,353.2 106,353.8 106.6,354.4 107.2,354.9 107.8,355.4 108.4,356 109,356.5 109.6,357 110.2,357.5 110.8,357.9 111.4,358.4 112,358.8 112.6,359.3 113.2,359.7 113.8,360.1 114.4,360.5 115,360.9 115.6,361.3 116.2,361.7 116.8,362 117.4,362.3 118,362.7 118.6,363 119.2,363.3 119.8,363.5 120.4,363.8 121,364.1 121.6,364.3 122.2,364.6 122.8,364.8 123.4,365.1 124,365.3 124.6,365.5 125.2,365.7 125.8,366 126.4,366.2 127,366.4 127.6,366.6 128.2,366.8 128.8,367 129.4,367.2 130,367.4 131.5,367.8 133,368.2 134.5,368.6 136,368.9 137.5,369.2 139,369.5 140.5,369.8 142,370.1 143.5,370.3 145,370.5 146.5,370.7 148,370.9 149.5,371.1 151,371.2 152.5,371.3 154,371.4 155.5,371.4 157,371.5 158.5,371.5 160,371.6 161.5,371.6 163,371.7 164.5,371.8 166,371.8 167.5,372 169,372.1 170.5,372.2 172,372.4 173.5,372.7 175,372.9 176.5,373.2 178,373.5 179.5,373.9 181,374.2 182.5,374.5 184,374.8 185.5,375.2 187,375.5 188.5,375.9 190,376.2 191.5,376.6 193,377 194.5,377.3 196,377.7 197.5,378 199,378.4 200.5,378.7 202,379 203.5,379.3 205,379.6 206.5,379.9 208,380.2 209.5,380.5 211,380.8 212.5,381.1 214,381.4 215.5,381.7 217,382 218.5,382.2 220,382.4 221.5,382.6 223,382.9 224.5,383.1 226,383.3 227.5,383.5 229,383.7 230.5,383.9 232,384 233.5,384.2 235,384.4 236.5,384.5 238,384.7 239.5,384.8 239.6,384.8" fill="none" stroke="#8b7d3a" stroke-width="1.35"/><path d="M31,227.3 66.4,227.3 67,229.7 67.6,233.7 68.2,237.4 68.8,240.9 69.4,244.3 70,247.6 70.6,251 71.2,254.8 71.8,258.9 72.4,263 73,267.1 73.6,271 74.2,274.6 74.8,277.7 75.4,280.4 76,283 76.6,285.5 77.2,287.9 77.8,290.4 78.4,292.8 79,295.3 79.6,297.6 80.2,299.9 80.8,302.1 81.4,304.2 82,306.1 82.6,307.9 83.2,309.6 83.8,311.3 84.4,312.8 85,314.4 85.6,315.8 86.2,317.3 86.8,318.8 87.4,320.2 88,321.7 88.6,323.1 89.2,324.5 89.8,325.9 90.4,327.3 91,328.7 91.6,330 92.2,331.3 92.8,332.5 93.4,333.8 94,335 94.6,336.2 95.2,337.4 95.8,338.6 96.4,339.8 97,341 97.6,342.2 98.2,343.3 98.8,344.3 99.4,345.3 100,346.3 100.6,347.1 101.2,347.9 101.8,348.7 102.4,349.5 103,350.2 103.6,350.9 104.2,351.5 104.8,352.1 105.4,352.8 106,353.3 106.6,353.9 107.2,354.5 107.8,355 108.4,355.6 109,356.1 109.6,356.6 110.2,357.1 110.8,357.6 111.4,358.1 112,358.6 112.6,359 113.2,359.5 113.8,359.9 114.4,360.3 115,360.7 115.6,361.1 116.2,361.5 116.8,361.8 117.4,362.2 118,362.5 118.6,362.8 119.2,363.1 119.8,363.4 120.4,363.7 121,363.9 121.6,364.2 122.2,364.4 122.8,364.7 123.4,364.9 124,365.2 124.6,365.4 125.2,365.6 125.8,365.8 126.4,366 127,366.3 127.6,366.5 128.2,366.7 128.8,366.9 129.4,367.1 130,367.3 131.5,367.8 133,368.2 134.5,368.6 136,368.9 137.5,369.2 139,369.5 140.5,369.8 142,370.1 143.5,370.3 145,370.6 146.5,370.8 148,371 149.5,371.1 151,371.3 152.5,371.3 154,371.4 155.5,371.5 157,371.5 158.5,371.5 160,371.6 161.5,371.6 163,371.7 164.5,371.7 166,371.8 167.5,371.9 169,372 170.5,372.2 172,372.4 173.5,372.6 175,372.8 176.5,373.1 178,373.4 179.5,373.8 181,374.1 182.5,374.4 184,374.8 185.5,375.1 187,375.4 188.5,375.8 190,376.1 191.5,376.5 193,376.9 194.5,377.3 196,377.6 197.5,378 199,378.3 200.5,378.6 202,379 203.5,379.3 205,379.6 206.5,379.9 208,380.2 209.5,380.5 211,380.8 212.5,381.1 214,381.4 215.5,381.7 217,382 218.5,382.2 220,382.4 221.5,382.7 223,382.9 224.5,383.1 226,383.3 227.5,383.5 229,383.7 230.5,383.9 232,384 233.5,384.2 235,384.4 236.5,384.5 238,384.6 239.5,384.8 239.6,384.8" fill="none" stroke="#a0643a" stroke-width="1.35"/><path d="M31,227.3 67.6,227.3 68.2,230.9 68.8,234.6 69.4,238.2 70,241.6 70.6,245.3 71.2,249.3 71.8,253.7 72.4,258.1 73,262.6 73.6,266.8 74.2,270.6 74.8,273.9 75.4,276.8 76,279.5 76.6,282.1 77.2,284.7 77.8,287.3 78.4,289.8 79,292.4 79.6,294.9 80.2,297.3 80.8,299.6 81.4,301.8 82,303.8 82.6,305.7 83.2,307.4 83.8,309.1 84.4,310.8 85,312.3 85.6,313.9 86.2,315.4 86.8,316.9 87.4,318.4 88,319.9 88.6,321.4 89.2,322.8 89.8,324.3 90.4,325.7 91,327.2 91.6,328.5 92.2,329.9 92.8,331.2 93.4,332.5 94,333.8 94.6,335.1 95.2,336.3 95.8,337.6 96.4,338.9 97,340.1 97.6,341.3 98.2,342.5 98.8,343.6 99.4,344.7 100,345.6 100.6,346.5 101.2,347.4 101.8,348.2 102.4,348.9 103,349.6 103.6,350.3 104.2,351 104.8,351.7 105.4,352.3 106,352.9 106.6,353.5 107.2,354.1 107.8,354.6 108.4,355.2 109,355.7 109.6,356.3 110.2,356.8 110.8,357.3 111.4,357.8 112,358.3 112.6,358.7 113.2,359.2 113.8,359.6 114.4,360.1 115,360.5 115.6,360.9 116.2,361.3 116.8,361.6 117.4,362 118,362.3 118.6,362.6 119.2,362.9 119.8,363.2 120.4,363.5 121,363.8 121.6,364 122.2,364.3 122.8,364.5 123.4,364.8 124,365 124.6,365.3 125.2,365.5 125.8,365.7 126.4,365.9 127,366.1 127.6,366.4 128.2,366.6 128.8,366.8 129.4,367 130,367.2 131.5,367.7 133,368.2 134.5,368.6 136,368.9 137.5,369.2 139,369.5 140.5,369.8 142,370.1 143.5,370.4 145,370.6 146.5,370.8 148,371 149.5,371.2 151,371.3 152.5,371.4 154,371.4 155.5,371.5 157,371.5 158.5,371.5 160,371.6 161.5,371.6 163,371.6 164.5,371.7 166,371.7 167.5,371.8 169,371.9 170.5,372.1 172,372.3 173.5,372.5 175,372.8 176.5,373 178,373.3 179.5,373.7 181,374 182.5,374.3 184,374.7 185.5,375 187,375.3 188.5,375.7 190,376.1 191.5,376.4 193,376.8 194.5,377.2 196,377.6 197.5,377.9 199,378.3 200.5,378.6 202,378.9 203.5,379.2 205,379.6 206.5,379.9 208,380.2 209.5,380.5 211,380.8 212.5,381.1 214,381.4 215.5,381.7 217,382 218.5,382.2 220,382.5 221.5,382.7 223,382.9 224.5,383.1 226,383.3 227.5,383.5 229,383.7 230.5,383.9 232,384 233.5,384.2 235,384.4 236.5,384.5 238,384.6 239.5,384.8 239.6,384.8" fill="none" stroke="#7d8fa6" stroke-width="1.35"/><path d="M31,227.3 68.2,227.3 68.8,228.1 69.4,231.8 70,235.4 70.6,239.3 71.2,243.6 71.8,248.3 72.4,253.1 73,257.9 73.6,262.4 74.2,266.5 74.8,270 75.4,273.1 76,275.9 76.6,278.6 77.2,281.3 77.8,284 78.4,286.7 79,289.4 79.6,292 80.2,294.6 80.8,297 81.4,299.3 82,301.4 82.6,303.4 83.2,305.2 83.8,306.9 84.4,308.6 85,310.2 85.6,311.8 86.2,313.4 86.8,314.9 87.4,316.5 88,318 88.6,319.6 89.2,321.1 89.8,322.6 90.4,324.1 91,325.6 91.6,327.1 92.2,328.5 92.8,329.9 93.4,331.2 94,332.6 94.6,333.9 95.2,335.2 95.8,336.6 96.4,337.9 97,339.2 97.6,340.5 98.2,341.7 98.8,342.9 99.4,344 100,345 100.6,345.9 101.2,346.8 101.8,347.6 102.4,348.4 103,349.1 103.6,349.8 104.2,350.5 104.8,351.2 105.4,351.8 106,352.4 106.6,353 107.2,353.6 107.8,354.2 108.4,354.8 109,355.4 109.6,355.9 110.2,356.4 110.8,357 111.4,357.5 112,358 112.6,358.5 113.2,358.9 113.8,359.4 114.4,359.8 115,360.3 115.6,360.7 116.2,361.1 116.8,361.4 117.4,361.8 118,362.1 118.6,362.4 119.2,362.8 119.8,363.1 120.4,363.3 121,363.6 121.6,363.9 122.2,364.1 122.8,364.4 123.4,364.6 124,364.9 124.6,365.1 125.2,365.3 125.8,365.6 126.4,365.8 127,366 127.6,366.3 128.2,366.5 128.8,366.7 129.4,366.9 130,367.1 131.5,367.7 133,368.1 134.5,368.5 136,368.9 137.5,369.2 139,369.5 140.5,369.9 142,370.1 143.5,370.4 145,370.7 146.5,370.9 148,371.1 149.5,371.2 151,371.4 152.5,371.4 154,371.5 155.5,371.5 157,371.5 158.5,371.5 160,371.6 161.5,371.6 163,371.6 164.5,371.6 166,371.7 167.5,371.8 169,371.8 170.5,372 172,372.2 173.5,372.4 175,372.7 176.5,372.9 178,373.3 179.5,373.6 181,373.9 182.5,374.2 184,374.6 185.5,374.9 187,375.2 188.5,375.6 190,376 191.5,376.3 193,376.7 194.5,377.1 196,377.5 197.5,377.9 199,378.2 200.5,378.5 202,378.9 203.5,379.2 205,379.5 206.5,379.9 208,380.2 209.5,380.5 211,380.8 212.5,381.1 214,381.4 215.5,381.7 217,382 218.5,382.2 220,382.5 221.5,382.7 223,382.9 224.5,383.1 226,383.3 227.5,383.5 229,383.7 230.5,383.9 232,384 233.5,384.2 235,384.3 236.5,384.5 238,384.6 239.5,384.7 239.6,384.7" fill="none" stroke="#6f8f3a" stroke-width="1.35"/><path d="M31,227.3 69.4,227.3 70,228.9 70.6,233 71.2,237.7 71.8,242.7 72.4,247.9 73,253 73.6,257.9 74.2,262.3 74.8,266 75.4,269.2 76,272.2 76.6,275 77.2,277.8 77.8,280.7 78.4,283.5 79,286.3 79.6,289.1 80.2,291.8 80.8,294.3 81.4,296.7 82,298.9 82.6,301 83.2,302.9 83.8,304.7 84.4,306.4 85,308.1 85.6,309.7 86.2,311.3 86.8,312.9 87.4,314.5 88,316.1 88.6,317.8 89.2,319.4 89.8,320.9 90.4,322.5 91,324 91.6,325.5 92.2,327 92.8,328.5 93.4,329.9 94,331.3 94.6,332.7 95.2,334.1 95.8,335.5 96.4,336.9 97,338.3 97.6,339.6 98.2,340.9 98.8,342.1 99.4,343.3 100,344.3 100.6,345.3 101.2,346.2 101.8,347 102.4,347.8 103,348.6 103.6,349.3 104.2,350 104.8,350.7 105.4,351.3 106,352 106.6,352.6 107.2,353.2 107.8,353.8 108.4,354.4 109,355 109.6,355.5 110.2,356.1 110.8,356.6 111.4,357.2 112,357.7 112.6,358.2 113.2,358.7 113.8,359.2 114.4,359.6 115,360.1 115.6,360.5 116.2,360.9 116.8,361.3 117.4,361.6 118,361.9 118.6,362.3 119.2,362.6 119.8,362.9 120.4,363.2 121,363.5 121.6,363.7 122.2,364 122.8,364.2 123.4,364.5 124,364.7 124.6,365 125.2,365.2 125.8,365.5 126.4,365.7 127,365.9 127.6,366.2 128.2,366.4 128.8,366.6 129.4,366.8 130,367.1 131.5,367.6 133,368.1 134.5,368.5 136,368.9 137.5,369.2 139,369.5 140.5,369.9 142,370.2 143.5,370.5 145,370.7 146.5,370.9 148,371.1 149.5,371.3 151,371.4 152.5,371.5 154,371.5 155.5,371.5 157,371.6 158.5,371.6 160,371.6 161.5,371.6 163,371.6 164.5,371.6 166,371.6 167.5,371.7 169,371.8 170.5,371.9 172,372.1 173.5,372.3 175,372.6 176.5,372.8 178,373.2 179.5,373.5 181,373.8 182.5,374.1 184,374.5 185.5,374.8 187,375.1 188.5,375.5 190,375.9 191.5,376.3 193,376.7 194.5,377 196,377.4 197.5,377.8 199,378.2 200.5,378.5 202,378.8 203.5,379.2 205,379.5 206.5,379.8 208,380.2 209.5,380.5 211,380.8 212.5,381.2 214,381.5 215.5,381.7 217,382 218.5,382.3 220,382.5 221.5,382.7 223,382.9 224.5,383.1 226,383.3 227.5,383.5 229,383.7 230.5,383.9 232,384 233.5,384.2 235,384.3 236.5,384.5 238,384.6 239.5,384.7 239.6,384.7" fill="none" stroke="#d44aa6" stroke-width="1.35"/><path d="M31,227.3 70.6,227.3 71.2,231.4 71.8,236.8 72.4,242.4 73,247.9 73.6,253.2 74.2,257.9 74.8,261.8 75.4,265.2 76,268.3 76.6,271.3 77.2,274.2 77.8,277.2 78.4,280.2 79,283.2 79.6,286.1 80.2,288.9 80.8,291.6 81.4,294.1 82,296.4 82.6,298.5 83.2,300.5 83.8,302.4 84.4,304.1 85,305.9 85.6,307.6 86.2,309.2 86.8,310.9 87.4,312.5 88,314.2 88.6,315.9 89.2,317.6 89.8,319.2 90.4,320.8 91,322.4 91.6,324 92.2,325.5 92.8,327.1 93.4,328.5 94,330 94.6,331.5 95.2,333 95.8,334.5 96.4,335.9 97,337.4 97.6,338.8 98.2,340.1 98.8,341.4 99.4,342.6 100,343.7 100.6,344.6 101.2,345.5 101.8,346.4 102.4,347.2 103,348 103.6,348.8 104.2,349.5 104.8,350.2 105.4,350.9 106,351.5 106.6,352.1 107.2,352.8 107.8,353.4 108.4,354 109,354.6 109.6,355.2 110.2,355.7 110.8,356.3 111.4,356.9 112,357.4 112.6,357.9 113.2,358.4 113.8,358.9 114.4,359.4 115,359.8 115.6,360.3 116.2,360.7 116.8,361.1 117.4,361.4 118,361.8 118.6,362.1 119.2,362.4 119.8,362.7 120.4,363 121,363.3 121.6,363.6 122.2,363.8 122.8,364.1 123.4,364.4 124,364.6 124.6,364.8 125.2,365.1 125.8,365.3 126.4,365.6 127,365.8 127.6,366 128.2,366.3 128.8,366.5 129.4,366.8 130,367 131.5,367.6 133,368.1 134.5,368.5 136,368.9 137.5,369.2 139,369.6 140.5,369.9 142,370.2 143.5,370.5 145,370.8 146.5,371 148,371.2 149.5,371.3 151,371.5 152.5,371.5 154,371.6 155.5,371.6 157,371.6 158.5,371.6 160,371.5 161.5,371.5 163,371.5 164.5,371.5 166,371.6 167.5,371.6 169,371.7 170.5,371.8 172,372 173.5,372.2 175,372.5 176.5,372.8 178,373.1 179.5,373.4 181,373.7 182.5,374 184,374.4 185.5,374.7 187,375 188.5,375.4 190,375.8 191.5,376.2 193,376.6 194.5,377 196,377.4 197.5,377.7 199,378.1 200.5,378.4 202,378.8 203.5,379.1 205,379.5 206.5,379.8 208,380.2 209.5,380.5 211,380.8 212.5,381.2 214,381.5 215.5,381.8 217,382 218.5,382.3 220,382.5 221.5,382.7 223,382.9 224.5,383.1 226,383.3 227.5,383.5 229,383.7 230.5,383.9 232,384 233.5,384.2 235,384.3 236.5,384.5 238,384.6 239.5,384.7 239.6,384.7" fill="none" stroke="#c07a38" stroke-width="1.35"/><path d="M31,227.3 71.2,227.3 71.8,230.8 72.4,236.8 73,242.7 73.6,248.3 74.2,253.4 74.8,257.5 75.4,261.1 76,264.4 76.6,267.4 77.2,270.5 77.8,273.6 78.4,276.8 79,279.9 79.6,283 80.2,285.9 80.8,288.7 81.4,291.4 82,293.8 82.6,296 83.2,298 83.8,300 84.4,301.8 85,303.6 85.6,305.3 86.2,307 86.8,308.7 87.4,310.5 88,312.2 88.6,314 89.2,315.7 89.8,317.4 90.4,319.1 91,320.8 91.6,322.4 92.2,324 92.8,325.6 93.4,327.1 94,328.7 94.6,330.2 95.2,331.8 95.8,333.4 96.4,334.9 97,336.4 97.6,337.9 98.2,339.3 98.8,340.6 99.4,341.8 100,343 100.6,344 101.2,344.9 101.8,345.8 102.4,346.7 103,347.5 103.6,348.2 104.2,349 104.8,349.7 105.4,350.4 106,351 106.6,351.7 107.2,352.3 107.8,353 108.4,353.6 109,354.2 109.6,354.8 110.2,355.4 110.8,356 111.4,356.5 112,357.1 112.6,357.6 113.2,358.2 113.8,358.7 114.4,359.1 115,359.6 115.6,360 116.2,360.5 116.8,360.9 117.4,361.2 118,361.6 118.6,361.9 119.2,362.2 119.8,362.6 120.4,362.9 121,363.1 121.6,363.4 122.2,363.7 122.8,363.9 123.4,364.2 124,364.5 124.6,364.7 125.2,365 125.8,365.2 126.4,365.4 127,365.7 127.6,365.9 128.2,366.2 128.8,366.4 129.4,366.7 130,366.9 131.5,367.5 133,368 134.5,368.5 136,368.8 137.5,369.2 139,369.6 140.5,369.9 142,370.2 143.5,370.5 145,370.8 146.5,371 148,371.2 149.5,371.4 151,371.5 152.5,371.6 154,371.6 155.5,371.6 157,371.6 158.5,371.6 160,371.5 161.5,371.5 163,371.5 164.5,371.5 166,371.5 167.5,371.5 169,371.6 170.5,371.7 172,371.9 173.5,372.1 175,372.4 176.5,372.7 178,373 179.5,373.3 181,373.6 182.5,374 184,374.3 185.5,374.6 187,374.9 188.5,375.3 190,375.7 191.5,376.1 193,376.5 194.5,376.9 196,377.3 197.5,377.7 199,378 200.5,378.4 202,378.7 203.5,379.1 205,379.4 206.5,379.8 208,380.1 209.5,380.5 211,380.8 212.5,381.2 214,381.5 215.5,381.8 217,382 218.5,382.3 220,382.5 221.5,382.7 223,382.9 224.5,383.1 226,383.3 227.5,383.5 229,383.7 230.5,383.9 232,384 233.5,384.2 235,384.3 236.5,384.5 238,384.6 239.5,384.7 239.6,384.7" fill="none" stroke="#5a9a40" stroke-width="1.35"/><path d="M31,227.3 71.8,227.3 72.4,230.9 73,237.3 73.6,243.3 74.2,248.7 74.8,253.1 75.4,256.8 76,260.2 76.6,263.5 77.2,266.7 77.8,270 78.4,273.3 79,276.5 79.6,279.8 80.2,282.9 80.8,285.8 81.4,288.6 82,291.1 82.6,293.4 83.2,295.5 83.8,297.5 84.4,299.4 85,301.3 85.6,303.1 86.2,304.8 86.8,306.6 87.4,308.4 88,310.2 88.6,312 89.2,313.8 89.8,315.6 90.4,317.3 91,319.1 91.6,320.8 92.2,322.5 92.8,324.1 93.4,325.7 94,327.3 94.6,329 95.2,330.6 95.8,332.2 96.4,333.9 97,335.4 97.6,337 98.2,338.4 98.8,339.8 99.4,341.1 100,342.3 100.6,343.3 101.2,344.3 101.8,345.2 102.4,346.1 103,346.9 103.6,347.7 104.2,348.4 104.8,349.2 105.4,349.9 106,350.5 106.6,351.2 107.2,351.9 107.8,352.5 108.4,353.2 109,353.8 109.6,354.4 110.2,355 110.8,355.6 111.4,356.2 112,356.8 112.6,357.3 113.2,357.9 113.8,358.4 114.4,358.9 115,359.4 115.6,359.8 116.2,360.3 116.8,360.7 117.4,361 118,361.4 118.6,361.7 119.2,362.1 119.8,362.4 120.4,362.7 121,363 121.6,363.3 122.2,363.5 122.8,363.8 123.4,364.1 124,364.3 124.6,364.6 125.2,364.8 125.8,365.1 126.4,365.3 127,365.6 127.6,365.8 128.2,366.1 128.8,366.3 129.4,366.6 130,366.8 131.5,367.4 133,368 134.5,368.4 136,368.8 137.5,369.2 139,369.6 140.5,369.9 142,370.2 143.5,370.6 145,370.8 146.5,371.1 148,371.3 149.5,371.5 151,371.6 152.5,371.6 154,371.6 155.5,371.6 157,371.6 158.5,371.6 160,371.5 161.5,371.5 163,371.5 164.5,371.5 166,371.5 167.5,371.5 169,371.5 170.5,371.7 172,371.8 173.5,372 175,372.3 176.5,372.6 178,372.9 179.5,373.2 181,373.5 182.5,373.9 184,374.2 185.5,374.5 187,374.8 188.5,375.2 190,375.6 191.5,376 193,376.4 194.5,376.8 196,377.2 197.5,377.6 199,378 200.5,378.3 202,378.7 203.5,379 205,379.4 206.5,379.8 208,380.1 209.5,380.5 211,380.8 212.5,381.2 214,381.5 215.5,381.8 217,382.1 218.5,382.3 220,382.5 221.5,382.7 223,383 224.5,383.2 226,383.4 227.5,383.5 229,383.7 230.5,383.9 232,384.1 233.5,384.2 235,384.3 236.5,384.5 238,384.6 239.5,384.7 239.6,384.7" fill="none" stroke="#2e9e48" stroke-width="1.35"/><path d="M31,227.3 72.4,227.3 73,231.6 73.6,238.1 74.2,243.8 74.8,248.5 75.4,252.4 76,256 76.6,259.3 77.2,262.7 77.8,266.1 78.4,269.6 79,273.1 79.6,276.4 80.2,279.7 80.8,282.8 81.4,285.7 82,288.3 82.6,290.7 83.2,292.9 83.8,295 84.4,297 85,298.9 85.6,300.7 86.2,302.5 86.8,304.3 87.4,306.2 88,308.1 88.6,309.9 89.2,311.8 89.8,313.7 90.4,315.5 91,317.3 91.6,319.1 92.2,320.9 92.8,322.6 93.4,324.3 94,325.9 94.6,327.6 95.2,329.4 95.8,331.1 96.4,332.8 97,334.4 97.6,336.1 98.2,337.6 98.8,339 99.4,340.4 100,341.6 100.6,342.6 101.2,343.6 101.8,344.6 102.4,345.5 103,346.3 103.6,347.1 104.2,347.9 104.8,348.6 105.4,349.4 106,350.1 106.6,350.7 107.2,351.4 107.8,352.1 108.4,352.7 109,353.4 109.6,354 110.2,354.7 110.8,355.3 111.4,355.9 112,356.5 112.6,357.1 113.2,357.6 113.8,358.1 114.4,358.7 115,359.2 115.6,359.6 116.2,360.1 116.8,360.5 117.4,360.8 118,361.2 118.6,361.6 119.2,361.9 119.8,362.2 120.4,362.5 121,362.8 121.6,363.1 122.2,363.4 122.8,363.6 123.4,363.9 124,364.2 124.6,364.4 125.2,364.7 125.8,364.9 126.4,365.2 127,365.5 127.6,365.7 128.2,366 128.8,366.2 129.4,366.5 130,366.8 131.5,367.4 133,367.9 134.5,368.4 136,368.8 137.5,369.2 139,369.6 140.5,369.9 142,370.3 143.5,370.6 145,370.9 146.5,371.1 148,371.3 149.5,371.5 151,371.6 152.5,371.7 154,371.7 155.5,371.7 157,371.6 158.5,371.6 160,371.5 161.5,371.5 163,371.4 164.5,371.4 166,371.4 167.5,371.4 169,371.5 170.5,371.6 172,371.7 173.5,371.9 175,372.2 176.5,372.5 178,372.8 179.5,373.1 181,373.4 182.5,373.8 184,374.1 185.5,374.4 187,374.7 188.5,375.1 190,375.5 191.5,375.9 193,376.3 194.5,376.7 196,377.1 197.5,377.5 199,377.9 200.5,378.3 202,378.6 203.5,379 205,379.4 206.5,379.7 208,380.1 209.5,380.5 211,380.8 212.5,381.2 214,381.5 215.5,381.8 217,382.1 218.5,382.3 220,382.6 221.5,382.8 223,383 224.5,383.2 226,383.4 227.5,383.6 229,383.7 230.5,383.9 232,384.1 233.5,384.2 235,384.3 236.5,384.4 238,384.6 239.5,384.6 239.6,384.6" fill="none" stroke="#e2336e" stroke-width="1.35"/><path d="M31,227.3 73,227.3 73.6,232.7 74.2,238.8 74.8,243.7 75.4,247.9 76,251.6 76.6,255.1 77.2,258.6 77.8,262.2 78.4,265.9 79,269.5 79.6,273 80.2,276.5 80.8,279.7 81.4,282.7 82,285.5 82.6,288 83.2,290.3 83.8,292.4 84.4,294.4 85,296.4 85.6,298.3 86.2,300.2 86.8,302 87.4,304 88,305.9 88.6,307.9 89.2,309.8 89.8,311.7 90.4,313.6 91,315.5 91.6,317.4 92.2,319.2 92.8,321 93.4,322.8 94,324.5 94.6,326.3 95.2,328.1 95.8,329.9 96.4,331.7 97,333.4 97.6,335.1 98.2,336.7 98.8,338.2 99.4,339.6 100,340.9 100.6,342 101.2,343 101.8,344 102.4,344.9 103,345.7 103.6,346.6 104.2,347.4 104.8,348.1 105.4,348.8 106,349.6 106.6,350.3 107.2,350.9 107.8,351.6 108.4,352.3 109,353 109.6,353.6 110.2,354.3 110.8,354.9 111.4,355.6 112,356.2 112.6,356.8 113.2,357.3 113.8,357.9 114.4,358.4 115,358.9 115.6,359.4 116.2,359.8 116.8,360.3 117.4,360.7 118,361 118.6,361.4 119.2,361.7 119.8,362 120.4,362.4 121,362.7 121.6,362.9 122.2,363.2 122.8,363.5 123.4,363.8 124,364 124.6,364.3 125.2,364.5 125.8,364.8 126.4,365.1 127,365.3 127.6,365.6 128.2,365.9 128.8,366.1 129.4,366.4 130,366.7 131.5,367.3 133,367.9 134.5,368.4 136,368.8 137.5,369.2 139,369.6 140.5,369.9 142,370.3 143.5,370.6 145,370.9 146.5,371.2 148,371.4 149.5,371.6 151,371.7 152.5,371.7 154,371.7 155.5,371.7 157,371.6 158.5,371.6 160,371.5 161.5,371.5 163,371.4 164.5,371.4 166,371.3 167.5,371.3 169,371.4 170.5,371.5 172,371.6 173.5,371.8 175,372.1 176.5,372.4 178,372.7 179.5,373 181,373.3 182.5,373.7 184,374 185.5,374.3 187,374.6 188.5,375 190,375.4 191.5,375.8 193,376.2 194.5,376.7 196,377.1 197.5,377.5 199,377.9 200.5,378.2 202,378.6 203.5,379 205,379.3 206.5,379.7 208,380.1 209.5,380.5 211,380.8 212.5,381.2 214,381.5 215.5,381.8 217,382.1 218.5,382.3 220,382.6 221.5,382.8 223,383 224.5,383.2 226,383.4 227.5,383.6 229,383.7 230.5,383.9 232,384.1 233.5,384.2 235,384.3 236.5,384.4 238,384.5 239.5,384.6 239.6,384.6" fill="none" stroke="#ee7d22" stroke-width="1.35"/><path d="M31,227.3 73.6,227.3 74.2,233.6 74.8,238.8 75.4,243.1 76,247 76.6,250.7 77.2,254.4 77.8,258.2 78.4,262 79,265.8 79.6,269.5 80.2,273.1 80.8,276.5 81.4,279.7 82,282.6 82.6,285.1 83.2,287.5 83.8,289.7 84.4,291.8 85,293.9 85.6,295.8 86.2,297.7 86.8,299.7 87.4,301.7 88,303.7 88.6,305.7 89.2,307.7 89.8,309.7 90.4,311.7 91,313.7 91.6,315.6 92.2,317.5 92.8,319.4 93.4,321.2 94,323.1 94.6,324.9 95.2,326.8 95.8,328.7 96.4,330.6 97,332.4 97.6,334.2 98.2,335.8 98.8,337.4 99.4,338.8 100,340.1 100.6,341.3 101.2,342.3 101.8,343.3 102.4,344.3 103,345.2 103.6,346 104.2,346.8 104.8,347.6 105.4,348.3 106,349.1 106.6,349.8 107.2,350.5 107.8,351.2 108.4,351.9 109,352.6 109.6,353.3 110.2,353.9 110.8,354.6 111.4,355.2 112,355.9 112.6,356.5 113.2,357.1 113.8,357.6 114.4,358.2 115,358.7 115.6,359.2 116.2,359.6 116.8,360.1 117.4,360.5 118,360.8 118.6,361.2 119.2,361.5 119.8,361.9 120.4,362.2 121,362.5 121.6,362.8 122.2,363.1 122.8,363.3 123.4,363.6 124,363.9 124.6,364.1 125.2,364.4 125.8,364.7 126.4,364.9 127,365.2 127.6,365.5 128.2,365.8 128.8,366 129.4,366.3 130,366.6 131.5,367.3 133,367.9 134.5,368.4 136,368.8 137.5,369.2 139,369.6 140.5,370 142,370.3 143.5,370.7 145,371 146.5,371.2 148,371.4 149.5,371.6 151,371.7 152.5,371.8 154,371.7 155.5,371.7 157,371.7 158.5,371.6 160,371.5 161.5,371.4 163,371.4 164.5,371.3 166,371.3 167.5,371.3 169,371.3 170.5,371.4 172,371.5 173.5,371.7 175,372 176.5,372.3 178,372.6 179.5,372.9 181,373.2 182.5,373.6 184,373.9 185.5,374.2 187,374.5 188.5,374.9 190,375.3 191.5,375.7 193,376.1 194.5,376.6 196,377 197.5,377.4 199,377.8 200.5,378.2 202,378.6 203.5,378.9 205,379.3 206.5,379.7 208,380.1 209.5,380.5 211,380.8 212.5,381.2 214,381.5 215.5,381.8 217,382.1 218.5,382.4 220,382.6 221.5,382.8 223,383 224.5,383.2 226,383.4 227.5,383.6 229,383.7 230.5,383.9 232,384.1 233.5,384.2 235,384.3 236.5,384.4 238,384.5 239.5,384.6 239.6,384.6" fill="none" stroke="#4a4ac4" stroke-width="1.35"/><path d="M31,227.3 73.6,227.3 74.2,228.2 74.8,233.7 75.4,238.3 76,242.3 76.6,246.2 77.2,250 77.8,254 78.4,258 79,262 79.6,265.9 80.2,269.7 80.8,273.2 81.4,276.5 82,279.5 82.6,282.2 83.2,284.7 83.8,287 84.4,289.2 85,291.3 85.6,293.3 86.2,295.3 86.8,297.3 87.4,299.3 88,301.4 88.6,303.5 89.2,305.6 89.8,307.7 90.4,309.7 91,311.8 91.6,313.8 92.2,315.8 92.8,317.8 93.4,319.7 94,321.6 94.6,323.5 95.2,325.5 95.8,327.5 96.4,329.4 97,331.3 97.6,333.2 98.2,334.9 98.8,336.6 99.4,338.1 100,339.4 100.6,340.6 101.2,341.7 101.8,342.7 102.4,343.7 103,344.6 103.6,345.4 104.2,346.2 104.8,347 105.4,347.8 106,348.5 106.6,349.3 107.2,350 107.8,350.7 108.4,351.4 109,352.2 109.6,352.9 110.2,353.6 110.8,354.2 111.4,354.9 112,355.5 112.6,356.2 113.2,356.8 113.8,357.4 114.4,357.9 115,358.5 115.6,359 116.2,359.4 116.8,359.9 117.4,360.3 118,360.7 118.6,361 119.2,361.4 119.8,361.7 120.4,362 121,362.3 121.6,362.6 122.2,362.9 122.8,363.2 123.4,363.5 124,363.7 124.6,364 125.2,364.3 125.8,364.5 126.4,364.8 127,365.1 127.6,365.4 128.2,365.7 128.8,366 129.4,366.2 130,366.5 131.5,367.2 133,367.8 134.5,368.4 136,368.8 137.5,369.2 139,369.6 140.5,370 142,370.4 143.5,370.7 145,371 146.5,371.3 148,371.5 149.5,371.7 151,371.8 152.5,371.8 154,371.8 155.5,371.7 157,371.7 158.5,371.6 160,371.5 161.5,371.4 163,371.3 164.5,371.3 166,371.2 167.5,371.2 169,371.2 170.5,371.3 172,371.4 173.5,371.6 175,371.9 176.5,372.2 178,372.5 179.5,372.8 181,373.1 182.5,373.5 184,373.8 185.5,374.1 187,374.4 188.5,374.8 190,375.2 191.5,375.6 193,376.1 194.5,376.5 196,376.9 197.5,377.3 199,377.7 200.5,378.1 202,378.5 203.5,378.9 205,379.3 206.5,379.7 208,380.1 209.5,380.4 211,380.8 212.5,381.2 214,381.5 215.5,381.8 217,382.1 218.5,382.4 220,382.6 221.5,382.8 223,383 224.5,383.2 226,383.4 227.5,383.6 229,383.8 230.5,383.9 232,384.1 233.5,384.2 235,384.3 236.5,384.4 238,384.5 239.5,384.6 239.6,384.6" fill="none" stroke="#19bcd8" stroke-width="1.35"/></g>
<line x1="57.7" y1="237.6" x2="57.7" y2="388" stroke="#333" stroke-width="1.1" stroke-dasharray="3.2 2.6"/>
<line x1="120.5" y1="358.8" x2="120.5" y2="388" stroke="#222" stroke-width="1.1" stroke-dasharray="3.2 2.6"/>
<line x1="171.6" y1="360" x2="171.6" y2="388" stroke="#222" stroke-width="1.1" stroke-dasharray="3.2 2.6"/>
<line x1="96.8" y1="385" x2="96.8" y2="301" stroke="#222" stroke-width="0.9"/><path d="M96.8,297.8 L98.3,302.5 L95.3,302.5 Z" fill="#222"/>
<rect x="30.6" y="232.3" width="208.9" height="156.2" fill="none" stroke="#111" stroke-width="1.5"/>
<line x1="57.4" y1="388.5" x2="57.4" y2="391.7" stroke="#111" stroke-width="1.1"/>
<line x1="103.07" y1="388.5" x2="103.07" y2="390.5" stroke="#111" stroke-width="1.1"/>
<line x1="148.75" y1="388.5" x2="148.75" y2="391.7" stroke="#111" stroke-width="1.1"/>
<line x1="194.43" y1="388.5" x2="194.43" y2="390.5" stroke="#111" stroke-width="1.1"/>
<line x1="240.1" y1="388.5" x2="240.1" y2="391.7" stroke="#111" stroke-width="1.1"/>
<text x="57.8" y="408" font-family='"Liberation Sans", sans-serif' font-size="14.3" font-weight="bold" fill="#111" text-anchor="middle" >300</text>
<text x="149.15" y="408" font-family='"Liberation Sans", sans-serif' font-size="14.3" font-weight="bold" fill="#111" text-anchor="middle" >400</text>
<text x="240.5" y="408" font-family='"Liberation Sans", sans-serif' font-size="14.3" font-weight="bold" fill="#111" text-anchor="middle" >500</text>
<text x="138.2" y="425.8" font-family='"Liberation Sans", sans-serif' font-size="14.9" font-weight="bold" fill="#111" text-anchor="middle" >Wavelength (nm)</text>
<text x="0" y="0" font-family='"Liberation Sans", sans-serif' font-size="15" font-weight="bold" fill="#111" text-anchor="middle" transform="translate(15.2,308.5) rotate(-90)">Abs. (a.u.)</text>
<text x="85.2" y="264.9" font-family='"Liberation Sans", sans-serif' font-size="10.8" font-weight="bold" fill="#111" text-anchor="start" >300 nm</text>
<text x="101" y="309.8" font-family='"Liberation Sans", sans-serif' font-size="10.7" font-weight="bold" fill="#111" text-anchor="start" >1 ~ 60 min</text>
<text x="116.2" y="350" font-family='"Liberation Sans", sans-serif' font-size="10.7" font-weight="bold" fill="#111" text-anchor="start" >370 nm</text>
<text x="170.4" y="352" font-family='"Liberation Sans", sans-serif' font-size="10.7" font-weight="bold" fill="#111" text-anchor="start" >420 nm</text>
<text x="166.6" y="277" font-family='"Liberation Sans", sans-serif' font-size="10.5" font-weight="bold" fill="#111" text-anchor="start" >S<tspan font-size="7.2" dy="3">2</tspan><tspan font-size="7.2" dy="-8.4">2-</tspan><tspan dy="5.4"> ~ S</tspan><tspan font-size="7.2" dy="3">4</tspan><tspan font-size="7.2" dy="-8.4">2-</tspan></text>
<text x="126.4" y="453.5" font-family='"Liberation Serif", serif' font-size="14.3" font-weight="normal" fill="#111" text-anchor="middle" >(<tspan font-weight="bold">c</tspan>)</text>
<path d="M309.74,342.25 L309.95,342.2 L310.16,342.18 L310.37,342.12 L310.57,342.2 L310.78,342.13 L310.99,342.49 L311.2,342.31 L311.41,342.12 L311.62,342.24 L311.83,342.14 L312.03,342.45 L312.24,342.31 L312.45,342.4 L312.66,342.28 L312.87,342.27 L313.08,342.49 L313.28,342.41 L313.49,342.39 L313.7,342.13 L313.91,342.19 L314.12,342.44 L314.33,342.18 L314.54,342.44 L314.74,342.25 L314.95,342.45 L315.16,342.5 L315.37,342.15 L315.58,342.42 L315.79,342.41 L316,342.11 L316.2,342.15 L316.41,342.38 L316.62,342.12 L316.83,342.28 L317.04,342.23 L317.25,342.42 L317.45,342.12 L317.66,342.22 L317.87,342.11 L318.08,342.14 L318.29,342.38 L318.5,342.36 L318.71,342.43 L318.91,342.44 L319.12,342.47 L319.33,342.38 L319.54,342.26 L319.75,342.5 L319.96,342.23 L320.17,342.36 L320.37,342.38 L320.58,342.17 L320.79,342.31 L321,342.37 L321.21,342.31 L321.42,342.22 L321.62,342.48 L321.83,342.11 L322.04,342.49 L322.25,342.2 L322.46,342.16 L322.67,342.49 L322.88,342.18 L323.08,342.35 L323.29,342.27 L323.5,342.5 L323.71,342.48 L323.92,342.43 L324.13,342.12 L324.34,342.42 L324.54,342.2 L324.75,342.13 L324.96,342.12 L325.17,342.36 L325.38,342.36 L325.59,342.29 L325.79,342.19 L326,342.46 L326.21,342.2 L326.42,342.18 L326.63,342.16 L326.84,342.49 L327.05,342.12 L327.25,342.46 L327.46,342.36 L327.67,342.26 L327.88,342.13 L328.09,342.36 L328.3,342.13 L328.51,342.28 L328.71,342.38 L328.92,342.37 L329.13,342.43 L329.34,342.47 L329.55,342.44 L329.76,342.22 L329.96,342.1 L330.17,342.44 L330.38,342.48 L330.59,342.11 L330.8,342.29 L331.01,342.34 L331.22,342.41 L331.42,342.26 L331.63,342.17 L331.84,342.32 L332.05,342.33 L332.26,342.48 L332.47,342.13 L332.68,342.49 L332.88,342.3 L333.09,342.16 L333.3,342.45 L333.51,342.21 L333.72,342.12 L333.93,342.25 L334.13,342.18 L334.34,342.46 L334.55,342.33 L334.76,342.44 L334.97,342.16 L335.18,342.38 L335.39,342.32 L335.59,342.1 L335.8,342.16 L336.01,342.1 L336.22,342.31 L336.43,342.28 L336.64,342.16 L336.85,342.23 L337.05,342.25 L337.26,342.13 L337.47,342.12 L337.68,341.87 L337.89,341.43 L338.1,341.2 L338.3,341.05 L338.51,340.8 L338.72,340.56 L338.93,340.38 L339.14,340.09 L339.35,339.74 L339.56,339.65 L339.76,339.91 L339.97,339.85 L340.18,340 L340.39,340.22 L340.6,340.44 L340.81,340.62 L341.02,341 L341.22,341.07 L341.43,341.43 L341.64,341.52 L341.85,341.55 L342.06,341.69 L342.27,341.95 L342.47,341.76 L342.68,341.93 L342.89,342 L343.1,342.26 L343.31,342.07 L343.52,342.21 L343.73,342.06 L343.93,342.15 L344.14,342.02 L344.35,342.1 L344.56,342.05 L344.77,342.24 L344.98,342.12 L345.19,342.09 L345.39,342.06 L345.6,342.26 L345.81,342.07 L346.02,342.06 L346.23,342.14 L346.44,342.03 L346.64,342.04 L346.85,342.22 L347.06,342.22 L347.27,342.37 L347.48,342.1 L347.69,342.07 L347.9,342.25 L348.1,342.17 L348.31,342.16 L348.52,342.16 L348.73,342.38 L348.94,342.12 L349.15,342.19 L349.36,342.13 L349.56,342.2 L349.77,342.06 L349.98,341.93 L350.19,341.89 L350.4,341.74 L350.61,341.89 L350.81,341.69 L351.02,341.43 L351.23,341.22 L351.44,341.29 L351.65,341.03 L351.86,341.03 L352.07,341.29 L352.27,341.17 L352.48,341.34 L352.69,341.5 L352.9,341.57 L353.11,341.6 L353.32,341.76 L353.53,341.86 L353.73,342.02 L353.94,341.92 L354.15,342.03 L354.36,341.99 L354.57,342.05 L354.78,342.22 L354.98,341.98 L355.19,342.37 L355.4,342.22 L355.61,342.28 L355.82,342.24 L356.03,342.36 L356.24,342.08 L356.44,342.27 L356.65,342.41 L356.86,342.18 L357.07,342.39 L357.28,342.2 L357.49,342.27 L357.7,342.16 L357.9,341.98 L358.11,341.99 L358.32,342.09 L358.53,341.86 L358.74,341.83 L358.95,341.83 L359.15,341.81 L359.36,341.51 L359.57,341.41 L359.78,341.16 L359.99,341.1 L360.2,341.23 L360.41,341.35 L360.61,341.18 L360.82,341.6 L361.03,341.63 L361.24,341.53 L361.45,341.6 L361.66,341.88 L361.87,341.77 L362.07,341.74 L362.28,342.02 L362.49,342.05 L362.7,342.18 L362.91,342.2 L363.12,341.95 L363.32,342.21 L363.53,342 L363.74,342.03 L363.95,342.17 L364.16,342.31 L364.37,342.03 L364.58,342.23 L364.78,342.27 L364.99,342.31 L365.2,342.05 L365.41,342.25 L365.62,342.33 L365.83,342.26 L366.04,342.4 L366.24,342.21 L366.45,342.28 L366.66,342.34 L366.87,342.15 L367.08,342.13 L367.29,342.46 L367.49,342.25 L367.7,342.36 L367.91,342.1 L368.12,342.16 L368.33,342.38 L368.54,342.37 L368.75,342.41 L368.95,342.08 L369.16,342.36 L369.37,342.24 L369.58,342.29 L369.79,342.22 L370,342.24 L370.21,342.19 L370.41,342.44 L370.62,342.18 L370.83,342.37 L371.04,342.27 L371.25,342.35 L371.46,342.37 L371.66,342.28 L371.87,342.3 L372.08,342.35 L372.29,342.19 L372.5,342.25 L372.71,342.48 L372.92,342.39 L373.12,342.3 L373.33,342.11 L373.54,342.1 L373.75,342.19 L373.96,342.32 L374.17,341.87 L374.38,341.75 L374.58,341.27 L374.79,340.56 L375,339.6 L375.21,338.25 L375.42,336.16 L375.63,333.89 L375.83,330.86 L376.04,327.19 L376.25,323.69 L376.46,319.87 L376.67,316.2 L376.88,313.72 L377.09,311.59 L377.29,311.02 L377.5,311.8 L377.71,313.18 L377.92,314.87 L378.13,317.14 L378.34,320.06 L378.55,322.67 L378.75,325.38 L378.96,328.01 L379.17,330.45 L379.38,332.6 L379.59,334.2 L379.8,335.57 L380,337.03 L380.21,337.88 L380.42,338.35 L380.63,338.9 L380.84,339.35 L381.05,339.91 L381.26,339.87 L381.46,339.95 L381.67,340.1 L381.88,340.34 L382.09,340.71 L382.3,340.48 L382.51,340.8 L382.72,340.69 L382.92,340.6 L383.13,340.7 L383.34,340.91 L383.55,340.8 L383.76,340.47 L383.97,340.67 L384.17,340.36 L384.38,340.31 L384.59,340.29 L384.8,340.02 L385.01,340.21 L385.22,340.2 L385.43,340.17 L385.63,340.39 L385.84,340.52 L386.05,340.46 L386.26,340.55 L386.47,340.66 L386.68,341.12 L386.89,341.16 L387.09,341.34 L387.3,341.35 L387.51,341.51 L387.72,341.42 L387.93,341.72 L388.14,341.91 L388.34,341.71 L388.55,341.97 L388.76,341.81 L388.97,341.9 L389.18,341.76 L389.39,341.93 L389.6,341.92 L389.8,342.08 L390.01,341.98 L390.22,342.12 L390.43,341.94 L390.64,342.04 L390.85,342.21 L391.06,342.18 L391.26,342.14 L391.47,342.01 L391.68,342.24 L391.89,342.04 L392.1,342.07 L392.31,342.31 L392.51,342.08 L392.72,342.32 L392.93,342.31 L393.14,342.13 L393.35,342.28 L393.56,342.03 L393.77,342.2 L393.97,342.27 L394.18,342.08 L394.39,342.4 L394.6,342.12 L394.81,342.4 L395.02,342.36 L395.23,342.05 L395.43,342.16 L395.64,342.34 L395.85,342.39 L396.06,342.05 L396.27,342.17 L396.48,342.09 L396.68,342.34 L396.89,342.08 L397.1,342.06 L397.31,341.87 L397.52,341.39 L397.73,340.53 L397.94,339.4 L398.14,337.44 L398.35,334.63 L398.56,330.18 L398.77,324.6 L398.98,317.23 L399.19,308.46 L399.4,298.01 L399.6,287.04 L399.81,275.87 L400.02,265.69 L400.23,257.4 L400.44,252.18 L400.65,250.44 L400.85,252.48 L401.06,256.3 L401.27,261.91 L401.48,268.42 L401.69,276.29 L401.9,284.28 L402.11,292.66 L402.31,300.15 L402.52,306.99 L402.73,313.24 L402.94,318.54 L403.15,322.83 L403.36,326.42 L403.57,329.09 L403.77,331.16 L403.98,332.65 L404.19,333.83 L404.4,334.54 L404.61,335.53 L404.82,336.03 L405.02,336.47 L405.23,336.88 L405.44,337.14 L405.65,337.42 L405.86,337.53 L406.07,337.88 L406.28,337.63 L406.48,337.92 L406.69,337.71 L406.9,337.79 L407.11,337.74 L407.32,337.76 L407.53,337.51 L407.74,337.82 L407.94,337.64 L408.15,337.89 L408.36,337.92 L408.57,338.11 L408.78,338.57 L408.99,338.82 L409.19,339.17 L409.4,339.36 L409.61,339.7 L409.82,339.83 L410.03,339.83 L410.24,340.29 L410.45,340.51 L410.65,340.61 L410.86,340.83 L411.07,340.77 L411.28,340.88 L411.49,341.2 L411.7,341.25 L411.91,341.15 L412.11,341.11 L412.32,341.28 L412.53,341.42 L412.74,341.24 L412.95,341.65 L413.16,341.63 L413.36,341.29 L413.57,341.31 L413.78,341.18 L413.99,340.49 L414.2,339.48 L414.41,338.33 L414.62,336.38 L414.82,333.59 L415.03,329.66 L415.24,324.23 L415.45,318.16 L415.66,310.8 L415.87,303.38 L416.08,295.52 L416.28,288.47 L416.49,282.58 L416.7,278.98 L416.91,277.62 L417.12,278.98 L417.33,281.76 L417.53,285.77 L417.74,290.58 L417.95,295.62 L418.16,301.63 L418.37,307.17 L418.58,312.61 L418.79,317.48 L418.99,321.98 L419.2,325.55 L419.41,328.66 L419.62,330.91 L419.83,332.65 L420.04,334.24 L420.25,335.24 L420.45,336.33 L420.66,337.04 L420.87,337.3 L421.08,337.68 L421.29,337.92 L421.5,338.19 L421.7,338.22 L421.91,338.24 L422.12,338.16 L422.33,338.34 L422.54,338.18 L422.75,337.89 L422.96,337.97 L423.16,337.88 L423.37,337.72 L423.58,337.79 L423.79,337.58 L424,337.73 L424.21,338.15 L424.42,338.48 L424.62,338.78 L424.83,339.01 L425.04,339.38 L425.25,339.55 L425.46,339.77 L425.67,340.17 L425.87,340.48 L426.08,340.43 L426.29,340.87 L426.5,340.96 L426.71,341.05 L426.92,341.12 L427.13,341.31 L427.33,341.25 L427.54,341.32 L427.75,341.14 L427.96,341.15 L428.17,340.86 L428.38,340.66 L428.59,340.12 L428.79,339.42 L429,338.36 L429.21,336.68 L429.42,334.75 L429.63,332.19 L429.84,329.46 L430.04,326.42 L430.25,323.53 L430.46,320.51 L430.67,318.43 L430.88,317.07 L431.09,316.59 L431.3,317.12 L431.5,318.17 L431.71,319.54 L431.92,321.58 L432.13,323.76 L432.34,325.67 L432.55,327.89 L432.76,330.09 L432.96,331.83 L433.17,333.28 L433.38,334.37 L433.59,335.07 L433.8,335.69 L434.01,336.31 L434.21,336.82 L434.42,337.04 L434.63,337.35 L434.84,337.67 L435.05,338.09 L435.26,338.15 L435.47,338.34 L435.67,338.65 L435.88,339.14 L436.09,339.15 L436.3,339.4 L436.51,339.2 L436.72,339.23 L436.93,338.85 L437.13,338.64 L437.34,338.58 L437.55,338.14 L437.76,337.56 L437.97,337.47 L438.18,337.31 L438.38,337.25 L438.59,337.21 L438.8,337.25 L439.01,337.54 L439.22,337.45 L439.43,337.62 L439.64,337.72 L439.84,337.18 L440.05,336.94 L440.26,336.53 L440.47,335.49 L440.68,335.15 L440.89,334.25 L441.1,333.72 L441.3,333.2 L441.51,333.27 L441.72,333.48 L441.93,333.65 L442.14,333.88 L442.35,333.87 L442.55,333.94 L442.76,333.54 L442.97,333.21 L443.18,332.31 L443.39,331.2 L443.6,329.54 L443.81,328.14 L444.01,326.76 L444.22,325.74 L444.43,325.15 L444.64,325.13 L444.85,325.36 L445.06,326.29 L445.27,327.53 L445.47,328.74 L445.68,330.17 L445.89,331.37 L446.1,332.73 L446.31,334.36 L446.52,335.33 L446.72,336.55 L446.93,337.24 L447.14,337.78 L447.35,338.29 L447.56,338.44 L447.77,338.66 L447.98,338.71 L448.18,338.31 L448.39,338.04 L448.6,337.96 L448.81,337.68 L449.02,337.6 L449.23,337.73 L449.44,337.76 L449.64,337.95 L449.85,338.19 L450.06,338.42 L450.27,338.88 L450.48,339.01 L450.69,339.43 L450.89,339.73 L451.1,340.13 L451.31,340.41 L451.52,340.7 L451.73,340.8 L451.94,341.14 L452.15,341.18 L452.35,341.26 L452.56,341.41 L452.77,341.57 L452.98,341.7 L453.19,341.74 L453.4,341.65 L453.61,341.56 L453.81,341.47 L454.02,341.44 L454.23,341.52 L454.44,341.16 L454.65,341.27 L454.86,340.92 L455.06,340.98 L455.27,340.51 L455.48,340.37 L455.69,340.11 L455.9,340.05 L456.11,340.11 L456.32,340.11 L456.52,340.24 L456.73,340.42 L456.94,340.73 L457.15,340.77 L457.36,340.79 L457.57,341.22 L457.78,341.09 L457.98,341.41 L458.19,341.6 L458.4,341.86 L458.61,341.8 L458.82,341.96 L459.03,341.83 L459.23,341.78 L459.44,341.82 L459.65,341.97 L459.86,342.08 L460.07,342.21 L460.28,342 L460.49,342.07 L460.69,342.01 L460.9,342.16 L461.11,341.97 L461.32,342.25 L461.53,342.22 L461.74,342.24 L461.95,342.11 L462.15,342.01 L462.36,342.31 L462.57,342.13 L462.78,342.08 L462.99,342.3 L463.2,342.37 L463.4,342.18 L463.61,342.08 L463.82,342.06 L464.03,342.13 L464.24,342.26 L464.45,342.26 L464.66,342.22 L464.86,342.07 L465.07,342.32 L465.28,342.33 L465.49,342.2 L465.7,342.06 L465.91,342.38 L466.12,342.44 L466.32,342.41 L466.53,342.23 L466.74,342.22 L466.95,342.39 L467.16,342.39 L467.37,342.23 L467.57,342.21 L467.78,342.19 L467.99,342.18 L468.2,342.45 L468.41,342.28 L468.62,342.14 L468.83,342.09 L469.03,342.35 L469.24,342.14 L469.45,342.22 L469.66,342.11 L469.87,342.39 L470.08,342.21 L470.29,342.15 L470.49,342.29 L470.7,342.45 L470.91,342.41 L471.12,342.43 L471.33,342.45 L471.54,342.43 L471.74,342.24 L471.95,342.45 L472.16,342.19 L472.37,342.2 L472.58,342.17 L472.79,342.17 L473,342.21 L473.2,342.12 L473.41,342.11 L473.62,342.24 L473.83,342.11 L474.04,342.45 L474.25,342.45 L474.46,342.47 L474.66,342.41 L474.87,342.35 L475.08,342.31 L475.29,342.22 L475.5,342.2 L475.71,342.46 L475.91,342.34 L476.12,342.28 L476.33,342.35 L476.54,342.45 L476.75,342.26 L476.96,342.35 L477.17,342.22 L477.37,342.3 L477.58,342.11 L477.79,342.12 L478,342.47 L478.21,342.19 L478.42,342.21 L478.63,342.38 L478.83,342.45 L478.83,345.2 L309.74,345.2 L309.74,342.3" fill="none" stroke="#3a3a3a" stroke-width="0.95" stroke-linejoin="round"/>
<text x="309.94" y="346.35" font-family='"Liberation Sans", sans-serif' font-size="7.5" font-weight="normal" fill="#3a3a3a" text-anchor="end" >(A)</text>
<path d="M306.29,353.91 L306.5,353.96 L306.71,353.81 L306.92,353.73 L307.12,353.95 L307.33,353.98 L307.54,353.9 L307.75,353.82 L307.96,353.78 L308.17,353.87 L308.38,353.98 L308.58,353.97 L308.79,353.76 L309,353.89 L309.21,354.08 L309.42,353.93 L309.63,354 L309.83,353.83 L310.04,354.07 L310.25,353.99 L310.46,354.06 L310.67,353.91 L310.88,353.71 L311.09,353.88 L311.29,353.95 L311.5,353.73 L311.71,354.06 L311.92,353.96 L312.13,353.78 L312.34,354.1 L312.55,353.79 L312.75,353.96 L312.96,354.09 L313.17,354 L313.38,353.92 L313.59,353.95 L313.8,353.89 L314,354.08 L314.21,354.01 L314.42,353.71 L314.63,353.92 L314.84,353.91 L315.05,354.07 L315.26,353.99 L315.46,353.72 L315.67,353.83 L315.88,353.9 L316.09,354.08 L316.3,353.94 L316.51,353.79 L316.72,353.93 L316.92,353.86 L317.13,353.74 L317.34,353.84 L317.55,353.85 L317.76,354.09 L317.97,354.09 L318.17,353.79 L318.38,353.93 L318.59,353.75 L318.8,353.77 L319.01,353.73 L319.22,353.95 L319.43,353.7 L319.63,353.8 L319.84,353.74 L320.05,354.04 L320.26,353.79 L320.47,353.93 L320.68,353.71 L320.89,353.7 L321.09,354.01 L321.3,353.93 L321.51,353.99 L321.72,353.91 L321.93,353.99 L322.14,353.83 L322.34,354.05 L322.55,354.03 L322.76,353.92 L322.97,354.07 L323.18,353.95 L323.39,353.74 L323.6,353.75 L323.8,354.02 L324.01,354.09 L324.22,353.77 L324.43,353.72 L324.64,353.86 L324.85,354.05 L325.06,354.01 L325.26,353.73 L325.47,353.72 L325.68,354.09 L325.89,354.03 L326.1,353.93 L326.31,353.99 L326.51,353.8 L326.72,353.95 L326.93,353.79 L327.14,354.04 L327.35,353.89 L327.56,353.71 L327.77,353.82 L327.97,354.06 L328.18,354.06 L328.39,353.84 L328.6,353.95 L328.81,353.95 L329.02,353.91 L329.23,353.87 L329.43,353.71 L329.64,354 L329.85,353.87 L330.06,353.99 L330.27,353.88 L330.48,353.81 L330.68,354.04 L330.89,353.9 L331.1,353.8 L331.31,354.07 L331.52,353.75 L331.73,353.85 L331.94,353.77 L332.14,353.64 L332.35,353.46 L332.56,353.6 L332.77,353.22 L332.98,353.16 L333.19,352.75 L333.4,352.46 L333.6,352.29 L333.81,351.9 L334.02,351.62 L334.23,351.39 L334.44,351.23 L334.65,351.51 L334.85,351.55 L335.06,351.63 L335.27,351.72 L335.48,351.93 L335.69,352.13 L335.9,352.63 L336.11,352.89 L336.31,352.77 L336.52,353.28 L336.73,353.27 L336.94,353.28 L337.15,353.45 L337.36,353.58 L337.57,353.42 L337.77,353.72 L337.98,353.65 L338.19,353.56 L338.4,353.86 L338.61,353.79 L338.82,353.74 L339.02,353.72 L339.23,353.88 L339.44,353.79 L339.65,353.95 L339.86,353.95 L340.07,353.85 L340.28,353.94 L340.48,353.61 L340.69,353.9 L340.9,353.9 L341.11,353.7 L341.32,353.72 L341.53,353.92 L341.74,353.7 L341.94,353.78 L342.15,353.88 L342.36,353.79 L342.57,353.94 L342.78,353.94 L342.99,353.7 L343.19,353.88 L343.4,353.69 L343.61,353.98 L343.82,354 L344.03,354.03 L344.24,353.75 L344.45,353.81 L344.65,354.02 L344.86,353.97 L345.07,353.61 L345.28,353.68 L345.49,353.44 L345.7,353.65 L345.91,353.29 L346.11,353.31 L346.32,352.89 L346.53,352.75 L346.74,352.59 L346.95,352.61 L347.16,352.23 L347.36,352.54 L347.57,352.59 L347.78,352.41 L347.99,352.74 L348.2,352.86 L348.41,352.83 L348.62,352.88 L348.82,352.92 L349.03,353.11 L349.24,353.49 L349.45,353.36 L349.66,353.37 L349.87,353.73 L350.08,353.53 L350.28,353.77 L350.49,353.79 L350.7,353.93 L350.91,353.65 L351.12,353.76 L351.33,353.62 L351.53,353.81 L351.74,353.94 L351.95,353.92 L352.16,353.91 L352.37,353.64 L352.58,353.94 L352.79,353.99 L352.99,353.89 L353.2,354 L353.41,353.87 L353.62,353.79 L353.83,353.78 L354.04,353.98 L354.25,353.99 L354.45,353.86 L354.66,353.78 L354.87,353.88 L355.08,353.83 L355.29,353.7 L355.5,354.01 L355.7,353.96 L355.91,353.87 L356.12,353.85 L356.33,353.71 L356.54,353.85 L356.75,353.81 L356.96,353.91 L357.16,353.76 L357.37,353.74 L357.58,353.96 L357.79,354.04 L358,353.98 L358.21,353.94 L358.42,353.73 L358.62,353.98 L358.83,353.83 L359.04,353.83 L359.25,353.7 L359.46,354.04 L359.67,353.78 L359.87,353.95 L360.08,354.05 L360.29,353.84 L360.5,353.75 L360.71,353.86 L360.92,354.07 L361.13,353.7 L361.33,353.94 L361.54,353.84 L361.75,353.8 L361.96,353.99 L362.17,353.93 L362.38,353.96 L362.59,354.06 L362.79,354.07 L363,353.81 L363.21,353.93 L363.42,353.75 L363.63,354.07 L363.84,353.98 L364.04,354.02 L364.25,353.72 L364.46,353.78 L364.67,353.74 L364.88,353.89 L365.09,354.06 L365.3,353.93 L365.5,354.01 L365.71,354.09 L365.92,353.87 L366.13,353.98 L366.34,354.05 L366.55,353.89 L366.76,353.72 L366.96,353.72 L367.17,353.91 L367.38,354.05 L367.59,353.78 L367.8,354.03 L368.01,353.84 L368.21,353.98 L368.42,353.52 L368.63,353.53 L368.84,353.26 L369.05,352.78 L369.26,351.78 L369.47,350.22 L369.67,348.34 L369.88,345.44 L370.09,341.26 L370.3,335.85 L370.51,329.67 L370.72,322.19 L370.93,314.11 L371.13,306.36 L371.34,298.85 L371.55,293.06 L371.76,289.38 L371.97,288.08 L372.18,289.16 L372.38,292.15 L372.59,296.13 L372.8,300.85 L373.01,306.52 L373.22,312.36 L373.43,318.24 L373.64,323.56 L373.84,328.78 L374.05,333.11 L374.26,336.74 L374.47,339.89 L374.68,342.54 L374.89,344.45 L375.1,345.74 L375.3,346.85 L375.51,347.96 L375.72,348.25 L375.93,349.1 L376.14,349.48 L376.35,349.84 L376.55,349.97 L376.76,350.14 L376.97,350.26 L377.18,350.73 L377.39,350.7 L377.6,351.11 L377.81,351.08 L378.01,351.36 L378.22,351.46 L378.43,351.72 L378.64,351.58 L378.85,351.94 L379.06,351.8 L379.27,352.08 L379.47,352.08 L379.68,352.15 L379.89,352.31 L380.1,352.24 L380.31,352.3 L380.52,352.63 L380.72,352.69 L380.93,352.54 L381.14,352.9 L381.35,352.85 L381.56,352.91 L381.77,352.74 L381.98,353.13 L382.18,352.97 L382.39,352.98 L382.6,353.03 L382.81,353.37 L383.02,353.03 L383.23,353.32 L383.44,353.14 L383.64,353.25 L383.85,353.38 L384.06,353.24 L384.27,353.33 L384.48,353.49 L384.69,353.36 L384.89,353.48 L385.1,353.42 L385.31,353.48 L385.52,353.42 L385.73,353.7 L385.94,353.58 L386.15,353.8 L386.35,353.5 L386.56,353.52 L386.77,353.51 L386.98,353.84 L387.19,353.66 L387.4,353.69 L387.61,353.85 L387.81,353.83 L388.02,353.53 L388.23,353.59 L388.44,353.84 L388.65,353.61 L388.86,353.69 L389.06,353.81 L389.27,353.71 L389.48,353.88 L389.69,353.87 L389.9,353.98 L390.11,353.73 L390.32,353.77 L390.52,353.71 L390.73,353.81 L390.94,353.83 L391.15,353.88 L391.36,353.69 L391.57,353.79 L391.78,353.6 L391.98,353.36 L392.19,353.16 L392.4,352.49 L392.61,351.81 L392.82,350.26 L393.03,347.82 L393.23,344.95 L393.44,340.71 L393.65,335.2 L393.86,328.15 L394.07,320.64 L394.28,312.1 L394.49,303.68 L394.69,295.83 L394.9,289.74 L395.11,285.67 L395.32,284.46 L395.53,285.67 L395.74,288.63 L395.95,292.89 L396.15,297.98 L396.36,303.9 L396.57,309.99 L396.78,316.05 L396.99,321.95 L397.2,327.49 L397.4,331.79 L397.61,335.7 L397.82,339.27 L398.03,341.93 L398.24,343.86 L398.45,345.53 L398.66,346.61 L398.86,347.62 L399.07,348.25 L399.28,348.87 L399.49,349.12 L399.7,349.51 L399.91,349.63 L400.12,350.02 L400.32,350.34 L400.53,350.23 L400.74,350.45 L400.95,350.71 L401.16,351.07 L401.37,351.15 L401.57,351.29 L401.78,351.44 L401.99,351.73 L402.2,351.69 L402.41,351.68 L402.62,351.83 L402.83,351.87 L403.03,352.04 L403.24,352.11 L403.45,352.15 L403.66,352.22 L403.87,352.35 L404.08,352.58 L404.29,352.56 L404.49,352.63 L404.7,352.6 L404.91,352.73 L405.12,352.9 L405.33,353.05 L405.54,353.05 L405.74,353.13 L405.95,353.01 L406.16,353.02 L406.37,353.29 L406.58,353.19 L406.79,353.11 L407,353.33 L407.2,353.47 L407.41,353.3 L407.62,353.43 L407.83,353.54 L408.04,353.5 L408.25,353.63 L408.46,353.57 L408.66,353.43 L408.87,353.49 L409.08,353.4 L409.29,352.95 L409.5,352.42 L409.71,351.9 L409.91,351.28 L410.12,349.92 L410.33,348.8 L410.54,346.99 L410.75,345 L410.96,342.75 L411.17,340.31 L411.37,338.21 L411.58,336.68 L411.79,335.48 L412,335.26 L412.21,335.48 L412.42,336.4 L412.63,337.55 L412.83,339.08 L413.04,340.53 L413.25,342.16 L413.46,343.64 L413.67,345.43 L413.88,346.82 L414.08,347.85 L414.29,349.2 L414.5,349.88 L414.71,350.71 L414.92,351.08 L415.13,351.53 L415.34,352.05 L415.54,352.03 L415.75,352.35 L415.96,352.53 L416.17,352.42 L416.38,352.54 L416.59,352.8 L416.8,352.71 L417,352.97 L417.21,352.83 L417.42,352.99 L417.63,352.72 L417.84,352.52 L418.05,352.48 L418.25,352.51 L418.46,352.06 L418.67,351.77 L418.88,351.44 L419.09,351.22 L419.3,350.86 L419.51,350.54 L419.71,350.54 L419.92,350.26 L420.13,350.53 L420.34,350.66 L420.55,350.95 L420.76,351.12 L420.97,351.15 L421.17,351.7 L421.38,352.07 L421.59,352.24 L421.8,352.25 L422.01,352.82 L422.22,352.9 L422.42,353.11 L422.63,353.04 L422.84,353.22 L423.05,353.42 L423.26,353.13 L423.47,353.32 L423.68,353.1 L423.88,353.04 L424.09,352.64 L424.3,352.64 L424.51,352.14 L424.72,351.58 L424.93,350.97 L425.14,350.08 L425.34,349.53 L425.55,348.97 L425.76,348.41 L425.97,347.96 L426.18,347.97 L426.39,348.15 L426.59,348.32 L426.8,348.69 L427.01,349.21 L427.22,349.68 L427.43,350.31 L427.64,350.7 L427.85,351.01 L428.05,351.68 L428.26,352.04 L428.47,352.27 L428.68,352.55 L428.89,352.94 L429.1,353 L429.31,353.02 L429.51,353.4 L429.72,353.45 L429.93,353.25 L430.14,353.24 L430.35,353.61 L430.56,353.64 L430.76,353.45 L430.97,353.61 L431.18,353.48 L431.39,353.75 L431.6,353.6 L431.81,353.73 L432.02,353.68 L432.22,353.55 L432.43,353.64 L432.64,353.52 L432.85,353.54 L433.06,353.64 L433.27,353.55 L433.48,353.83 L433.68,353.72 L433.89,353.78 L434.1,353.65 L434.31,353.84 L434.52,353.49 L434.73,353.64 L434.93,353.4 L435.14,353.22 L435.35,353.07 L435.56,353.1 L435.77,352.69 L435.98,352.4 L436.19,352.51 L436.39,352.05 L436.6,351.88 L436.81,351.88 L437.02,351.91 L437.23,352 L437.44,352 L437.65,351.91 L437.85,352.28 L438.06,352.51 L438.27,352.54 L438.48,352.79 L438.69,352.89 L438.9,353.11 L439.1,353.31 L439.31,353.53 L439.52,353.31 L439.73,353.45 L439.94,353.68 L440.15,353.62 L440.36,353.63 L440.56,353.68 L440.77,353.55 L440.98,353.61 L441.19,353.81 L441.4,353.81 L441.61,353.71 L441.82,353.9 L442.02,353.6 L442.23,353.96 L442.44,353.79 L442.65,353.88 L442.86,353.79 L443.07,353.99 L443.27,353.92 L443.48,353.62 L443.69,353.7 L443.9,353.94 L444.11,353.85 L444.32,354.02 L444.53,353.99 L444.73,353.96 L444.94,353.65 L445.15,353.92 L445.36,353.95 L445.57,354.03 L445.78,354.01 L445.99,353.66 L446.19,353.76 L446.4,353.69 L446.61,353.73 L446.82,353.75 L447.03,353.97 L447.24,354 L447.44,353.96 L447.65,354.05 L447.86,354 L448.07,353.79 L448.28,353.88 L448.49,354.07 L448.7,353.96 L448.9,353.74 L449.11,353.74 L449.32,353.79 L449.53,353.79 L449.74,353.72 L449.95,353.86 L450.16,353.93 L450.36,353.86 L450.57,353.97 L450.78,354.07 L450.99,353.98 L451.2,353.91 L451.41,354.04 L451.61,354.06 L451.82,353.99 L452.03,353.94 L452.24,353.71 L452.45,353.9 L452.66,353.76 L452.87,353.8 L453.07,353.86 L453.28,353.96 L453.49,353.94 L453.7,353.97 L453.91,353.84 L454.12,353.75 L454.33,353.78 L454.53,353.98 L454.74,354.04 L454.95,354.09 L455.16,353.86 L455.37,354.01 L455.58,354.09 L455.78,353.98 L455.99,354.01 L456.2,354.02 L456.41,353.83 L456.62,353.86 L456.83,353.98 L457.04,353.81 L457.24,354.02 L457.45,353.73 L457.66,354.05 L457.87,353.86 L458.08,353.82 L458.29,353.81 L458.5,353.9 L458.7,353.75 L458.91,353.85 L459.12,353.82 L459.33,354.07 L459.54,354.02 L459.75,353.91 L459.95,353.88 L460.16,354.06 L460.37,353.8 L460.58,353.96 L460.79,353.91 L461,353.89 L461.21,353.76 L461.41,353.98 L461.62,353.88 L461.83,353.86 L462.04,353.84 L462.25,353.97 L462.46,353.99 L462.67,353.91 L462.87,353.86 L463.08,353.84 L463.29,354.05 L463.5,353.92 L463.71,353.88 L463.92,354.02 L464.12,354.06 L464.33,353.73 L464.54,354.09 L464.75,353.9 L464.96,353.98 L465.17,354.09 L465.38,353.99 L465.58,354.04 L465.79,353.94 L466,353.74 L466.21,354.07 L466.42,353.96 L466.63,353.82 L466.84,353.85 L467.04,354.09 L467.25,354.01 L467.46,353.99 L467.67,353.74 L467.88,353.92 L468.09,354 L468.29,353.91 L468.5,353.91 L468.71,354.04 L468.92,353.83 L469.13,353.81 L469.34,353.91 L469.55,353.88 L469.75,353.79 L469.96,353.72 L470.17,353.85 L470.38,354.08 L470.59,353.9 L470.8,353.84 L471.01,353.97 L471.21,353.83 L471.42,353.95 L471.63,353.85 L471.84,353.85 L472.05,353.83 L472.26,353.73 L472.46,353.82 L472.67,353.82 L472.88,353.82 L473.09,354.01 L473.3,353.85 L473.51,353.85 L473.72,354.08 L473.92,353.8 L474.13,354.01 L474.34,353.9 L474.55,353.89 L474.76,353.81 L474.97,353.79 L475.18,353.91 L475.38,353.72 L475.38,356.1 L306.29,356.1 L306.29,353.9" fill="none" stroke="#ff4d4d" stroke-width="0.95" stroke-linejoin="round"/>
<text x="306.49" y="357.6" font-family='"Liberation Sans", sans-serif' font-size="7.5" font-weight="normal" fill="#3a3a3a" text-anchor="end" >(B)</text>
<path d="M302.84,364.82 L303.05,364.77 L303.26,364.6 L303.47,364.87 L303.67,364.71 L303.88,364.62 L304.09,364.97 L304.3,364.69 L304.51,364.74 L304.72,364.78 L304.93,364.68 L305.13,364.66 L305.34,364.94 L305.55,364.81 L305.76,364.75 L305.97,364.72 L306.18,364.62 L306.38,364.68 L306.59,364.67 L306.8,364.97 L307.01,364.83 L307.22,364.63 L307.43,364.62 L307.64,364.7 L307.84,364.87 L308.05,364.69 L308.26,364.79 L308.47,364.73 L308.68,364.75 L308.89,364.65 L309.1,364.71 L309.3,364.61 L309.51,364.8 L309.72,364.8 L309.93,364.74 L310.14,364.78 L310.35,364.98 L310.55,364.62 L310.76,364.87 L310.97,364.8 L311.18,364.98 L311.39,364.92 L311.6,364.63 L311.81,364.89 L312.01,364.88 L312.22,364.68 L312.43,364.9 L312.64,364.73 L312.85,364.77 L313.06,364.64 L313.27,364.81 L313.47,364.87 L313.68,364.9 L313.89,364.85 L314.1,365 L314.31,364.95 L314.52,364.94 L314.72,364.87 L314.93,364.69 L315.14,364.62 L315.35,364.86 L315.56,364.9 L315.77,364.88 L315.98,364.75 L316.18,364.81 L316.39,364.95 L316.6,364.79 L316.81,364.89 L317.02,364.94 L317.23,364.69 L317.44,364.96 L317.64,364.82 L317.85,364.69 L318.06,364.78 L318.27,364.65 L318.48,364.87 L318.69,364.62 L318.89,364.98 L319.1,364.64 L319.31,364.83 L319.52,365 L319.73,364.9 L319.94,364.6 L320.15,364.71 L320.35,364.71 L320.56,364.68 L320.77,365 L320.98,364.88 L321.19,364.81 L321.4,364.64 L321.61,364.64 L321.81,364.94 L322.02,364.61 L322.23,364.78 L322.44,364.88 L322.65,364.97 L322.86,364.83 L323.06,364.79 L323.27,364.82 L323.48,364.88 L323.69,364.62 L323.9,364.81 L324.11,364.88 L324.32,364.69 L324.52,364.9 L324.73,364.83 L324.94,364.96 L325.15,364.9 L325.36,364.6 L325.57,364.75 L325.78,364.79 L325.98,364.73 L326.19,364.73 L326.4,364.79 L326.61,364.85 L326.82,364.93 L327.03,364.97 L327.23,364.92 L327.44,364.79 L327.65,364.9 L327.86,364.57 L328.07,364.6 L328.28,364.48 L328.49,364.22 L328.69,363.85 L328.9,363.56 L329.11,362.82 L329.32,362.41 L329.53,361.97 L329.74,361.36 L329.95,360.48 L330.15,360.16 L330.36,359.98 L330.57,359.71 L330.78,360.09 L330.99,359.97 L331.2,360.25 L331.4,360.73 L331.61,361.39 L331.82,361.68 L332.03,361.96 L332.24,362.47 L332.45,363.01 L332.66,363.33 L332.86,363.68 L333.07,363.73 L333.28,364.06 L333.49,364.1 L333.7,364.03 L333.91,364.11 L334.12,364.34 L334.32,364.27 L334.53,364.57 L334.74,364.28 L334.95,364.33 L335.16,364.51 L335.37,364.36 L335.57,364.62 L335.78,364.36 L335.99,364.63 L336.2,364.41 L336.41,364.45 L336.62,364.43 L336.83,364.52 L337.03,364.79 L337.24,364.72 L337.45,364.58 L337.66,364.49 L337.87,364.58 L338.08,364.85 L338.29,364.73 L338.49,364.74 L338.7,364.82 L338.91,364.8 L339.12,364.69 L339.33,364.75 L339.54,364.8 L339.74,364.75 L339.95,364.54 L340.16,364.68 L340.37,364.62 L340.58,364.55 L340.79,364.92 L341,364.57 L341.2,364.88 L341.41,364.82 L341.62,364.57 L341.83,364.52 L342.04,364.5 L342.25,364.44 L342.46,364.19 L342.66,364.11 L342.87,363.96 L343.08,363.68 L343.29,363.42 L343.5,363.15 L343.71,362.51 L343.91,362.29 L344.12,362.38 L344.33,362.31 L344.54,362.42 L344.75,362.32 L344.96,362.59 L345.17,362.91 L345.37,362.83 L345.58,363.04 L345.79,363.61 L346,363.65 L346.21,363.94 L346.42,363.94 L346.63,364.2 L346.83,364.34 L347.04,364.43 L347.25,364.38 L347.46,364.48 L347.67,364.53 L347.88,364.49 L348.08,364.59 L348.29,364.42 L348.5,364.64 L348.71,364.52 L348.92,364.47 L349.13,364.6 L349.34,364.63 L349.54,364.55 L349.75,364.59 L349.96,364.81 L350.17,364.72 L350.38,364.83 L350.59,364.89 L350.8,364.63 L351,364.78 L351.21,364.81 L351.42,364.91 L351.63,364.92 L351.84,364.66 L352.05,364.79 L352.25,364.76 L352.46,364.67 L352.67,364.58 L352.88,364.67 L353.09,364.86 L353.3,364.56 L353.51,364.88 L353.71,364.72 L353.92,364.7 L354.13,364.85 L354.34,364.61 L354.55,364.72 L354.76,364.68 L354.97,364.91 L355.17,364.64 L355.38,364.86 L355.59,364.73 L355.8,364.68 L356.01,364.85 L356.22,364.87 L356.42,364.85 L356.63,364.59 L356.84,364.72 L357.05,364.79 L357.26,364.76 L357.47,364.72 L357.68,364.88 L357.88,364.96 L358.09,364.94 L358.3,364.75 L358.51,364.75 L358.72,364.6 L358.93,364.74 L359.14,364.65 L359.34,364.6 L359.55,364.79 L359.76,364.82 L359.97,364.8 L360.18,364.84 L360.39,364.69 L360.59,364.76 L360.8,364.94 L361.01,364.61 L361.22,364.78 L361.43,364.69 L361.64,364.78 L361.85,364.76 L362.05,364.76 L362.26,364.95 L362.47,364.94 L362.68,364.7 L362.89,364.86 L363.1,364.94 L363.31,364.67 L363.51,364.7 L363.72,364.69 L363.93,364.83 L364.14,364.92 L364.35,364.65 L364.56,364.81 L364.76,364.53 L364.97,364.32 L365.18,364.13 L365.39,363.63 L365.6,362.39 L365.81,360.74 L366.02,358.46 L366.22,354.93 L366.43,350.64 L366.64,344.53 L366.85,337.42 L367.06,329.03 L367.27,320.15 L367.48,311.16 L367.68,302.78 L367.89,296.1 L368.1,291.64 L368.31,290.26 L368.52,291.92 L368.73,295.02 L368.93,299.52 L369.14,305.14 L369.35,311.44 L369.56,317.84 L369.77,324.5 L369.98,330.85 L370.19,336.47 L370.39,341.37 L370.6,345.47 L370.81,348.97 L371.02,351.82 L371.23,353.87 L371.44,355.75 L371.65,357.01 L371.85,357.81 L372.06,358.57 L372.27,359.24 L372.48,359.5 L372.69,360.22 L372.9,360.32 L373.1,360.47 L373.31,360.7 L373.52,361.2 L373.73,361.16 L373.94,361.46 L374.15,361.48 L374.36,361.89 L374.56,361.92 L374.77,362.08 L374.98,362.09 L375.19,362.48 L375.4,362.59 L375.61,362.82 L375.82,362.71 L376.02,363.06 L376.23,362.86 L376.44,363.23 L376.65,363.31 L376.86,363.09 L377.07,363.36 L377.27,363.33 L377.48,363.57 L377.69,363.68 L377.9,363.7 L378.11,363.51 L378.32,363.89 L378.53,363.66 L378.73,363.72 L378.94,363.85 L379.15,364.06 L379.36,363.92 L379.57,363.9 L379.78,364.06 L379.99,364.25 L380.19,364.13 L380.4,364.02 L380.61,364.2 L380.82,364.41 L381.03,364.42 L381.24,364.27 L381.44,364.53 L381.65,364.57 L381.86,364.45 L382.07,364.52 L382.28,364.44 L382.49,364.63 L382.7,364.45 L382.9,364.42 L383.11,364.58 L383.32,364.49 L383.53,364.53 L383.74,364.44 L383.95,364.54 L384.16,364.53 L384.36,364.57 L384.57,364.48 L384.78,364.78 L384.99,364.78 L385.2,364.49 L385.41,364.51 L385.61,364.85 L385.82,364.5 L386.03,364.62 L386.24,364.53 L386.45,364.6 L386.66,364.74 L386.87,364.85 L387.07,364.59 L387.28,364.62 L387.49,364.71 L387.7,364.79 L387.91,364.73 L388.12,364.46 L388.33,364.57 L388.53,364.51 L388.74,363.9 L388.95,363.39 L389.16,362.87 L389.37,361.53 L389.58,359.32 L389.78,356.61 L389.99,352.7 L390.2,347.62 L390.41,341.67 L390.62,334.51 L390.83,327.06 L391.04,319.43 L391.24,312.32 L391.45,306.74 L391.66,302.89 L391.87,301.91 L392.08,302.98 L392.29,305.91 L392.5,309.68 L392.7,314.46 L392.91,319.65 L393.12,324.94 L393.33,330.72 L393.54,335.78 L393.75,340.52 L393.95,344.85 L394.16,348.63 L394.37,351.48 L394.58,353.94 L394.79,355.75 L395,357.14 L395.21,358.28 L395.41,358.89 L395.62,359.58 L395.83,360.15 L396.04,360.54 L396.25,360.9 L396.46,361.17 L396.67,361.27 L396.87,361.62 L397.08,361.63 L397.29,361.91 L397.5,361.87 L397.71,362.23 L397.92,362.14 L398.12,362.24 L398.33,362.37 L398.54,362.77 L398.75,362.61 L398.96,362.9 L399.17,362.84 L399.38,363.11 L399.58,363.17 L399.79,363.37 L400,363.25 L400.21,363.48 L400.42,363.35 L400.63,363.49 L400.84,363.67 L401.04,363.89 L401.25,363.86 L401.46,363.85 L401.67,363.92 L401.88,363.89 L402.09,364.17 L402.29,364.03 L402.5,363.9 L402.71,363.92 L402.92,364.06 L403.13,364.1 L403.34,364.16 L403.55,364.04 L403.75,364.15 L403.96,364.31 L404.17,364.33 L404.38,364.17 L404.59,364.35 L404.8,364.36 L405.01,364.5 L405.21,364.37 L405.42,364.46 L405.63,364.3 L405.84,364.29 L406.05,364.31 L406.26,364.34 L406.46,364.7 L406.67,364.69 L406.88,364.56 L407.09,364.3 L407.3,364.3 L407.51,364.24 L407.72,364.01 L407.92,363.5 L408.13,362.9 L408.34,362.01 L408.55,360.63 L408.76,359.45 L408.97,357.85 L409.18,355.92 L409.38,354.37 L409.59,352.49 L409.8,351.27 L410.01,350.34 L410.22,350.11 L410.43,350.43 L410.63,351.24 L410.84,352.05 L411.05,353.15 L411.26,354.37 L411.47,355.44 L411.68,356.91 L411.89,357.98 L412.09,359.15 L412.3,360.34 L412.51,361.12 L412.72,361.65 L412.93,362.11 L413.14,362.76 L413.35,363.08 L413.55,363.27 L413.76,363.42 L413.97,363.56 L414.18,363.45 L414.39,363.62 L414.6,363.76 L414.8,363.71 L415.01,363.57 L415.22,363.6 L415.43,363.36 L415.64,363.31 L415.85,362.87 L416.06,362.58 L416.26,362.38 L416.47,362.35 L416.68,362.35 L416.89,362.27 L417.1,362.34 L417.31,362.6 L417.52,362.6 L417.72,362.79 L417.93,363.1 L418.14,363.2 L418.35,363.24 L418.56,363.5 L418.77,363.8 L418.97,363.98 L419.18,363.96 L419.39,364.09 L419.6,364.28 L419.81,364.28 L420.02,364.36 L420.23,364.31 L420.43,364.22 L420.64,364.42 L420.85,364.32 L421.06,364.24 L421.27,364.07 L421.48,364.06 L421.69,363.81 L421.89,363.2 L422.1,363.1 L422.31,362.4 L422.52,362.05 L422.73,361.44 L422.94,360.98 L423.14,360.68 L423.35,360.46 L423.56,360.06 L423.77,360.54 L423.98,360.69 L424.19,360.72 L424.4,361.2 L424.6,361.65 L424.81,361.81 L425.02,362.12 L425.23,362.8 L425.44,362.94 L425.65,363.37 L425.86,363.38 L426.06,363.75 L426.27,363.8 L426.48,364.03 L426.69,364.34 L426.9,364.3 L427.11,364.25 L427.31,364.52 L427.52,364.58 L427.73,364.25 L427.94,364.3 L428.15,364.43 L428.36,364.68 L428.57,364.45 L428.77,364.35 L428.98,364.44 L429.19,364.48 L429.4,364.61 L429.61,364.54 L429.82,364.43 L430.03,364.62 L430.23,364.8 L430.44,364.78 L430.65,364.46 L430.86,364.57 L431.07,364.49 L431.28,364.81 L431.48,364.83 L431.69,364.61 L431.9,364.71 L432.11,364.7 L432.32,364.8 L432.53,364.58 L432.74,364.57 L432.94,364.58 L433.15,364.67 L433.36,364.6 L433.57,364.58 L433.78,364.46 L433.99,364.4 L434.2,364.2 L434.4,363.84 L434.61,363.72 L434.82,363.81 L435.03,363.43 L435.24,363.24 L435.45,363.35 L435.65,363.1 L435.86,363.12 L436.07,363.53 L436.28,363.4 L436.49,363.61 L436.7,363.71 L436.91,363.81 L437.11,363.82 L437.32,364.03 L437.53,364.05 L437.74,364.4 L437.95,364.27 L438.16,364.5 L438.37,364.65 L438.57,364.44 L438.78,364.57 L438.99,364.73 L439.2,364.49 L439.41,364.66 L439.62,364.6 L439.82,364.49 L440.03,364.76 L440.24,364.68 L440.45,364.69 L440.66,364.8 L440.87,364.7 L441.08,364.53 L441.28,364.64 L441.49,364.82 L441.7,364.66 L441.91,364.69 L442.12,364.79 L442.33,364.67 L442.54,364.8 L442.74,364.64 L442.95,364.8 L443.16,364.62 L443.37,364.84 L443.58,364.89 L443.79,364.83 L443.99,364.91 L444.2,364.62 L444.41,364.57 L444.62,364.8 L444.83,364.87 L445.04,364.62 L445.25,364.63 L445.45,364.88 L445.66,364.85 L445.87,364.78 L446.08,364.93 L446.29,364.9 L446.5,364.82 L446.71,364.93 L446.91,364.93 L447.12,364.74 L447.33,364.86 L447.54,364.62 L447.75,364.6 L447.96,364.72 L448.16,364.88 L448.37,364.68 L448.58,364.85 L448.79,364.64 L449,364.82 L449.21,364.71 L449.42,364.69 L449.62,364.71 L449.83,364.69 L450.04,364.86 L450.25,364.93 L450.46,364.85 L450.67,364.61 L450.88,364.98 L451.08,364.88 L451.29,364.87 L451.5,364.82 L451.71,364.65 L451.92,364.93 L452.13,364.95 L452.33,364.99 L452.54,364.86 L452.75,364.71 L452.96,364.82 L453.17,364.74 L453.38,364.79 L453.59,364.85 L453.79,364.83 L454,364.98 L454.21,364.62 L454.42,364.7 L454.63,364.96 L454.84,364.92 L455.05,364.68 L455.25,364.8 L455.46,364.7 L455.67,364.7 L455.88,364.94 L456.09,364.67 L456.3,364.92 L456.5,364.94 L456.71,364.7 L456.92,364.67 L457.13,364.88 L457.34,364.84 L457.55,364.71 L457.76,364.88 L457.96,364.82 L458.17,364.6 L458.38,364.95 L458.59,364.62 L458.8,364.64 L459.01,364.6 L459.22,364.9 L459.42,364.92 L459.63,364.82 L459.84,364.93 L460.05,364.63 L460.26,364.77 L460.47,364.66 L460.67,364.8 L460.88,364.8 L461.09,364.62 L461.3,364.95 L461.51,364.91 L461.72,364.66 L461.93,364.76 L462.13,364.69 L462.34,364.6 L462.55,364.69 L462.76,364.76 L462.97,364.7 L463.18,364.79 L463.39,364.91 L463.59,364.87 L463.8,364.63 L464.01,364.79 L464.22,364.99 L464.43,364.74 L464.64,364.6 L464.84,364.75 L465.05,364.8 L465.26,364.82 L465.47,364.75 L465.68,364.75 L465.89,364.8 L466.1,364.64 L466.3,364.65 L466.51,364.69 L466.72,364.71 L466.93,364.71 L467.14,364.92 L467.35,364.8 L467.56,364.89 L467.76,364.92 L467.97,364.62 L468.18,364.91 L468.39,364.67 L468.6,364.67 L468.81,364.84 L469.01,364.99 L469.22,364.93 L469.43,364.74 L469.64,364.72 L469.85,364.86 L470.06,364.76 L470.27,364.93 L470.47,364.74 L470.68,364.69 L470.89,364.69 L471.1,364.77 L471.31,364.77 L471.52,365 L471.73,364.89 L471.93,364.84 L471.93,367.1 L302.84,367.1 L302.84,364.8" fill="none" stroke="#14dc50" stroke-width="0.95" stroke-linejoin="round"/>
<text x="303.04" y="368.55" font-family='"Liberation Sans", sans-serif' font-size="7.5" font-weight="normal" fill="#3a3a3a" text-anchor="end" >(C)</text>
<path d="M299.39,376.27 L299.6,376.27 L299.81,375.92 L300.02,376.03 L300.22,376.08 L300.43,376.02 L300.64,375.95 L300.85,376.05 L301.06,376.13 L301.27,376.14 L301.48,375.91 L301.68,375.92 L301.89,376.24 L302.1,375.97 L302.31,376.04 L302.52,376.16 L302.73,376.02 L302.93,376.19 L303.14,376 L303.35,376.08 L303.56,376.07 L303.77,376.28 L303.98,375.94 L304.19,375.92 L304.39,376 L304.6,376.18 L304.81,376.01 L305.02,376.25 L305.23,376.08 L305.44,376.16 L305.65,376.11 L305.85,376.18 L306.06,376.27 L306.27,376.13 L306.48,376.21 L306.69,376.23 L306.9,376.17 L307.1,376.25 L307.31,376.29 L307.52,375.91 L307.73,376.28 L307.94,375.94 L308.15,376.13 L308.36,376.25 L308.56,376.13 L308.77,376.1 L308.98,376.28 L309.19,376.08 L309.4,376.3 L309.61,376.18 L309.82,376.02 L310.02,375.96 L310.23,376.23 L310.44,376.14 L310.65,375.92 L310.86,376.17 L311.07,376.25 L311.27,376.2 L311.48,375.95 L311.69,376.16 L311.9,376.03 L312.11,375.92 L312.32,376.05 L312.53,376.22 L312.73,376.11 L312.94,376.17 L313.15,376.11 L313.36,376.05 L313.57,375.91 L313.78,376.02 L313.99,376.1 L314.19,375.98 L314.4,376.1 L314.61,376.22 L314.82,376.03 L315.03,376.19 L315.24,376.22 L315.44,376.14 L315.65,376.11 L315.86,376.29 L316.07,376.16 L316.28,375.92 L316.49,376.1 L316.7,376.15 L316.9,376.12 L317.11,376.02 L317.32,376.1 L317.53,376.14 L317.74,376.07 L317.95,376.19 L318.16,376.03 L318.36,376.13 L318.57,376.02 L318.78,376.16 L318.99,376.04 L319.2,376.22 L319.41,376.11 L319.61,376.1 L319.82,376.29 L320.03,376.25 L320.24,376.12 L320.45,375.99 L320.66,375.98 L320.87,375.96 L321.07,375.98 L321.28,375.91 L321.49,376.22 L321.7,376.24 L321.91,376.24 L322.12,375.98 L322.33,376.22 L322.53,376.17 L322.74,376.24 L322.95,375.94 L323.16,376.21 L323.37,376.2 L323.58,376.06 L323.78,376.01 L323.99,376.26 L324.2,376.02 L324.41,376 L324.62,375.92 L324.83,375.83 L325.04,375.56 L325.24,375.32 L325.45,375 L325.66,374.81 L325.87,374.44 L326.08,373.71 L326.29,373.29 L326.5,372.44 L326.7,371.95 L326.91,371.39 L327.12,371.07 L327.33,371.01 L327.54,371.13 L327.75,371.49 L327.95,371.63 L328.16,372.04 L328.37,372.62 L328.58,372.81 L328.79,373.4 L329,373.8 L329.21,374.31 L329.41,374.39 L329.62,374.82 L329.83,374.94 L330.04,375.09 L330.25,375.37 L330.46,375.45 L330.67,375.59 L330.87,375.74 L331.08,375.57 L331.29,375.56 L331.5,375.94 L331.71,375.97 L331.92,375.81 L332.12,375.99 L332.33,375.86 L332.54,375.91 L332.75,375.97 L332.96,375.77 L333.17,375.86 L333.38,375.73 L333.58,376.03 L333.79,375.97 L334,375.88 L334.21,375.83 L334.42,375.98 L334.63,376.08 L334.84,376.01 L335.04,375.94 L335.25,375.79 L335.46,375.93 L335.67,375.85 L335.88,375.86 L336.09,376.03 L336.29,376.01 L336.5,375.88 L336.71,375.93 L336.92,376.06 L337.13,376.15 L337.34,375.93 L337.55,376.1 L337.75,376.11 L337.96,376.1 L338.17,375.89 L338.38,375.86 L338.59,375.66 L338.8,375.69 L339.01,375.58 L339.21,375.23 L339.42,375.28 L339.63,374.83 L339.84,374.37 L340.05,374.33 L340.26,374.13 L340.46,373.92 L340.67,373.81 L340.88,373.48 L341.09,373.66 L341.3,373.61 L341.51,373.75 L341.72,374.26 L341.92,374.36 L342.13,374.6 L342.34,374.82 L342.55,375.13 L342.76,375.23 L342.97,375.36 L343.18,375.46 L343.38,375.54 L343.59,375.46 L343.8,375.88 L344.01,375.93 L344.22,375.66 L344.43,375.94 L344.63,375.87 L344.84,375.98 L345.05,375.76 L345.26,375.76 L345.47,375.91 L345.68,376.11 L345.89,376.01 L346.09,375.89 L346.3,375.95 L346.51,376.07 L346.72,376.03 L346.93,376.17 L347.14,376.04 L347.35,375.88 L347.55,376.06 L347.76,376.03 L347.97,376.15 L348.18,375.94 L348.39,376.06 L348.6,376.08 L348.8,375.93 L349.01,376.12 L349.22,376.21 L349.43,375.99 L349.64,375.95 L349.85,376.23 L350.06,376.12 L350.26,375.9 L350.47,376.06 L350.68,376.1 L350.89,376.21 L351.1,376.15 L351.31,376.03 L351.52,375.9 L351.72,376.01 L351.93,375.88 L352.14,376.11 L352.35,376.25 L352.56,376.14 L352.77,376.13 L352.97,376.26 L353.18,376.25 L353.39,375.92 L353.6,375.92 L353.81,376.23 L354.02,376.25 L354.23,375.89 L354.43,376.22 L354.64,376.17 L354.85,376.2 L355.06,376.2 L355.27,376.28 L355.48,376.1 L355.69,375.98 L355.89,376.26 L356.1,376.09 L356.31,376.24 L356.52,375.98 L356.73,375.93 L356.94,375.94 L357.14,376.08 L357.35,376.24 L357.56,376.01 L357.77,376.27 L357.98,375.98 L358.19,376.17 L358.4,375.94 L358.6,376.18 L358.81,376 L359.02,376.1 L359.23,376.2 L359.44,376.1 L359.65,376.12 L359.86,376.23 L360.06,376.07 L360.27,376.07 L360.48,376 L360.69,376.11 L360.9,375.95 L361.11,376.01 L361.31,375.67 L361.52,375.42 L361.73,374.57 L361.94,373.76 L362.15,372.08 L362.36,369.72 L362.57,366.12 L362.77,361.26 L362.98,355.24 L363.19,347.78 L363.4,338.82 L363.61,329.71 L363.82,320.37 L364.03,311.73 L364.23,304.63 L364.44,300.16 L364.65,298.54 L364.86,300.37 L365.07,303.73 L365.28,308.33 L365.48,314.26 L365.69,320.49 L365.9,327.25 L366.11,334.01 L366.32,340.51 L366.53,346.47 L366.74,351.58 L366.94,356.18 L367.15,359.69 L367.36,362.75 L367.57,364.7 L367.78,366.62 L367.99,368.07 L368.2,368.75 L368.4,369.66 L368.61,370.41 L368.82,370.62 L369.03,371.09 L369.24,371.41 L369.45,371.59 L369.65,372.07 L369.86,372.32 L370.07,372.41 L370.28,372.76 L370.49,372.75 L370.7,373.02 L370.91,373.3 L371.11,373.48 L371.32,373.62 L371.53,373.59 L371.74,373.59 L371.95,373.77 L372.16,373.87 L372.37,374.09 L372.57,374.1 L372.78,374.39 L372.99,374.48 L373.2,374.35 L373.41,374.7 L373.62,374.63 L373.82,374.73 L374.03,375.01 L374.24,374.87 L374.45,374.84 L374.66,374.87 L374.87,375.12 L375.08,374.98 L375.28,375.37 L375.49,375.08 L375.7,375.21 L375.91,375.21 L376.12,375.39 L376.33,375.38 L376.54,375.32 L376.74,375.59 L376.95,375.64 L377.16,375.45 L377.37,375.43 L377.58,375.71 L377.79,375.61 L377.99,375.65 L378.2,375.76 L378.41,375.57 L378.62,375.81 L378.83,375.63 L379.04,375.8 L379.25,375.92 L379.45,375.62 L379.66,375.96 L379.87,375.99 L380.08,376.03 L380.29,375.92 L380.5,376.06 L380.71,376.02 L380.91,375.72 L381.12,376.01 L381.33,375.83 L381.54,376.04 L381.75,376.13 L381.96,376.14 L382.16,376.11 L382.37,375.78 L382.58,375.99 L382.79,376.08 L383,376.16 L383.21,375.93 L383.42,376.07 L383.62,376.13 L383.83,376.03 L384.04,375.92 L384.25,376.06 L384.46,375.96 L384.67,376.08 L384.88,375.86 L385.08,375.93 L385.29,375.33 L385.5,374.89 L385.71,374.32 L385.92,373.24 L386.13,371.59 L386.33,369.04 L386.54,365.84 L386.75,361.56 L386.96,356.51 L387.17,350.58 L387.38,344.03 L387.59,337.81 L387.79,331.86 L388,327.14 L388.21,324.06 L388.42,322.73 L388.63,324.11 L388.84,326.19 L389.05,329.68 L389.25,333.28 L389.46,337.92 L389.67,342.5 L389.88,347.43 L390.09,351.67 L390.3,355.63 L390.5,359.4 L390.71,362.5 L390.92,364.87 L391.13,366.71 L391.34,368.27 L391.55,369.75 L391.76,370.55 L391.96,371.01 L392.17,371.78 L392.38,372.27 L392.59,372.27 L392.8,372.56 L393.01,372.93 L393.22,373.02 L393.42,373.17 L393.63,373.3 L393.84,373.7 L394.05,373.63 L394.26,373.68 L394.47,373.85 L394.67,374.08 L394.88,374.24 L395.09,374.11 L395.3,374.2 L395.51,374.36 L395.72,374.57 L395.93,374.5 L396.13,374.58 L396.34,374.81 L396.55,375.03 L396.76,374.9 L396.97,375.15 L397.18,375.13 L397.39,375.09 L397.59,375.17 L397.8,375.17 L398.01,375.14 L398.22,375.14 L398.43,375.43 L398.64,375.22 L398.84,375.51 L399.05,375.53 L399.26,375.4 L399.47,375.35 L399.68,375.57 L399.89,375.48 L400.1,375.49 L400.3,375.72 L400.51,375.63 L400.72,375.52 L400.93,375.91 L401.14,375.89 L401.35,375.61 L401.56,375.75 L401.76,375.83 L401.97,375.69 L402.18,375.85 L402.39,375.99 L402.6,375.92 L402.81,375.76 L403.01,375.82 L403.22,375.89 L403.43,376.08 L403.64,375.68 L403.85,376.03 L404.06,375.9 L404.27,375.61 L404.47,375.4 L404.68,375.26 L404.89,375.02 L405.1,374.34 L405.31,373.65 L405.52,372.76 L405.73,371.54 L405.93,370.32 L406.14,368.91 L406.35,367.59 L406.56,366.08 L406.77,365.3 L406.98,364.62 L407.18,364.18 L407.39,364.67 L407.6,364.84 L407.81,365.83 L408.02,366.6 L408.23,367.68 L408.44,368.63 L408.64,369.61 L408.85,370.77 L409.06,371.53 L409.27,372.15 L409.48,373.15 L409.69,373.68 L409.9,374.13 L410.1,374.51 L410.31,374.82 L410.52,374.64 L410.73,374.79 L410.94,375.27 L411.15,375.04 L411.35,375.2 L411.56,375.38 L411.77,375.12 L411.98,375.41 L412.19,375.15 L412.4,375.03 L412.61,374.87 L412.81,374.85 L413.02,374.62 L413.23,374.12 L413.44,373.92 L413.65,373.46 L413.86,373.1 L414.07,373.13 L414.27,372.7 L414.48,372.56 L414.69,372.87 L414.9,372.95 L415.11,373.25 L415.32,373.27 L415.52,373.79 L415.73,374.12 L415.94,374.23 L416.15,374.52 L416.36,374.7 L416.57,375.04 L416.78,374.9 L416.98,375.16 L417.19,375.27 L417.4,375.11 L417.61,375.31 L417.82,374.8 L418.03,374.61 L418.24,374.53 L418.44,374.09 L418.65,373.86 L418.86,373.16 L419.07,372.72 L419.28,372.57 L419.49,372.23 L419.69,372.37 L419.9,372.31 L420.11,372.48 L420.32,372.66 L420.53,373.12 L420.74,373.41 L420.95,373.91 L421.15,373.86 L421.36,374.51 L421.57,374.59 L421.78,374.82 L421.99,375.2 L422.2,375.3 L422.41,375.46 L422.61,375.68 L422.82,375.61 L423.03,375.68 L423.24,375.6 L423.45,375.64 L423.66,375.58 L423.86,375.63 L424.07,375.9 L424.28,375.78 L424.49,375.76 L424.7,375.74 L424.91,376.01 L425.12,375.95 L425.32,375.85 L425.53,375.98 L425.74,375.75 L425.95,375.96 L426.16,375.85 L426.37,376.11 L426.58,375.79 L426.78,375.77 L426.99,375.78 L427.2,376.04 L427.41,375.85 L427.62,375.79 L427.83,376.15 L428.03,376.17 L428.24,375.94 L428.45,375.81 L428.66,376.2 L428.87,375.88 L429.08,375.94 L429.29,376.01 L429.49,376.13 L429.7,375.95 L429.91,375.91 L430.12,375.97 L430.33,375.6 L430.54,375.55 L430.75,375.63 L430.95,375.29 L431.16,375.12 L431.37,374.8 L431.58,374.62 L431.79,374.52 L432,374.77 L432.2,374.6 L432.41,374.74 L432.62,374.57 L432.83,374.93 L433.04,374.74 L433.25,374.95 L433.46,375.08 L433.66,375.09 L433.87,375.24 L434.08,375.41 L434.29,375.56 L434.5,375.68 L434.71,375.76 L434.92,376.01 L435.12,375.99 L435.33,375.83 L435.54,375.96 L435.75,375.97 L435.96,375.83 L436.17,376.02 L436.37,375.89 L436.58,375.87 L436.79,375.87 L437,376.11 L437.21,375.97 L437.42,376.03 L437.63,375.99 L437.83,376.19 L438.04,376.15 L438.25,376.14 L438.46,375.92 L438.67,375.93 L438.88,376.09 L439.09,376 L439.29,376.07 L439.5,376.04 L439.71,376.15 L439.92,376.12 L440.13,375.88 L440.34,375.91 L440.54,376.22 L440.75,376.22 L440.96,375.92 L441.17,376.09 L441.38,376.02 L441.59,376.03 L441.8,376.03 L442,375.91 L442.21,376.22 L442.42,375.93 L442.63,376.18 L442.84,376.25 L443.05,376.16 L443.26,376.08 L443.46,375.96 L443.67,376.05 L443.88,375.9 L444.09,376.21 L444.3,376.14 L444.51,376.06 L444.71,376.05 L444.92,376.01 L445.13,376.09 L445.34,376.25 L445.55,375.98 L445.76,375.97 L445.97,376.26 L446.17,375.97 L446.38,376.29 L446.59,376.02 L446.8,376.04 L447.01,376.17 L447.22,376.26 L447.43,376.19 L447.63,376.04 L447.84,376.08 L448.05,375.97 L448.26,376.23 L448.47,376.05 L448.68,376.17 L448.88,376.28 L449.09,376.22 L449.3,376.25 L449.51,376.23 L449.72,376.28 L449.93,375.91 L450.14,376.15 L450.34,375.99 L450.55,376.13 L450.76,376.09 L450.97,376.2 L451.18,375.92 L451.39,376.21 L451.6,375.91 L451.8,375.99 L452.01,375.95 L452.22,376.26 L452.43,375.9 L452.64,376.04 L452.85,376.07 L453.05,376.07 L453.26,376.12 L453.47,375.92 L453.68,375.91 L453.89,375.92 L454.1,376.24 L454.31,376.09 L454.51,376.02 L454.72,376.23 L454.93,375.94 L455.14,376 L455.35,376.25 L455.56,376.18 L455.77,376.03 L455.97,375.95 L456.18,375.9 L456.39,376.19 L456.6,375.97 L456.81,376.07 L457.02,376.15 L457.22,376.2 L457.43,376.26 L457.64,376.29 L457.85,376.13 L458.06,376.25 L458.27,376.22 L458.48,376.17 L458.68,376.25 L458.89,376.22 L459.1,376.2 L459.31,375.91 L459.52,376.13 L459.73,376.05 L459.94,376.08 L460.14,375.92 L460.35,375.97 L460.56,375.93 L460.77,375.95 L460.98,376 L461.19,375.95 L461.39,376.17 L461.6,376.06 L461.81,376.17 L462.02,375.93 L462.23,376.19 L462.44,375.9 L462.65,376.21 L462.85,376.16 L463.06,376 L463.27,376.07 L463.48,376.21 L463.69,376.25 L463.9,375.95 L464.11,376.22 L464.31,376.1 L464.52,375.97 L464.73,376.11 L464.94,376.11 L465.15,376.23 L465.36,375.93 L465.56,376.06 L465.77,376.03 L465.98,376.14 L466.19,376.02 L466.4,376.15 L466.61,376.23 L466.82,376.16 L467.02,376 L467.23,375.95 L467.44,376.09 L467.65,376.04 L467.86,375.93 L468.07,376.04 L468.28,375.91 L468.48,376.2 L468.48,378.3 L299.39,378.3 L299.39,376.1" fill="none" stroke="#4040e0" stroke-width="0.95" stroke-linejoin="round"/>
<text x="299.59" y="379.8" font-family='"Liberation Sans", sans-serif' font-size="7.5" font-weight="normal" fill="#3a3a3a" text-anchor="end" >(D)</text>
<path d="M295.94,387.15 L296.15,387.2 L296.36,387.27 L296.57,387.26 L296.77,387.43 L296.98,387.49 L297.19,387.49 L297.4,387.14 L297.61,387.34 L297.82,387.26 L298.03,387.32 L298.23,387.15 L298.44,387.21 L298.65,387.35 L298.86,387.24 L299.07,387.41 L299.28,387.12 L299.48,387.44 L299.69,387.14 L299.9,387.29 L300.11,387.44 L300.32,387.11 L300.53,387.42 L300.74,387.23 L300.94,387.4 L301.15,387.45 L301.36,387.18 L301.57,387.14 L301.78,387.14 L301.99,387.23 L302.2,387.24 L302.4,387.44 L302.61,387.1 L302.82,387.37 L303.03,387.24 L303.24,387.49 L303.45,387.37 L303.65,387.29 L303.86,387.31 L304.07,387.33 L304.28,387.35 L304.49,387.49 L304.7,387.24 L304.91,387.36 L305.11,387.45 L305.32,387.35 L305.53,387.23 L305.74,387.2 L305.95,387.33 L306.16,387.45 L306.37,387.25 L306.57,387.26 L306.78,387.31 L306.99,387.11 L307.2,387.35 L307.41,387.29 L307.62,387.49 L307.82,387.45 L308.03,387.42 L308.24,387.43 L308.45,387.43 L308.66,387.46 L308.87,387.13 L309.08,387.27 L309.28,387.3 L309.49,387.28 L309.7,387.39 L309.91,387.15 L310.12,387.21 L310.33,387.33 L310.54,387.49 L310.74,387.5 L310.95,387.49 L311.16,387.21 L311.37,387.49 L311.58,387.32 L311.79,387.29 L311.99,387.35 L312.2,387.38 L312.41,387.12 L312.62,387.12 L312.83,387.2 L313.04,387.29 L313.25,387.12 L313.45,387.22 L313.66,387.41 L313.87,387.44 L314.08,387.44 L314.29,387.46 L314.5,387.34 L314.71,387.26 L314.91,387.42 L315.12,387.47 L315.33,387.37 L315.54,387.32 L315.75,387.15 L315.96,387.14 L316.16,387.17 L316.37,387.4 L316.58,387.17 L316.79,387.39 L317,387.27 L317.21,387.29 L317.42,387.41 L317.62,387.28 L317.83,387.39 L318.04,387.18 L318.25,387.41 L318.46,387.19 L318.67,387.42 L318.88,387.5 L319.08,387.32 L319.29,387.15 L319.5,387.25 L319.71,387.4 L319.92,387.29 L320.13,387.36 L320.33,387.22 L320.54,387.35 L320.75,387.37 L320.96,386.99 L321.17,387.29 L321.38,387.13 L321.59,386.86 L321.79,386.59 L322,386.13 L322.21,385.68 L322.42,385.23 L322.63,384.29 L322.84,383.61 L323.05,383.1 L323.25,382.44 L323.46,381.93 L323.67,381.42 L323.88,381.25 L324.09,381.34 L324.3,381.79 L324.5,381.9 L324.71,382.33 L324.92,383.01 L325.13,383.68 L325.34,384.18 L325.55,384.46 L325.76,385.18 L325.96,385.36 L326.17,385.66 L326.38,386.22 L326.59,386.4 L326.8,386.53 L327.01,386.59 L327.22,386.53 L327.42,386.62 L327.63,386.84 L327.84,387.04 L328.05,386.85 L328.26,387.01 L328.47,386.98 L328.67,386.71 L328.88,386.94 L329.09,386.85 L329.3,386.66 L329.51,386.45 L329.72,386.67 L329.93,386.3 L330.13,386.11 L330.34,386.15 L330.55,386.01 L330.76,385.79 L330.97,385.71 L331.18,385.55 L331.39,385.48 L331.59,385.68 L331.8,385.87 L332.01,385.76 L332.22,385.92 L332.43,386.26 L332.64,386.38 L332.84,386.5 L333.05,386.78 L333.26,386.67 L333.47,386.73 L333.68,386.9 L333.89,386.92 L334.1,386.84 L334.3,386.99 L334.51,386.99 L334.72,386.94 L334.93,387.02 L335.14,387.14 L335.35,386.94 L335.56,386.94 L335.76,387.27 L335.97,386.87 L336.18,387.15 L336.39,386.78 L336.6,386.74 L336.81,386.51 L337.01,386.45 L337.22,386.19 L337.43,385.9 L337.64,385.57 L337.85,385.21 L338.06,384.86 L338.27,384.34 L338.47,384.28 L338.68,384.09 L338.89,384.11 L339.1,384.46 L339.31,384.75 L339.52,384.69 L339.73,385.25 L339.93,385.36 L340.14,385.49 L340.35,386.03 L340.56,386.21 L340.77,386.26 L340.98,386.65 L341.18,386.49 L341.39,386.65 L341.6,386.81 L341.81,386.79 L342.02,387.1 L342.23,386.86 L342.44,387.01 L342.64,387.1 L342.85,386.95 L343.06,387.11 L343.27,387.28 L343.48,387.03 L343.69,387.31 L343.9,387.11 L344.1,387.26 L344.31,387.19 L344.52,387.19 L344.73,387.09 L344.94,387.12 L345.15,387.24 L345.35,387.3 L345.56,387.08 L345.77,387.37 L345.98,387.17 L346.19,387.12 L346.4,387.16 L346.61,387.41 L346.81,387.39 L347.02,387.17 L347.23,387.12 L347.44,387.18 L347.65,387.05 L347.86,387.16 L348.07,387.28 L348.27,387.07 L348.48,387.36 L348.69,387.41 L348.9,387.3 L349.11,387.45 L349.32,387.23 L349.52,387.25 L349.73,387.39 L349.94,387.22 L350.15,387.28 L350.36,387.19 L350.57,387.16 L350.78,387.15 L350.98,387.2 L351.19,387.44 L351.4,387.25 L351.61,387.21 L351.82,387.4 L352.03,387.33 L352.24,387.27 L352.44,387.37 L352.65,387.45 L352.86,387.37 L353.07,387.32 L353.28,387.18 L353.49,387.09 L353.69,387.15 L353.9,387.13 L354.11,387.1 L354.32,387.28 L354.53,387.24 L354.74,387.48 L354.95,387.2 L355.15,387.16 L355.36,387.35 L355.57,387.25 L355.78,387.45 L355.99,387.12 L356.2,387.32 L356.41,387.31 L356.61,387.4 L356.82,387.14 L357.03,387.1 L357.24,387.3 L357.45,387.23 L357.66,387.26 L357.86,386.97 L358.07,386.76 L358.28,386.25 L358.49,385.84 L358.7,384.44 L358.91,382.35 L359.12,379.87 L359.32,375.55 L359.53,370.12 L359.74,363.07 L359.95,354.27 L360.16,343.94 L360.37,333.38 L360.58,322.38 L360.78,312.25 L360.99,304.51 L361.2,299.31 L361.41,297.26 L361.62,299.21 L361.83,303.25 L362.03,308.36 L362.24,315.08 L362.45,322.69 L362.66,330.76 L362.87,338.39 L363.08,346.18 L363.29,352.72 L363.49,358.91 L363.7,363.88 L363.91,368.23 L364.12,371.57 L364.33,374.08 L364.54,376.3 L364.75,377.89 L364.95,378.79 L365.16,379.67 L365.37,380.7 L365.58,380.95 L365.79,381.43 L366,382.02 L366.2,382.34 L366.41,382.71 L366.62,382.66 L366.83,383.22 L367.04,383.15 L367.25,383.38 L367.46,383.51 L367.66,384.05 L367.87,383.96 L368.08,384.42 L368.29,384.58 L368.5,384.44 L368.71,384.87 L368.92,384.77 L369.12,384.8 L369.33,385.13 L369.54,385.27 L369.75,385.19 L369.96,385.4 L370.17,385.36 L370.37,385.57 L370.58,385.76 L370.79,386 L371,385.75 L371.21,385.88 L371.42,386.19 L371.63,386.04 L371.83,386.27 L372.04,386.27 L372.25,386.44 L372.46,386.52 L372.67,386.42 L372.88,386.37 L373.09,386.41 L373.29,386.4 L373.5,386.42 L373.71,386.52 L373.92,386.76 L374.13,386.58 L374.34,386.63 L374.54,386.91 L374.75,386.98 L374.96,386.65 L375.17,386.97 L375.38,386.72 L375.59,386.71 L375.8,386.94 L376,386.92 L376.21,387.12 L376.42,387.14 L376.63,386.85 L376.84,386.96 L377.05,387.12 L377.26,387.16 L377.46,387.22 L377.67,386.96 L377.88,387.17 L378.09,387.27 L378.3,386.97 L378.51,387.19 L378.71,387.25 L378.92,387.1 L379.13,387.19 L379.34,387.14 L379.55,387.17 L379.76,387.15 L379.97,387.26 L380.17,387.18 L380.38,387 L380.59,387.3 L380.8,387.21 L381.01,387.18 L381.22,387.15 L381.43,387.11 L381.63,386.85 L381.84,386.45 L382.05,386.28 L382.26,385.36 L382.47,383.89 L382.68,382.4 L382.88,379.43 L383.09,375.91 L383.3,371.13 L383.51,365.27 L383.72,358.81 L383.93,351.71 L384.14,344.28 L384.34,337.55 L384.55,332.44 L384.76,328.79 L384.97,327.76 L385.18,328.99 L385.39,331.52 L385.6,335.07 L385.8,339.54 L386.01,344.51 L386.22,349.74 L386.43,355.15 L386.64,359.87 L386.85,364.5 L387.05,368.53 L387.26,371.85 L387.47,374.75 L387.68,377.02 L387.89,378.49 L388.1,380.11 L388.31,381.07 L388.51,381.75 L388.72,382.37 L388.93,382.99 L389.14,383.28 L389.35,383.37 L389.56,383.87 L389.77,383.95 L389.97,384.29 L390.18,384.49 L390.39,384.29 L390.6,384.66 L390.81,384.79 L391.02,385.09 L391.22,385.18 L391.43,385.16 L391.64,385.11 L391.85,385.22 L392.06,385.54 L392.27,385.59 L392.48,385.8 L392.68,385.64 L392.89,386 L393.1,386.01 L393.31,386.13 L393.52,385.98 L393.73,386 L393.94,386.23 L394.14,386.33 L394.35,386.15 L394.56,386.53 L394.77,386.32 L394.98,386.54 L395.19,386.35 L395.39,386.66 L395.6,386.45 L395.81,386.5 L396.02,386.75 L396.23,386.82 L396.44,386.68 L396.65,386.94 L396.85,386.77 L397.06,386.9 L397.27,386.78 L397.48,387.03 L397.69,386.82 L397.9,387.01 L398.11,386.91 L398.31,386.87 L398.52,387.11 L398.73,387.06 L398.94,386.93 L399.15,386.95 L399.36,386.88 L399.56,387.24 L399.77,387.11 L399.98,387.13 L400.19,386.91 L400.4,387.04 L400.61,387.06 L400.82,387.04 L401.02,386.77 L401.23,386.56 L401.44,386.3 L401.65,385.51 L401.86,384.66 L402.07,383.88 L402.28,382.68 L402.48,381.14 L402.69,379.63 L402.9,378.14 L403.11,376.87 L403.32,376 L403.53,375.22 L403.73,374.98 L403.94,375.07 L404.15,375.6 L404.36,376.33 L404.57,377.52 L404.78,378.52 L404.99,379.3 L405.19,380.65 L405.4,381.58 L405.61,382.58 L405.82,383.29 L406.03,384.28 L406.24,384.53 L406.45,384.95 L406.65,385.4 L406.86,385.82 L407.07,385.89 L407.28,386.24 L407.49,386.14 L407.7,386.22 L407.9,386.37 L408.11,386.35 L408.32,386.4 L408.53,386.37 L408.74,386.3 L408.95,386.3 L409.16,386.15 L409.36,386.11 L409.57,386.19 L409.78,385.95 L409.99,385.46 L410.2,385.57 L410.41,385.06 L410.62,384.96 L410.82,385.1 L411.03,384.78 L411.24,384.91 L411.45,385.22 L411.66,385.3 L411.87,385.33 L412.07,385.54 L412.28,385.75 L412.49,385.82 L412.7,386.22 L412.91,386.16 L413.12,386.24 L413.33,386.39 L413.53,386.62 L413.74,386.72 L413.95,386.59 L414.16,386.55 L414.37,386.3 L414.58,386.33 L414.79,385.98 L414.99,385.75 L415.2,385.39 L415.41,384.97 L415.62,384.56 L415.83,384.2 L416.04,384.21 L416.24,383.95 L416.45,384.19 L416.66,384.14 L416.87,384.58 L417.08,384.81 L417.29,385.14 L417.5,385.16 L417.7,385.51 L417.91,385.62 L418.12,386.04 L418.33,386.14 L418.54,386.56 L418.75,386.39 L418.96,386.86 L419.16,386.9 L419.37,386.65 L419.58,387.08 L419.79,386.77 L420,386.78 L420.21,387.18 L420.41,387.06 L420.62,386.93 L420.83,386.88 L421.04,387.06 L421.25,386.93 L421.46,387.13 L421.67,387.01 L421.87,387.3 L422.08,387.07 L422.29,387.26 L422.5,387.06 L422.71,387.25 L422.92,387.36 L423.13,387.19 L423.33,387.29 L423.54,387.18 L423.75,387.39 L423.96,387.23 L424.17,387.32 L424.38,387.27 L424.58,387.17 L424.79,387.12 L425,387.23 L425.21,387.25 L425.42,387.31 L425.63,387.18 L425.84,387.12 L426.04,387.31 L426.25,387.34 L426.46,387.08 L426.67,387.21 L426.88,386.96 L427.09,386.96 L427.3,387.05 L427.5,386.84 L427.71,386.49 L427.92,386.41 L428.13,386.37 L428.34,386.15 L428.55,386.09 L428.75,386.16 L428.96,386.15 L429.17,386.34 L429.38,386.24 L429.59,386.56 L429.8,386.38 L430.01,386.46 L430.21,386.61 L430.42,386.64 L430.63,386.83 L430.84,386.9 L431.05,387.18 L431.26,386.98 L431.47,387.28 L431.67,386.98 L431.88,387.04 L432.09,387.03 L432.3,387.1 L432.51,387.3 L432.72,387.17 L432.92,387.23 L433.13,387.08 L433.34,387.19 L433.55,387.27 L433.76,387.15 L433.97,387.13 L434.18,387.19 L434.38,387.3 L434.59,387.19 L434.8,387.23 L435.01,387.41 L435.22,387.35 L435.43,387.4 L435.64,387.26 L435.84,387.42 L436.05,387.16 L436.26,387.23 L436.47,387.42 L436.68,387.19 L436.89,387.16 L437.09,387.46 L437.3,387.18 L437.51,387.29 L437.72,387.12 L437.93,387.11 L438.14,387.23 L438.35,387.16 L438.55,387.41 L438.76,387.19 L438.97,387.21 L439.18,387.19 L439.39,387.31 L439.6,387.39 L439.81,387.34 L440.01,387.42 L440.22,387.22 L440.43,387.22 L440.64,387.24 L440.85,387.18 L441.06,387.38 L441.26,387.25 L441.47,387.17 L441.68,387.24 L441.89,387.42 L442.1,387.38 L442.31,387.37 L442.52,387.37 L442.72,387.22 L442.93,387.34 L443.14,387.41 L443.35,387.12 L443.56,387.26 L443.77,387.13 L443.98,387.32 L444.18,387.45 L444.39,387.47 L444.6,387.13 L444.81,387.49 L445.02,387.47 L445.23,387.26 L445.43,387.33 L445.64,387.48 L445.85,387.36 L446.06,387.26 L446.27,387.43 L446.48,387.35 L446.69,387.4 L446.89,387.3 L447.1,387.14 L447.31,387.26 L447.52,387.2 L447.73,387.17 L447.94,387.49 L448.15,387.46 L448.35,387.17 L448.56,387.3 L448.77,387.33 L448.98,387.15 L449.19,387.4 L449.4,387.31 L449.6,387.18 L449.81,387.22 L450.02,387.47 L450.23,387.4 L450.44,387.15 L450.65,387.25 L450.86,387.34 L451.06,387.14 L451.27,387.29 L451.48,387.15 L451.69,387.39 L451.9,387.25 L452.11,387.35 L452.32,387.5 L452.52,387.24 L452.73,387.29 L452.94,387.37 L453.15,387.37 L453.36,387.33 L453.57,387.25 L453.77,387.11 L453.98,387.21 L454.19,387.12 L454.4,387.38 L454.61,387.49 L454.82,387.44 L455.03,387.16 L455.23,387.46 L455.44,387.2 L455.65,387.1 L455.86,387.19 L456.07,387.3 L456.28,387.42 L456.49,387.16 L456.69,387.42 L456.9,387.5 L457.11,387.31 L457.32,387.13 L457.53,387.1 L457.74,387.29 L457.94,387.48 L458.15,387.31 L458.36,387.32 L458.57,387.24 L458.78,387.35 L458.99,387.34 L459.2,387.16 L459.4,387.18 L459.61,387.4 L459.82,387.28 L460.03,387.48 L460.24,387.3 L460.45,387.49 L460.66,387.25 L460.86,387.34 L461.07,387.13 L461.28,387.3 L461.49,387.43 L461.7,387.2 L461.91,387.34 L462.11,387.28 L462.32,387.21 L462.53,387.34 L462.74,387.29 L462.95,387.48 L463.16,387.38 L463.37,387.47 L463.57,387.3 L463.78,387.31 L463.99,387.42 L464.2,387.36 L464.41,387.5 L464.62,387.12 L464.83,387.15 L465.03,387.38 L465.03,389.4 L295.94,389.4 L295.94,387.3" fill="none" stroke="#ff4cff" stroke-width="0.95" stroke-linejoin="round"/>
<text x="296.14" y="390.95" font-family='"Liberation Sans", sans-serif' font-size="7.5" font-weight="normal" fill="#3a3a3a" text-anchor="end" >(E)</text>
<line x1="478.83" y1="345.2" x2="483.6" y2="345.2" stroke="#3a3a3a" stroke-width="0.9"/>
<line x1="479.3" y1="345.2" x2="464.4" y2="390.6" stroke="#3a3a3a" stroke-width="0.85"/>
<line x1="475.38" y1="356.1" x2="480.6" y2="356.1" stroke="#555" stroke-width="0.7"/>
<line x1="471.93" y1="367.1" x2="477" y2="367.1" stroke="#555" stroke-width="0.7"/>
<line x1="468.48" y1="378.3" x2="473.6" y2="378.3" stroke="#555" stroke-width="0.7"/>
<line x1="465.03" y1="389.4" x2="468.6" y2="389.4" stroke="#555" stroke-width="0.7"/>
<line x1="297.4" y1="389.8" x2="297.4" y2="391.6" stroke="#888" stroke-width="0.6"/>
<line x1="307.82" y1="389.8" x2="307.82" y2="390.9" stroke="#888" stroke-width="0.6"/>
<line x1="318.25" y1="389.8" x2="318.25" y2="391.6" stroke="#888" stroke-width="0.6"/>
<line x1="328.67" y1="389.8" x2="328.67" y2="390.9" stroke="#888" stroke-width="0.6"/>
<line x1="339.1" y1="389.8" x2="339.1" y2="391.6" stroke="#888" stroke-width="0.6"/>
<line x1="349.52" y1="389.8" x2="349.52" y2="390.9" stroke="#888" stroke-width="0.6"/>
<line x1="359.95" y1="389.8" x2="359.95" y2="391.6" stroke="#888" stroke-width="0.6"/>
<line x1="370.38" y1="389.8" x2="370.38" y2="390.9" stroke="#888" stroke-width="0.6"/>
<line x1="380.8" y1="389.8" x2="380.8" y2="391.6" stroke="#888" stroke-width="0.6"/>
<line x1="391.22" y1="389.8" x2="391.22" y2="390.9" stroke="#888" stroke-width="0.6"/>
<line x1="401.65" y1="389.8" x2="401.65" y2="391.6" stroke="#888" stroke-width="0.6"/>
<line x1="412.07" y1="389.8" x2="412.07" y2="390.9" stroke="#888" stroke-width="0.6"/>
<line x1="422.5" y1="389.8" x2="422.5" y2="391.6" stroke="#888" stroke-width="0.6"/>
<line x1="432.92" y1="389.8" x2="432.92" y2="390.9" stroke="#888" stroke-width="0.6"/>
<line x1="443.35" y1="389.8" x2="443.35" y2="391.6" stroke="#888" stroke-width="0.6"/>
<line x1="453.77" y1="389.8" x2="453.77" y2="390.9" stroke="#888" stroke-width="0.6"/>
<line x1="464.2" y1="389.8" x2="464.2" y2="391.6" stroke="#888" stroke-width="0.6"/>
<text x="297.4" y="401.2" font-family='"Liberation Sans", sans-serif' font-size="6.8" font-weight="normal" fill="#444" text-anchor="middle" >8</text>
<text x="318.25" y="401.2" font-family='"Liberation Sans", sans-serif' font-size="6.8" font-weight="normal" fill="#444" text-anchor="middle" >9</text>
<text x="339.1" y="401.2" font-family='"Liberation Sans", sans-serif' font-size="6.8" font-weight="normal" fill="#444" text-anchor="middle" >10</text>
<text x="359.95" y="401.2" font-family='"Liberation Sans", sans-serif' font-size="6.8" font-weight="normal" fill="#444" text-anchor="middle" >11</text>
<text x="380.8" y="401.2" font-family='"Liberation Sans", sans-serif' font-size="6.8" font-weight="normal" fill="#444" text-anchor="middle" >12</text>
<text x="401.65" y="401.2" font-family='"Liberation Sans", sans-serif' font-size="6.8" font-weight="normal" fill="#444" text-anchor="middle" >13</text>
<text x="422.5" y="401.2" font-family='"Liberation Sans", sans-serif' font-size="6.8" font-weight="normal" fill="#444" text-anchor="middle" >14</text>
<text x="443.35" y="401.2" font-family='"Liberation Sans", sans-serif' font-size="6.8" font-weight="normal" fill="#444" text-anchor="middle" >15</text>
<text x="464.2" y="401.2" font-family='"Liberation Sans", sans-serif' font-size="6.8" font-weight="normal" fill="#444" text-anchor="middle" >16</text>
<text x="390.2" y="414.3" font-family='"Liberation Serif", serif' font-size="12.9" font-weight="bold" fill="#111" text-anchor="middle" >Retention time (min)</text>
<text x="411.6" y="453.9" font-family='"Liberation Serif", serif' font-size="14.3" font-weight="normal" fill="#111" text-anchor="middle" >(<tspan font-weight="bold">d</tspan>)</text>
<line x1="479.3" y1="345.2" x2="479.3" y2="247.4" stroke="#3a3a3a" stroke-width="0.9"/>
<text x="488.7" y="347.1" font-family='"Liberation Sans", sans-serif' font-size="5.6" font-weight="normal" fill="#444" text-anchor="start" >0.0</text>
<line x1="479.3" y1="337.05" x2="481.6" y2="337.05" stroke="#3a3a3a" stroke-width="0.8"/>
<line x1="479.3" y1="328.9" x2="484" y2="328.9" stroke="#3a3a3a" stroke-width="0.9"/>
<text x="488.7" y="330.8" font-family='"Liberation Sans", sans-serif' font-size="5.6" font-weight="normal" fill="#444" text-anchor="start" >5.0x10<tspan font-size="3.3" dy="-2.2">4</tspan></text>
<line x1="479.3" y1="320.75" x2="481.6" y2="320.75" stroke="#3a3a3a" stroke-width="0.8"/>
<line x1="479.3" y1="312.6" x2="484" y2="312.6" stroke="#3a3a3a" stroke-width="0.9"/>
<text x="488.7" y="314.5" font-family='"Liberation Sans", sans-serif' font-size="5.6" font-weight="normal" fill="#444" text-anchor="start" >1.0x10<tspan font-size="3.3" dy="-2.2">5</tspan></text>
<line x1="479.3" y1="304.45" x2="481.6" y2="304.45" stroke="#3a3a3a" stroke-width="0.8"/>
<line x1="479.3" y1="296.3" x2="484" y2="296.3" stroke="#3a3a3a" stroke-width="0.9"/>
<text x="488.7" y="298.2" font-family='"Liberation Sans", sans-serif' font-size="5.6" font-weight="normal" fill="#444" text-anchor="start" >1.5x10<tspan font-size="3.3" dy="-2.2">5</tspan></text>
<line x1="479.3" y1="288.15" x2="481.6" y2="288.15" stroke="#3a3a3a" stroke-width="0.8"/>
<line x1="479.3" y1="280" x2="484" y2="280" stroke="#3a3a3a" stroke-width="0.9"/>
<text x="488.7" y="281.9" font-family='"Liberation Sans", sans-serif' font-size="5.6" font-weight="normal" fill="#444" text-anchor="start" >2.0x10<tspan font-size="3.3" dy="-2.2">5</tspan></text>
<line x1="479.3" y1="271.85" x2="481.6" y2="271.85" stroke="#3a3a3a" stroke-width="0.8"/>
<line x1="479.3" y1="263.7" x2="484" y2="263.7" stroke="#3a3a3a" stroke-width="0.9"/>
<text x="488.7" y="265.6" font-family='"Liberation Sans", sans-serif' font-size="5.6" font-weight="normal" fill="#444" text-anchor="start" >2.5x10<tspan font-size="3.3" dy="-2.2">5</tspan></text>
<line x1="479.3" y1="255.55" x2="481.6" y2="255.55" stroke="#3a3a3a" stroke-width="0.8"/>
<line x1="479.3" y1="247.4" x2="484" y2="247.4" stroke="#3a3a3a" stroke-width="0.9"/>
<text x="488.7" y="249.3" font-family='"Liberation Sans", sans-serif' font-size="5.6" font-weight="normal" fill="#444" text-anchor="start" >3.0x10<tspan font-size="3.3" dy="-2.2">5</tspan></text>
<text x="0" y="0" font-family='"Liberation Serif", serif' font-size="14.2" font-weight="bold" fill="#111" text-anchor="middle" transform="translate(528.3,299.5) rotate(-90)">Intensity</text>
<line x1="515.6" y1="330.2" x2="520.8" y2="330.2" stroke="#bbb" stroke-width="0.8"/>
<text x="0" y="0" font-family='"Liberation Sans", sans-serif' font-size="7.3" font-weight="bold" fill="#2a2a2a" text-anchor="start" transform="translate(341.6,273.8) rotate(-90)">(CH<tspan font-size="4.6" dy="2">2</tspan><tspan dy="-2">)</tspan><tspan font-size="4.6" dy="2">2</tspan><tspan dy="-2">S</tspan><tspan font-size="4.6" dy="2">3</tspan></text>
<text x="0" y="0" font-family='"Liberation Sans", sans-serif' font-size="7.3" font-weight="bold" fill="#2a2a2a" text-anchor="start" transform="translate(377.7,269.3) rotate(-90)">(CH<tspan font-size="4.6" dy="2">2</tspan><tspan dy="-2">)</tspan><tspan font-size="4.6" dy="2">2</tspan><tspan dy="-2">S</tspan><tspan font-size="4.6" dy="2">4</tspan></text>
<text x="0" y="0" font-family='"Liberation Sans", sans-serif' font-size="7.3" font-weight="bold" fill="#2a2a2a" text-anchor="start" transform="translate(400.9,251.8) rotate(-90)">(CH<tspan font-size="4.6" dy="2">2</tspan><tspan dy="-2">)</tspan><tspan font-size="4.6" dy="2">2</tspan><tspan dy="-2">S</tspan><tspan font-size="4.6" dy="2">5</tspan></text>
<text x="0" y="0" font-family='"Liberation Sans", sans-serif' font-size="7.3" font-weight="bold" fill="#2a2a2a" text-anchor="start" transform="translate(417.3,255.2) rotate(-90)">(CH<tspan font-size="4.6" dy="2">2</tspan><tspan dy="-2">)</tspan><tspan font-size="4.6" dy="2">2</tspan><tspan dy="-2">S</tspan><tspan font-size="4.6" dy="2">6</tspan></text>
<text x="0" y="0" font-family='"Liberation Sans", sans-serif' font-size="7.3" font-weight="bold" fill="#2a2a2a" text-anchor="start" transform="translate(431.3,267.4) rotate(-90)">(CH<tspan font-size="4.6" dy="2">2</tspan><tspan dy="-2">)</tspan><tspan font-size="4.6" dy="2">2</tspan><tspan dy="-2">S</tspan><tspan font-size="4.6" dy="2">7</tspan></text>
<text x="0" y="0" font-family='"Liberation Sans", sans-serif' font-size="7.3" font-weight="bold" fill="#2a2a2a" text-anchor="start" transform="translate(446.3,268.5) rotate(-90)">S<tspan font-size="4.6" dy="2">8</tspan></text>
<line x1="340.3" y1="275.5" x2="340.3" y2="340" stroke="#444" stroke-width="0.9" stroke-dasharray="1 1.3"/>
<line x1="376.4" y1="270" x2="376.4" y2="309.5" stroke="#444" stroke-width="0.7"/>
<circle cx="376.4" cy="309.5" r="0.9" fill="#222"/>
<line x1="416.1" y1="256.2" x2="416.1" y2="276" stroke="#444" stroke-width="0.7"/>
<circle cx="416.1" cy="276" r="0.9" fill="#222"/>
<line x1="430" y1="268.4" x2="430" y2="315.5" stroke="#444" stroke-width="0.7"/>
<circle cx="430" cy="315.5" r="0.9" fill="#222"/>
<line x1="445" y1="269.3" x2="445" y2="325.5" stroke="#444" stroke-width="0.7"/>
<circle cx="445" cy="325.5" r="0.9" fill="#222"/>
<circle cx="340.3" cy="340.3" r="0.9" fill="#222"/>
</svg>
</body></html>
